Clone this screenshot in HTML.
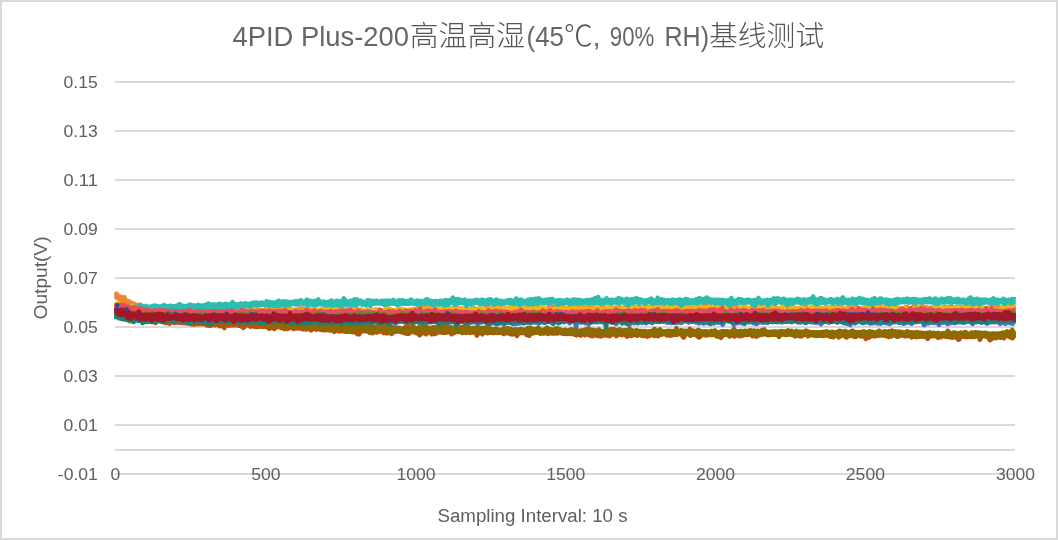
<!DOCTYPE html>
<html lang="zh">
<head>
<meta charset="utf-8">
<title>4PID Plus-200高温高湿(45℃, 90% RH)基线测试</title>
<style>
html,body{margin:0;padding:0;background:#fff;}
body{width:1058px;height:540px;overflow:hidden;}
svg{display:block;}
text{font-family:"Liberation Sans","Noto Sans CJK SC",sans-serif;fill:#5E5E5E;}
.t{font-size:27.5px;font-weight:300;fill:#666;}
.c{font-size:28.8px;font-weight:300;fill:#555;}
.a{font-size:16.5px;}
.b{font-size:18px;}
</style>
</head>
<body>
<svg width="1058" height="540" viewBox="0 0 1058 540">
<rect x="0" y="0" width="1058" height="540" fill="#fff"/>
<rect x="1" y="1" width="1056" height="538" fill="none" stroke="#D9D9D9" stroke-width="2"/>
<g fill="#D9D9D9">
<rect x="115" y="81" width="900" height="2"/>
<rect x="115" y="130" width="900" height="2"/>
<rect x="115" y="179" width="900" height="2"/>
<rect x="115" y="228" width="900" height="2"/>
<rect x="115" y="277" width="900" height="2"/>
<rect x="115" y="326" width="900" height="2"/>
<rect x="115" y="375" width="900" height="2"/>
<rect x="115" y="424" width="900" height="2"/>
<rect x="115" y="473" width="900" height="2"/>
<rect x="115" y="449" width="900" height="2"/>
</g>
<defs><clipPath id="cp"><rect x="114.2" y="60" width="901.6" height="420"/></clipPath></defs>
<g clip-path="url(#cp)">
<path fill="#4472C4" d="M114,310.6l1-0.4 1-1.3 1-1 1-0.3 1,0.1 1,0.7 1,3.1 1,0.1 1,0.1 1,0.1 1,0.1 1,0.4 1,0.3 1,0.1 1,0.1 1-0.2 1,0.3 1,0.5 1-0.1 1,0.1 1-0.2 1,0.1 1,0.6 1,0.5 1-0.6 1-0.3 1,0.2 1,0.7 1,0 1-0.1 1-0.5 1,0 1,0.5 1,1.2 1,0 1,0.4 1,0.1 1,0.3 1-0.3 1-0.4 1-0.2 1,0.1 1-0.4 1-0.6 1-1 1-0.4 1,0 1,0.4 1,2.9 1-0.4 1,0 1,0.5 1-1.9 1-0.5 1-0.1 1,0.4 1,1.4 1,0.3 1-0.4 1,0 1-0.4 1,0 1,0.5 1,0.6 1-0.5 1-0.2 1,0.2 1,0 1-0.1 1-1 1-0.5 1-0.1 1,0.3 1,1.2 1,0.5 1,0.3 1-0.4 1-0.5 1,0 1,0.4 1,0.4 1,0 1-0.8 1-0.2 1,0.2 1,0.8 1,0.3 1-0.2 1,0.2 1,0.1 1-0.5 1-0.1 1,0.3 1,0.4 1-0.6 1-0.1 1,0.4 1-0.3 1,0.2 1,0.3 1-0.1 1-0.5 1,0 1-0.3 1-0.3 1-0.2 1,0.3 1,0 1-0.3 1-0.4 1-0.4 1,0.1 1,0.6 1,1.9 1-0.3 1,0.1 1,0.1 1,0 1-0.1 1-0.9 1-0.9 1-0.2 1,0.1 1,0.7 1,1 1,0.3 1-0.6 1-0.1 1,0.1 1-0.1 1,0.3 1-0.2 1,0.2 1-0.3 1-0.1 1-0.1 1,0.1 1,0.6 1-0.6 1-0.8 1-0.2 1,0.2 1,0.8 1,1.1 1-0.3 1-0.1 1,0.2 1-0.2 1-0.1 1-0.3 1-0.1 1-0.5 1-0.4 1,0.1 1,0.6 1,0.4 1-0.1 1-0.3 1,0.2 1,0.3 1,0 1-0.1 1-0.2 1-0.4 1-0.2 1,0.2 1,0.7 1-0.8 1-0.5 1,0 1,0.5 1,0.1 1,0.1 1,0.4 1-0.1 1,0.1 1-0.1 1,0.3 1-0.1 1,0.3 1-0.3 1-0.2 1-0.3 1,0 1,0.6 1,0.8 1,0.4 1-0.5 1-0.7 1-0.2 1,0.3 1,0.1 1,0 1-0.8 1-0.2 1,0.2 1,0 1-0.2 1-0.6 1-0.4 1,0 1,0.5 1,1.5 1,0.2 1,0.3 1-0.3 1-0.2 1,0.2 1,0.6 1-0.8 1-0.3 1,0.1 1-0.1 1-0.4 1,0 1,0.4 1,0.7 1,0.1 1,0 1-0.1 1-0.8 1-0.2 1-0.7 1-0.2 1,0.2 1,0.7 1,0.3 1,0.3 1,0.3 1-1.4 1-0.5 1-0.6 1-0.8 1-0.2 1,0.2 1,0.1 1-0.4 1,0.1 1,0.6 1,2.3 1-0.2 1-0.2 1,0.1 1-0.3 1,0.1 1,0.3 1-0.5 1,0 1,0 1-0.5 1-0.6 1-0.1 1,0.4 1,1.1 1,0 1,0.2 1-0.4 1-0.5 1-0.1 1,0.4 1,0.5 1-0.4 1,0 1,0.1 1,0 1-0.2 1,0.1 1,0.3 1-0.4 1,0.1 1,0.4 1,0.4 1,0 1-0.5 1,0 1,0.5 1,0.6 1-0.1 1-0.6 1-0.4 1,0 1,0.4 1,0 1-1.7 1-0.5 1,0 1,0.4 1,0 1,0 1,0.4 1,0.3 1,0 1,0.6 1,0.9 1-0.4 1,0 1,0 1,0 1,0 1,0.4 1-0.4 1-0.2 1,0.2 1,0 1,0.2 1-0.1 1,0.1 1-0.3 1-0.3 1,0.1 1-0.2 1,0 1,0.5 1,0.3 1-0.6 1-0.3 1,0.1 1-0.6 1-0.3 1,0.1 1,0.6 1,0.6 1,0.3 1,0 1-1 1-0.6 1-0.1 1,0.4 1,1.1 1,0.2 1-0.3 1-0.4 1,0.1 1,0.5 1,0.4 1-0.3 1,0.1 1,0.3 1-0.1 1-0.2 1,0.3 1,0 1,0.2 1-0.8 1-0.7 1-0.2 1,0.3 1,0.4 1-1.4 1-0.6 1-0.1 1,0.4 1,1.1 1,1.2 1-0.2 1,0.2 1,0.3 1-0.6 1-0.1 1,0.3 1,0 1-0.1 1-0.1 1,0.4 1-0.2 1-0.2 1,0.2 1-0.3 1,0 1,0.4 1,0.1 1-0.5 1-0.4 1-0.3 1,0.2 1,0.5 1-0.6 1-0.1 1,0.4 1,1 1-0.6 1-0.3 1,0.1 1,0.6 1,0.3 1-0.4 1,0.1 1,0.5 1-0.7 1-0.2 1,0.2 1,0.5 1-0.1 1-0.1 1-0.4 1,0.1 1-0.1 1-0.2 1,0.2 1,0.7 1,0 1,0 1,0.5 1,0.2 1,0.1 1,0.1 1-0.6 1-0.1 1,0.3 1-1.2 1-0.8 1-0.3 1,0.1 1,0.7 1,0.3 1,0 1,0.3 1-1.1 1-0.4 1,0 1,0.5 1-0.1 1-0.1 1,0.3 1,0.8 1,0 1,0.5 1-0.4 1-0.1 1-0.3 1,0 1,0.3 1,0.5 1,0 1-1.5 1-0.4 1,0 1,0.4 1,0.8 1,0 1,0.1 1,0.5 1,0 1-0.1 1,0 1-0.3 1-0.4 1,0.1 1,0.6 1,0.3 1-0.9 1-0.2 1,0.2 1,0.4 1,0.2 1-0.5 1-0.3 1,0 1,0 1-0.3 1,0.2 1,0.6 1,0.2 1-0.6 1-2.1 1-0.7 1-0.1 1,0.3 1,1 1,1.7 1-0.7 1-0.2 1,0.2 1,0.6 1,0.7 1,0.4 1,0.1 1-0.1 1-0.7 1-0.2 1-0.3 1-0.4 1-0.2 1,0.2 1,0.2 1,0.6 1-0.4 1-0.1 1,0.3 1,0.1 1-0.1 1,0.1 1-0.2 1-0.4 1-0.5 1,0 1,0.4 1-0.4 1-0.1 1,0.2 1,0 1,0.4 1-0.2 1,0.3 1,0.3 1,0.4 1,0.3 1,0.2 1-1.1 1-0.4 1,0.1 1,0.5 1,0.3 1,0.4 1,0.4 1-0.2 1-0.1 1,0.2 1,0.2 1-0.6 1-0.2 1,0.2 1-1 1-0.6 1,0 1,0.3 1,1.2 1,0.3 1-0.5 1,0 1,0.1 1,0 1,0.6 1-0.3 1-0.5 1-0.2 1,0.1 1,0.5 1,0 1-1 1-0.3 1,0.1 1,0.4 1,0.4 1,0.5 1-0.1 1-0.1 1-0.3 1-0.3 1-0.4 1-0.1 1,0.3 1-0.1 1,0.4 1,0.6 1-0.1 1,0 1-0.1 1-0.4 1-0.3 1,0.2 1,0.4 1-0.3 1-0.1 1,0.3 1,0.1 1,0.4 1-0.6 1-0.4 1,0.1 1,0.3 1,0.2 1-0.1 1,0 1,0.3 1-0.2 1,0.2 1,0 1-0.3 1-0.9 1-0.2 1,0.1 1,0.7 1,0.3 1-0.4 1,0.1 1,0.6 1-0.2 1,0.2 1,0.5 1-2.2 1-0.4 1,0 1,0.4 1,1.1 1-0.1 1,0.3 1,0.5 1,0 1-0.5 1,0 1-0.3 1-0.3 1-0.1 1-0.4 1-0.1 1-0.4 1,0 1,0.4 1,1.7 1-0.1 1,0 1,0 1-0.6 1-0.1 1-0.3 1-0.3 1,0.2 1,0.7 1,0.2 1,0.4 1-0.5 1-0.2 1,0 1,0.5 1-0.2 1,0 1-0.2 1-0.2 1,0.1 1,0.8 1-0.1 1-0.9 1-0.7 1-0.1 1,0.3 1,0 1-0.2 1,0.1 1,0.8 1-0.1 1,0.1 1,0.5 1-0.4 1-0.1 1,0.3 1,1.2 1,0.1 1-0.3 1-0.2 1,0 1-1.2 1-0.4 1,0 1,0.5 1,0.6 1,0.1 1,0.1 1,0.1 1,0.2 1-0.2 1-0.2 1,0.1 1,0.4 1-0.4 1,0 1-0.2 1,0 1-0.7 1-0.1 1,0.2 1-0.4 1-0.3 1,0.2 1,0.6 1,0.3 1-0.7 1-0.5 1,0 1,0.4 1-0.1 1,0.2 1,0.4 1,0.4 1-0.3 1-0.2 1,0 1-0.2 1-1.9 1-0.5 1-0.1 1,0.4 1,1.4 1,0.8 1-0.1 1-0.5 1-0.5 1,0 1,0.5 1,1.3 1-0.4 1,0.1 1,0.2 1-1.6 1-0.7 1-0.1 1,0.2 1,0.9 1,1.7 1-0.4 1-0.1 1-0.3 1-0.1 1,0.2 1,0.3 1,0.3 1-0.5 1,0 1,0.3 1-0.1 1-0.8 1-0.6 1-0.1 1,0.1 1,0.6 1,0.7 1,0.2 1,0.1 1,0.2 1-1.4 1-0.6 1-0.1 1,0.4 1-0.3 1-0.2 1,0.2 1,0.8 1,0.6 1-0.7 1-0.6 1-0.1 1,0.4 1,0.7 1-1 1-0.3 1,0.1 1,0.7 1-0.4 1-0.4 1-0.1 1,0.1 1,0.6 1,1.2 1-0.3 1-0.2 1,0.3 1,0.3 1-0.3 1-0.2 1,0.2 1,0.8 1,0.2 1-0.8 1-0.7 1-0.2 1-0.4 1-0.2 1,0.3 1,1 1,0.1 1,0.1 1-0.2 1,0 1,0.4 1-1.3 1-0.6 1-0.1 1,0.1 1-0.6 1-0.1 1,0.4 1,1 1-0.5 1-0.1 1,0.4 1,1.4 1,0.3 1,0.2 1-1.1 1-0.5 1,0 1,0.4 1,0.5 1,1 1-1.1 1-1.4 1-0.4 1,0.1 1,0.5 1,1.8 1-0.4 1,0.1 1,0.5 1-0.3 1-0.2 1-0.2 1,0.1 1,0.1 1,0.3 1-0.3 1,0 1-0.1 1,0.1 1,0 1-0.1 1,0.1 1,0.1 1,0 1-0.5 1-0.2 1-0.1 1,0.1 1-0.5 1-0.4 1,0.1 1,0.1 1-0.1 1,0.3 1,0.3 1-0.2 1,0.3 1,0.6 1-0.8 1-0.4 1,0.1 1,0.1 1,0.2 1-0.2 1-0.1 1,0.1 1,0.8 1-0.4 1-0.5 1-0.2 1,0.3 1,0.2 1,0.4 1-0.6 1-0.1 1,0.4 1,1 1-0.2 1-0.1 1-0.4 1-0.6 1,0 1,0.4 1-0.9 1-0.3 1,0.1 1,0.6 1,0.8 1,0 1-0.1 1-0.2 1,0.2 1,0.1 1-0.4 1,0 1,0.4 1-0.1 1-0.2 1,0.1 1,0.2 1,0 1,0.3 1,0 1-0.6 1-0.4 1,0.1 1,0.5 1-1.3 1-1.4 1-0.4 1,0.1 1,0.5 1,2.7 1-0.4 1-0.8 1-0.3 1,0.2 1,0.7 1-0.5 1-0.5 1,0 1,0.4 1,1 1,0 1-0.1 1-0.1 1,0.1 1,0.4 1,1 0,4.7 -1,0.7 -1,0.2 -1,1.7 -1,0.4 -1,0 -1-0.4 -1-0.3 -1,0 -1-0.5 -1,0.8 -1,0.6 -1,0 -1-0.3 -1-1.2 -1,0.8 -1,0.6 -1,0.1 -1-0.2 -1-1.1 -1-0.2 -1-0.4 -1,0.3 -1,0 -1-0.3 -1,0.3 -1-0.1 -1,0.4 -1,0.1 -1,0.8 -1,0.2 -1-0.2 -1-0.8 -1-0.7 -1,0.6 -1,0.2 -1-0.1 -1-0.7 -1-0.5 -1,0.3 -1,0.3 -1,0.4 -1-0.1 -1,1.2 -1,0.4 -1,0 -1-0.5 -1-1.5 -1-0.7 -1,0.3 -1,0.2 -1,0.6 -1,0.2 -1-0.1 -1-0.6 -1-0.1 -1,0.4 -1,0.2 -1-0.2 -1-0.5 -1,0.5 -1,0.2 -1-0.3 -1-0.8 -1,0.3 -1,1.2 -1,0.4 -1-0.1 -1,0.8 -1,0.3 -1-0.1 -1-0.5 -1-1.2 -1,0.3 -1,0 -1-0.3 -1,1.5 -1,0.8 -1,0.2 -1-0.2 -1-0.8 -1-1 -1,0.1 -1-0.2 -1-0.1 -1,0.2 -1-0.2 -1,0.2 -1,0.6 -1,0.1 -1-0.3 -1,1 -1,0.8 -1,0.2 -1-0.2 -1-0.8 -1-2.9 -1,0.2 -1,0.2 -1,0.1 -1,0 -1,0.4 -1,0 -1,0.1 -1,1.2 -1,0.3 -1-0.1 -1-0.5 -1-1.1 -1,0.5 -1,0 -1,0.1 -1,0.8 -1,0.3 -1-0.2 -1-0.5 -1-0.5 -1,0.2 -1-0.1 -1-0.3 -1-0.3 -1-0.1 -1,0.1 -1-0.2 -1,0.4 -1,0.4 -1,1 -1,0.3 -1-0.1 -1-0.5 -1-0.1 -1-0.4 -1,0.1 -1-0.4 -1-1 -1,1.5 -1,0.5 -1,0 -1-0.5 -1,0.3 -1,0 -1-0.4 -1-0.3 -1,0.3 -1,0.3 -1,0 -1-0.6 -1-0.7 -1,0.1 -1-0.4 -1,0.3 -1,0.4 -1,0.1 -1-0.2 -1-0.2 -1-0.4 -1,0.2 -1-0.2 -1-0.3 -1,0.4 -1,0.7 -1,0.6 -1,0.1 -1-0.3 -1-0.9 -1,2.3 -1,0.6 -1,0.2 -1-0.3 -1-1 -1,0.2 -1-0.2 -1-0.7 -1-0.1 -1-0.1 -1-0.5 -1-0.7 -1-0.2 -1,0.4 -1,0.4 -1,0 -1-0.5 -1-0.6 -1,0.1 -1,0 -1,0.2 -1,0.4 -1,0.6 -1,0.2 -1-0.3 -1-0.6 -1-0.1 -1,0 -1,0.1 -1,1.5 -1,0.7 -1,0.2 -1-0.3 -1-0.9 -1-0.4 -1-0.1 -1,0.2 -1-0.2 -1,0 -1,0 -1-0.5 -1,0.1 -1,0 -1-0.5 -1,0.2 -1,0.8 -1,0.3 -1-0.1 -1-0.6 -1-0.2 -1,0 -1,0.5 -1,0 -1-0.2 -1,0.2 -1-0.2 -1-0.8 -1-0.6 -1,0.3 -1,0.4 -1,0.6 -1,0 -1-0.4 -1-0.3 -1-0.1 -1,0.2 -1,0.2 -1-0.1 -1,0 -1,0.4 -1,0.3 -1-0.1 -1-0.7 -1,0.3 -1,0.1 -1,0.3 -1-0.3 -1-0.3 -1,0.1 -1,0.2 -1-0.3 -1-0.1 -1-0.1 -1,0.6 -1,0.3 -1-0.1 -1,0 -1-0.4 -1,0.7 -1,0.1 -1-0.3 -1-0.3 -1,0.2 -1,0.2 -1,1.1 -1,0.4 -1,0 -1-0.6 -1-0.2 -1,0 -1-0.5 -1-0.9 -1,0.5 -1,0.1 -1-0.2 -1-0.4 -1-0.2 -1-0.1 -1,0.8 -1,0.8 -1,0.3 -1-0.2 -1-0.7 -1,0.2 -1,0.4 -1-0.1 -1,0.5 -1,1 -1,0.3 -1-0.1 -1-0.6 -1-1.9 -1-0.4 -1-0.9 -1-0.2 -1,0.1 -1-0.2 -1,2.5 -1,1.2 -1,0.3 -1,0 -1-0.6 -1-1.7 -1,0.5 -1,0 -1-0.5 -1,0.1 -1,0.8 -1,0.2 -1-0.2 -1-0.3 -1,0.5 -1,0.1 -1-0.4 -1-0.2 -1-0.1 -1,0.2 -1,0 -1,0.5 -1,0 -1-0.5 -1-0.5 -1,0.8 -1,0.2 -1-0.2 -1-0.8 -1,0.1 -1-0.3 -1-0.8 -1-0.1 -1,0.3 -1-0.1 -1,0.4 -1,0.5 -1,0 -1-0.5 -1-0.8 -1,0 -1-0.1 -1,1.4 -1,0.4 -1-0.1 -1-0.2 -1-0.2 -1,0 -1,0.1 -1,0.3 -1,0.1 -1-0.3 -1,0 -1,0.4 -1,0 -1-0.3 -1-0.6 -1,0.6 -1,0.1 -1-0.3 -1-1 -1,0.2 -1-0.1 -1-0.1 -1,0.3 -1,0.1 -1-0.2 -1-0.2 -1-0.2 -1-0.3 -1,0.6 -1,0.6 -1,0.7 -1,0.1 -1-0.3 -1-0.7 -1-0.4 -1,0.8 -1,0.6 -1,0.2 -1-0.3 -1-0.6 -1,0.5 -1,0.1 -1-0.3 -1-0.6 -1,0.5 -1,0.1 -1-0.1 -1,0.3 -1,0.4 -1,0 -1-0.4 -1,0.5 -1,0.6 -1,0.7 -1,0.2 -1-0.3 -1-0.9 -1-1 -1-0.1 -1,0 -1,0.3 -1-0.1 -1-0.7 -1-0.4 -1,0.2 -1,1.3 -1,0.6 -1,0.2 -1-0.1 -1-0.5 -1-1.4 -1,0.4 -1-0.1 -1-0.5 -1-0.4 -1,0.2 -1,0.6 -1,0.1 -1-0.4 -1-0.8 -1,0.6 -1,0.4 -1,0 -1,0 -1-0.2 -1,0.3 -1,0.1 -1-0.3 -1,0 -1,0.3 -1,0 -1-0.2 -1,1 -1,0.9 -1,0.2 -1-0.2 -1-0.7 -1,0 -1,0.1 -1-0.4 -1-1 -1,0.6 -1,0.1 -1-0.2 -1-0.9 -1,5.8 -1,0.6 -1,0.1 -1-0.4 -1-1.1 -1-5.6 -1,0.9 -1,1.2 -1,0.3 -1-0.1 -1-0.5 -1-1.5 -1,0.3 -1,0.5 -1,0.2 -1-0.2 -1-0.8 -1,0.5 -1,1 -1,0.6 -1,0.1 -1-0.4 -1-1.1 -1,0.1 -1,0.2 -1-0.3 -1-0.4 -1,0.7 -1,0.1 -1-0.3 -1-0.5 -1,0.5 -1,0.4 -1-0.1 -1,0.1 -1-0.2 -1-0.4 -1,0.8 -1,0.2 -1,0.4 -1,0 -1-0.5 -1-0.6 -1,0.3 -1-0.2 -1,0 -1,0.4 -1,0 -1-0.4 -1-0.5 -1,0.7 -1,0.2 -1-0.1 -1,0.1 -1-0.2 -1-0.1 -1,0.1 -1,0.7 -1,0.1 -1-0.1 -1,0.4 -1,0 -1,0.2 -1-0.1 -1,0.3 -1,0.2 -1-0.2 -1-0.8 -1-1.2 -1-0.2 -1-0.2 -1,1.1 -1,0.6 -1,0.7 -1,0.5 -1,0 -1-0.4 -1-1.4 -1-1.2 -1,1.7 -1,0.7 -1,0.1 -1-0.2 -1-0.9 -1,0.4 -1,0 -1-0.4 -1,0.4 -1,0.8 -1,0.7 -1,0.3 -1-0.1 -1-0.6 -1-2.5 -1-0.1 -1,0.3 -1,0.2 -1,0.2 -1,0.2 -1,1.4 -1,0.4 -1-0.1 -1-0.5 -1-1.7 -1,0.1 -1-0.4 -1-0.7 -1,1 -1,0.4 -1,0 -1,0.5 -1,0.4 -1,0 -1-0.4 -1-1 -1-0.4 -1,0.1 -1-0.4 -1,0.1 -1,0.4 -1,0.2 -1,0.6 -1,0.1 -1-0.4 -1-0.7 -1,0.1 -1,0.1 -1-0.2 -1-0.7 -1,2.7 -1,0.8 -1,0.2 -1-0.2 -1-0.8 -1-2.3 -1,0.2 -1,0.1 -1,0.1 -1-0.3 -1,0.2 -1,0.3 -1,0.3 -1-0.1 -1-0.7 -1,0.2 -1-0.3 -1-0.3 -1,0.2 -1,0.4 -1-0.1 -1,1.5 -1,0.8 -1,0.2 -1-0.2 -1-0.8 -1-1 -1-0.1 -1,0.3 -1,0.4 -1-0.1 -1-0.6 -1-0.4 -1,0.3 -1-0.1 -1-0.2 -1,0.3 -1,0.2 -1,0.2 -1,0 -1,0.2 -1-0.2 -1-0.7 -1,0.2 -1,0.2 -1-0.1 -1-0.2 -1-0.3 -1-0.3 -1,0.1 -1,0.8 -1,0.1 -1,0.7 -1,0.4 -1-0.1 -1-0.3 -1-0.7 -1,0.3 -1,0 -1-0.5 -1-0.1 -1,0.1 -1-0.2 -1,0.9 -1,0.3 -1-0.2 -1-0.7 -1-1 -1,0.9 -1,0.7 -1,0.1 -1-0.3 -1,0.1 -1-0.2 -1-0.5 -1,0.9 -1,1.7 -1,0.6 -1,0 -1-0.4 -1-0.5 -1,0.3 -1-0.1 -1-0.6 -1-0.8 -1,0.8 -1,0.2 -1-0.2 -1-0.8 -1-1.7 -1,0.4 -1,0.2 -1-0.1 -1-0.4 -1,0.1 -1,0.4 -1,0.4 -1,0.2 -1-0.3 -1-0.7 -1-0.1 -1,0.1 -1,0 -1,0.1 -1,0.4 -1,0.2 -1,0.3 -1,0.2 -1-0.2 -1-0.3 -1-0.3 -1-0.1 -1,0.8 -1,0.3 -1-0.1 -1,0.1 -1-0.3 -1,0.1 -1,0 -1-0.4 -1-0.8 -1-0.1 -1,1.7 -1,0.4 -1,0 -1-0.3 -1,0.3 -1-0.1 -1-0.6 -1-0.5 -1-0.1 -1,0 -1,0.5 -1,0.6 -1,0.1 -1-0.4 -1-1.1 -1,0.2 -1,1.3 -1,0.6 -1,0.1 -1-0.4 -1-1.1 -1-0.2 -1,0 -1,0.6 -1,0.1 -1-0.4 -1-0.8 -1,0.1 -1-0.3 -1,0.4 -1-0.1 -1,0.5 -1,0 -1-0.5 -1-0.4 -1-0.2 -1,0.7 -1,0.2 -1-0.3 -1-0.3 -1-0.2 -1-0.3 -1,0.2 -1-0.1 -1-0.5 -1,1.4 -1,0.4 -1,0 -1-0.4 -1-1 -1-0.2 -1,0.2 -1-0.2 -1-0.1 -1,0.5 -1,0.3 -1-0.2 -1,0.1 -1,0 -1,0.2 -1,0 -1,0 -1,0 -1-0.1 -1,0.3 -1,0.8 -1,0.2 -1-0.2 -1,0 -1-0.5 -1,0.3 -1,0 -1,1.5 -1,0.5 -1,0 -1-0.5 -1-1.7 -1,0.8 -1,0.2 -1-0.2 -1-0.8 -1-0.8 -1-0.1 -1,0.6 -1,0 -1-0.3 -1,0.9 -1,0.7 -1,0.2 -1-0.3 -1-0.3 -1,0 -1-0.4 -1-0.3 -1,0.5 -1,0 -1-0.5 -1,0.6 -1,0.6 -1,0 -1-0.3 -1-1.2 -1-0.9 -1,0 -1,0.8 -1,0.5 -1,0 -1,0 -1,0.1 -1-0.3 -1,0 -1-0.4 -1-0.4 -1-0.2 -1,0.1 -1,0.2 -1-0.2 -1-0.5 -1,0.3 -1,0.4 -1,0.2 -1-0.2 -1,0.1 -1,0.2 -1,0 -1,0.4 -1,0.2 -1-0.2 -1-0.8 -1-0.2 -1-0.4 -1,0.2 -1,0.1 -1,0.2 -1-0.2 -1,0.4 -1,0.5 -1,0 -1-0.5 -1,0 -1,0.2 -1-0.3 -1,0 -1,0 -1-0.5 -1,1.3 -1,0.4 -1,0 -1-0.5 -1-0.1 -1,0 -1-0.5 -1,0 -1,0.1 -1-0.3 -1-0.3 -1,0.7 -1,0.2 -1-0.2 -1-0.2 -1-0.1 -1,0 -1-0.3 -1,0.5 -1,0.2 -1-0.1 -1-0.5 -1,0.2 -1-0.2 -1-0.7 -1,0.3 -1,0 -1-0.3 -1,0.1 -1,0.2 -1,0.1 -1,0.3 -1,0.4 -1-0.1 -1-0.6 -1,0.1 -1,0.3 -1-0.2 -1-0.6 -1-0.8 -1,0 -1-0.1 -1-0.5 -1-0.1 -1,0.3 -1-0.1 -1-0.3 -1-0.2 -1,0 -1-0.3 -1-0.1 -1-0.1 -1-0.4 -1,0.1 -1,0.7 -1,0.2 -1-0.1 -1-0.7 -1-1.5 -1,0.2 -1,0.1 -1-0.4 -1-0.1 -1-0.1 -1-0.5 -1-0.6 -1-0.1 -1-0.5 -1-0.7z"/>
<path fill="#EF8432" d="M114,293.2l1-1.4 1-0.4 1,0.1 1,0.5 1,1.6 1,0.5 1,0.6 1,0.4 1,0.4 1-0.5 1,0 1,0.5 1,2.8 1,0.4 1,0.4 1,0.3 1,0.7 1,0.7 1,0.2 1,0.6 1,0.1 1,0.8 1,0.5 1-0.3 1,0 1-0.3 1,0.2 1,0.7 1,2 1,0.3 1,1 1,0.1 1-0.2 1,0.2 1,0.8 1-0.4 1-0.1 1,0 1,0.5 1,0.4 1,0 1-0.5 1-0.3 1-0.2 1,0.2 1,0 1,0.2 1,0.3 1,0.4 1-0.8 1-1 1-0.3 1,0.2 1,0.6 1,0.6 1-0.4 1,0 1,0.5 1,0.2 1-0.9 1-0.9 1-0.3 1,0.2 1,0 1,0 1,0.5 1,0.6 1-0.2 1,0.2 1,0.3 1,0.3 1,0.3 1-0.2 1-0.1 1,0.1 1-0.5 1-0.1 1,0.3 1-0.7 1-0.3 1,0.2 1,0.7 1,0.1 1,0 1,0.2 1-0.4 1,0.1 1,0.5 1,0.9 1-0.4 1-0.7 1-0.3 1,0.2 1,0.7 1,0 1,0.1 1-0.7 1-0.4 1,0.1 1,0.5 1-0.9 1-0.5 1,0 1-0.1 1,0 1,0.6 1,0.6 1-0.2 1,0.2 1,0.8 1,0.4 1-0.5 1-1.1 1-0.5 1-0.1 1,0 1-0.5 1,0 1,0.4 1,1.2 1,0.2 1,0.2 1,0 1,0.2 1-0.4 1,0 1,0.5 1,0.3 1,0.2 1,0.4 1-0.4 1-0.1 1,0.3 1,0.3 1-0.5 1-0.7 1-0.1 1,0.3 1,0.4 1-0.1 1-0.4 1-0.7 1-0.1 1,0.3 1,0 1,0 1,0.4 1,0.3 1-0.1 1-0.5 1,0 1,0.4 1,0.5 1,0 1-0.6 1-0.1 1,0.4 1-0.9 1-0.7 1-0.2 1,0.3 1,0.8 1,0.2 1-0.8 1-0.2 1,0.2 1,0.1 1,0.3 1-0.7 1-0.3 1-1 1-0.4 1,0 1,0.4 1,1.4 1-0.5 1,0 1,0.3 1,1.2 1,0 1-0.1 1,0.1 1-0.4 1,0.1 1-1.2 1-0.3 1,0 1,0.6 1-0.1 1,0.1 1,0.6 1-1.2 1-0.4 1,0 1,0.4 1,0.7 1,1.1 1-0.5 1,0 1,0.1 1,0.3 1,0.4 1,0.2 1,0 1-0.2 1-0.3 1-0.3 1-0.6 1-0.1 1,0.3 1,0.1 1,0.3 1-0.5 1-0.1 1,0.2 1-0.7 1-0.2 1,0.3 1,0.7 1-0.6 1-0.1 1,0.3 1,0.5 1-0.8 1-0.2 1,0.2 1,0.5 1,0 1,0.2 1,0.2 1,0.2 1,0.2 1,0.8 1,0 1-0.4 1-0.4 1,0 1,0.3 1-0.1 1,0.2 1-0.5 1-0.5 1-0.1 1,0.1 1,0 1,0.4 1-0.2 1,0.1 1,0.7 1,0.3 1,0.3 1,0.3 1,0 1-0.1 1-0.5 1-0.1 1,0.2 1-0.3 1-0.2 1-0.1 1-0.1 1,0 1,0.4 1-0.5 1-0.1 1,0 1,0.5 1,0.6 1-0.3 1-0.4 1-0.6 1-0.1 1,0.3 1,0.5 1,0 1-0.4 1,0.1 1,0.6 1-0.4 1-0.2 1,0.3 1,0 1-0.7 1-0.1 1,0.3 1,0.3 1-0.1 1,0.2 1-0.2 1,0 1-0.1 1,0.4 1,0.9 1-0.2 1,0.2 1-1 1-0.5 1-0.1 1-0.5 1-0.1 1-0.1 1,0.1 1,0.6 1-1.2 1-0.8 1-0.2 1-0.1 1-0.6 1-0.1 1,0.4 1,1.1 1,0.5 1,0.2 1-0.6 1-0.4 1,0.1 1-0.3 1-0.3 1,0.1 1,0.5 1,0.6 1,0.7 1-0.1 1-0.5 1-0.1 1,0.4 1,0.1 1-0.2 1-0.6 1-0.1 1,0.4 1,0.2 1,0.2 1-0.3 1,0 1,0.1 1-0.1 1,0.1 1-0.9 1-0.7 1-0.1 1,0.3 1,0.5 1,0.1 1,0.6 1,0.3 1-0.4 1,0.1 1,0.5 1,0.1 1-0.3 1-0.6 1-0.1 1,0.3 1,1 1-0.4 1,0.1 1,0.1 1-0.8 1-0.2 1,0.2 1,0.5 1,0 1,0.1 1,0.1 1-0.1 1-0.1 1-0.2 1,0.1 1-0.5 1-0.2 1,0.1 1-1 1-0.4 1,0.1 1,0.5 1,0.7 1,0.5 1-1.8 1-0.8 1-0.2 1,0.2 1,0.8 1,1.6 1-0.5 1,0 1,0.3 1,0.5 1,0.4 1-0.4 1,0.1 1,0.3 1,0 1-0.5 1-0.2 1,0.1 1-0.6 1-0.3 1,0.2 1,0 1-0.8 1-0.2 1,0.2 1,0.8 1,1.3 1-1 1-0.5 1-0.1 1,0.3 1,0.3 1,0.2 1,0.3 1-0.4 1,0 1,0.6 1,0.1 1-1.2 1-0.5 1,0 1,0.5 1-0.2 1,0 1,0.5 1,0.1 1-0.2 1,0.2 1,0.5 1-0.3 1-0.1 1,0.4 1,0.7 1-0.1 1-1.5 1-1.8 1-0.7 1-0.1 1,0.2 1,0.9 1,0.3 1-0.1 1,0.3 1,0 1,0.4 1,0 1,0.3 1-1.1 1-0.4 1,0.1 1,0.6 1,0.8 1,1 1,0.2 1-0.7 1-0.1 1,0.2 1,0.9 1-0.4 1-2.4 1-0.5 1-0.1 1,0.4 1,0.8 1-0.6 1-0.1 1-0.1 1,0.1 1,0.6 1,0.7 1,0.5 1,0 1,0 1-0.2 1,0 1,0.4 1-0.6 1-0.1 1,0.2 1,0.1 1-0.4 1,0.1 1,0.5 1,0.5 1-0.1 1-0.1 1-0.4 1-1.6 1-0.6 1-0.1 1,0.3 1,1 1,1.4 1,0.3 1,0.6 1-0.3 1,0.2 1-1.4 1-0.4 1,0.1 1,0.5 1,0.9 1-1 1-0.3 1,0.2 1,0.4 1-0.5 1-0.4 1,0.1 1,0.5 1,0.3 1-0.6 1-0.2 1,0.2 1,0.7 1-0.2 1-0.3 1,0 1-0.9 1-1.2 1-0.3 1,0.1 1,0.5 1,2.4 1-1.7 1-0.6 1-0.1 1,0.3 1,1.2 1,0.4 1,0.2 1-0.6 1-0.7 1-0.2 1,0.3 1,0.9 1,1.2 1,0.1 1-0.1 1-0.7 1-0.1 1,0.1 1-0.2 1-0.5 1-0.1 1-0.1 1,0 1,0.4 1,0.2 1,0.1 1-0.3 1-0.1 1,0.1 1-0.1 1,0.4 1-0.1 1-0.3 1-0.3 1,0.1 1,0.6 1,0.9 1-0.1 1-0.5 1-0.1 1-1.4 1-0.5 1,0 1,0.2 1,0 1,0.3 1,0.7 1-0.2 1-1.2 1-0.4 1,0 1,0.5 1,1.3 1,0.7 1-0.4 1-0.8 1-0.5 1,0 1,0.4 1,1.3 1,0.1 1-0.8 1-0.2 1,0.2 1,0.7 1-2.5 1-0.6 1-0.1 1,0.3 1,0.5 1,0 1,0.5 1,0.4 1,0 1,0.5 1,1 1-0.2 1-1.3 1-1.4 1-0.4 1,0.1 1,0.5 1,1.1 1-1 1-0.3 1,0.1 1,0.7 1,1.9 1,0.3 1-0.3 1,0.1 1,0.5 1,0.2 1-1 1-0.8 1-0.2 1,0.2 1-0.6 1-0.5 1-0.1 1,0.4 1,1.4 1,0.6 1,0.3 1-0.2 1,0.1 1,0.1 1-0.5 1,0 1,0.4 1,0.1 1-0.1 1,0.1 1-0.3 1,0 1-0.4 1-0.4 1-0.4 1,0 1,0.4 1,1 1-1.4 1-0.8 1-0.1 1,0.2 1,0.9 1,0.6 1-0.1 1,0.3 1,0.2 1-1.5 1-0.7 1-0.2 1,0.3 1,0.9 1-0.5 1,0 1,0.3 1,0.5 1,0.4 1,0.6 1,0.5 1-0.3 1-0.2 1-1.8 1-1.1 1-0.4 1,0.1 1,0.6 1,1.8 1-0.3 1,0.2 1,0.6 1-0.7 1-0.8 1-0.2 1,0.2 1,0.8 1,1.2 1,0 1,0.1 1-0.1 1-0.1 1-0.5 1-0.7 1-1.4 1-0.4 1,0 1,0.5 1,0.9 1,0.3 1,1 1,0 1-0.3 1-0.3 1,0.1 1-0.7 1-0.2 1,0.2 1-0.3 1,0.1 1-0.3 1-0.1 1,0.3 1,1.2 1,0.8 1,0 1-0.5 1-0.7 1-0.1 1,0.2 1,0.9 1-0.4 1-0.3 1-0.3 1,0.3 1-0.6 1-0.1 1,0.4 1,0.4 1-0.4 1,0.1 1-0.1 1-0.6 1,0 1,0.4 1,1.3 1,0.5 1-0.3 1-0.3 1-0.1 1-0.1 1-0.3 1-0.1 1,0.2 1,0.9 1-1.1 1-1.2 1-0.3 1,0 1,0.6 1,1.5 1-0.2 1,0.3 1,0.6 1-0.6 1-0.4 1,0 1-0.7 1-0.4 1,0 1,0.5 1,0 1,0.2 1,0.6 1-0.5 1-0.3 1,0.1 1-0.3 1,0.2 1,0.6 1-1.4 1-0.7 1-0.2 1,0.2 1,0.9 1,1.2 1-0.8 1-0.4 1-0.3 1,0.1 1,0.7 1-0.7 1-0.3 1-0.2 1-0.1 1,0.2 1,0.4 1,0.3 1,1 1,0.3 1-0.5 1,0 1,0.5 1,0 1,0.1 1-0.3 1,0.1 1-1.1 1-0.4 1,0.1 1,0.4 1,0.9 1,0.6 1-0.3 1-2.5 1-0.9 1-0.2 1,0.2 1,0.7 1,1.5 1,1 1-0.5 1,0 1-1.4 1-0.4 1,0 1,0.4 1,1.6 1-0.3 1-0.1 1,0.4 1,0.5 1-0.4 1-0.2 1-0.1 1,0.1 1,0 1-0.5 1-0.3 1,0.3 1,0.7 1,0.4 1,0.1 1-0.5 1-0.1 1-0.3 1-0.5 1-0.1 1,0.3 1,0.7 1-0.5 1-0.7 1-0.5 1-0.1 1,0.3 1,0.8 1,0 1,0.5 1-0.3 1-0.1 1,0.2 1-0.4 1-0.3 1,0.1 1,0.2 1-0.2 1,0.2 1-0.2 1-0.2 1-0.3 1,0.1 1,0.6 1-0.3 1,0.1 1,0.5 1,0.1 1,0.4 1-0.1 1-0.4 1-2.3 1-0.5 1-0.1 1,0.2 1,0.6 1,2.4 1,0.2 1-0.1 1,0.4 1,0.6 1-0.3 1-2.1 1-1.2 1-0.3 1,0.1 1,0.5 1,0.9 1-0.1 1,0.2 1-1.1 1-0.4 1,0 1,0.4 1,2.4 1-0.2 1,0.1 1,0.5 1-0.3 1,0 1-1.9 1-0.5 1-0.1 1,0.3 1,0.3 1,0.7 1-0.5 1-0.1 1,0.3 1,0.4 1,0.1 1,0.7 0,6.7 -1,0.4 -1,0 -1-0.1 -1,0.1 -1,0.6 -1,0.2 -1,0.1 -1,0.4 -1,0.1 -1-0.3 -1-0.6 -1,1.2 -1,0.9 -1,0.3 -1-0.2 -1-0.7 -1-0.4 -1,0.1 -1-0.4 -1-1.1 -1,0.2 -1-0.2 -1,0.9 -1,0.4 -1-0.1 -1-0.6 -1-0.1 -1,0.9 -1,0.2 -1-0.1 -1-0.7 -1-0.4 -1,1 -1,0.3 -1-0.1 -1-0.6 -1-0.8 -1,0.3 -1,0.2 -1-0.2 -1-0.4 -1,0.2 -1,0 -1,0.1 -1,0.5 -1,0.1 -1-0.3 -1,0 -1,0.4 -1,0.4 -1-0.1 -1-0.5 -1,0.2 -1,0 -1-0.5 -1-0.4 -1,0.8 -1,0.1 -1-0.2 -1-0.1 -1,0.3 -1,0.1 -1,0.2 -1-0.2 -1-0.4 -1,0.7 -1,0.2 -1-0.3 -1-0.8 -1,0.8 -1,0.2 -1-0.1 -1-0.7 -1,0 -1-0.1 -1,0.3 -1-0.1 -1-0.2 -1-0.7 -1-0.5 -1,0.1 -1,1 -1,0.4 -1-0.1 -1-0.5 -1,0.4 -1-0.1 -1-0.4 -1-0.3 -1,1.1 -1,0.5 -1,0 -1-0.5 -1,0.1 -1-0.2 -1-0.7 -1-0.3 -1,0 -1,0.1 -1,0.1 -1,2.4 -1,0.5 -1,0 -1-0.4 -1-1.4 -1-1 -1,0.1 -1-0.3 -1-0.2 -1,0.4 -1,0.2 -1,0.1 -1,0.1 -1,0 -1-0.2 -1,0.6 -1,0.1 -1,0.1 -1,0.8 -1,0.2 -1-0.2 -1-0.8 -1-0.1 -1,0.6 -1,0.2 -1-0.3 -1,0.3 -1,1.2 -1,0.3 -1-0.1 -1-0.5 -1-2.7 -1,0.2 -1-0.3 -1-0.5 -1,0.4 -1,0.8 -1,0.5 -1,0.1 -1-0.4 -1,0.7 -1,0.5 -1,0 -1-0.5 -1-1.1 -1,0.8 -1,0.4 -1-0.1 -1-0.6 -1,0.3 -1,0.5 -1,0 -1-0.3 -1-0.3 -1,0 -1,0.5 -1,0 -1-0.2 -1-0.5 -1-0.2 -1,0.5 -1,0.7 -1,0.1 -1-0.2 -1-0.7 -1,1 -1,0.6 -1,0.1 -1-0.4 -1-1.1 -1-0.5 -1,0 -1,0.3 -1-0.2 -1-0.3 -1-0.2 -1,0.2 -1,0 -1-0.4 -1-0.2 -1-0.1 -1-0.5 -1,0.7 -1,0.6 -1,0.1 -1,0 -1-0.4 -1,0.1 -1-0.3 -1,0.1 -1,0.4 -1,0.2 -1-0.1 -1,0.3 -1-0.2 -1-0.5 -1-0.2 -1,0 -1-0.4 -1,0.3 -1-0.2 -1,0.4 -1,0.1 -1,0.9 -1,0.5 -1,0 -1,0 -1-0.3 -1-1.2 -1-0.1 -1,0.4 -1,0.6 -1,0.1 -1-0.2 -1,0.3 -1,0.5 -1,0 -1-0.3 -1-0.3 -1-1 -1,0.3 -1,0.3 -1,0.1 -1-0.2 -1-0.6 -1,0.8 -1,0.3 -1,0 -1-0.5 -1-0.3 -1,0.5 -1,0.1 -1-0.4 -1-0.5 -1,0.2 -1-0.2 -1,0.2 -1-0.2 -1-0.1 -1-0.1 -1,1.9 -1,0.8 -1,0.2 -1-0.2 -1-0.8 -1-1.1 -1,0.7 -1,0.1 -1-0.3 -1-1 -1-0.5 -1,1.6 -1,0.5 -1,0 -1-0.5 -1-0.5 -1-0.3 -1,0.2 -1-0.2 -1,0 -1-0.4 -1,0.2 -1-0.1 -1-0.7 -1,0.1 -1,0.4 -1-0.1 -1,0.3 -1,0.9 -1,0.5 -1,0.2 -1,0 -1-0.5 -1-0.3 -1,0.2 -1,0.7 -1,0.1 -1-0.2 -1-0.9 -1-0.3 -1-0.5 -1-0.2 -1,0.9 -1,0.6 -1,0.7 -1,0.2 -1-0.3 -1-0.7 -1,0.1 -1,0.3 -1-0.2 -1-0.5 -1-0.2 -1-0.3 -1-0.1 -1,1.6 -1,0.7 -1,0.2 -1-0.2 -1-0.9 -1-1.7 -1-0.2 -1,0.1 -1-0.3 -1,0.4 -1-0.1 -1-0.3 -1,0.4 -1,0 -1-0.5 -1-0.4 -1,0.1 -1,0.1 -1,0.9 -1,2 -1,0.6 -1,0.1 -1-0.3 -1-1 -1-0.7 -1-0.6 -1-1.2 -1-0.1 -1,0 -1-0.1 -1,0.6 -1,0.5 -1,0 -1-0.1 -1,0.1 -1-0.2 -1,0.7 -1,0.4 -1-0.1 -1-0.6 -1-0.4 -1-0.5 -1,1.9 -1,0.7 -1,0.2 -1-0.3 -1-0.3 -1,0.5 -1,0 -1-0.5 -1-1.2 -1-0.2 -1-0.4 -1,0 -1-0.1 -1,0.6 -1,0.3 -1,0.7 -1,1 -1,0.3 -1-0.2 -1-0.6 -1-1.2 -1-0.2 -1,0.6 -1,1.7 -1,0.6 -1,0.1 -1-0.4 -1-1.1 -1-0.1 -1,0.3 -1-0.2 -1-0.6 -1-0.5 -1,0.2 -1,0 -1-0.5 -1,2.3 -1,0.5 -1,0 -1-0.4 -1-1.3 -1-1 -1,0 -1,0.4 -1,0.1 -1-0.4 -1-0.6 -1-0.3 -1-0.1 -1,0 -1,2.7 -1,0.6 -1,0.1 -1-0.4 -1-1.1 -1-1.3 -1,0.2 -1-0.3 -1,0 -1-0.3 -1,0.6 -1,0.7 -1,1 -1,0.4 -1,0.2 -1-0.2 -1-0.8 -1-0.9 -1-0.1 -1,0.6 -1,0.3 -1,0.3 -1-0.2 -1,0.1 -1,0.2 -1,0.2 -1-0.1 -1-0.5 -1,0.3 -1-0.2 -1-0.7 -1-0.2 -1-0.7 -1-0.2 -1,0.4 -1,0.1 -1,0.1 -1,0.4 -1-0.1 -1,0 -1,0.6 -1,0 -1-0.3 -1-0.2 -1,0.1 -1,1.2 -1,0.8 -1,0.2 -1-0.2 -1-0.8 -1-1.7 -1,0.2 -1-0.3 -1,0.3 -1-0.1 -1,0.6 -1,0.3 -1-0.1 -1-0.3 -1,0 -1-0.3 -1-0.4 -1,0.3 -1,0 -1-0.4 -1-0.4 -1,0 -1,0.3 -1-0.2 -1-0.1 -1,0 -1,0.7 -1,0.2 -1,0.2 -1-0.2 -1,0.1 -1-0.4 -1-0.4 -1-0.5 -1,0.8 -1,0.5 -1,0 -1-0.4 -1,0.3 -1,0.7 -1,0.4 -1,0.7 -1,0.1 -1-0.2 -1-0.9 -1-1.2 -1,1.8 -1,1 -1,0.3 -1-0.1 -1-0.7 -1-2 -1-0.3 -1-0.7 -1,0.5 -1,0.4 -1,0 -1,0.3 -1,0.2 -1-0.3 -1-0.1 -1-0.5 -1-0.2 -1-0.2 -1,1.1 -1,0.5 -1,0 -1-0.4 -1-0.7 -1,0.2 -1,0.2 -1-0.1 -1-0.3 -1-0.6 -1,0.2 -1,0.3 -1,0.5 -1,1 -1,0.3 -1-0.1 -1-0.1 -1-0.2 -1-0.2 -1,1 -1,0.3 -1-0.1 -1,0 -1,0 -1-0.4 -1-1.3 -1-0.4 -1,0.2 -1,0.7 -1,0.2 -1-0.3 -1-0.4 -1,0.1 -1-0.1 -1,0.1 -1,0.3 -1-0.2 -1-0.6 -1,0.1 -1,0.2 -1,0.1 -1-0.3 -1-0.4 -1,0.7 -1,0.7 -1,0.1 -1-0.3 -1-0.7 -1,0.4 -1,0 -1-0.5 -1-0.2 -1,0 -1,0.4 -1,0.3 -1-0.2 -1-0.6 -1,0.3 -1,0 -1,0.2 -1-0.1 -1,0.3 -1,0.2 -1,0.2 -1,0.3 -1-0.1 -1-0.5 -1-0.3 -1,0.5 -1,0.1 -1,0.6 -1,0.9 -1,0.2 -1-0.1 -1-0.7 -1-1.9 -1,0.5 -1,0.2 -1,0.5 -1,0.1 -1-0.3 -1,1.1 -1,0.4 -1-0.1 -1-0.6 -1-0.5 -1-0.5 -1,0.6 -1,0.5 -1,0 -1,0.4 -1,0.2 -1,1.1 -1,0.6 -1,0.1 -1-0.4 -1-1.1 -1-1.4 -1,0 -1,0.4 -1,0.3 -1,0.6 -1,0.1 -1-0.3 -1-1 -1-0.1 -1,0.5 -1,0.9 -1,0.2 -1,0.1 -1-0.1 -1,0.2 -1-0.2 -1,0.4 -1,0 -1-0.5 -1-0.6 -1,0 -1-0.3 -1,0.1 -1-0.2 -1-0.1 -1,0.5 -1,0.2 -1-0.3 -1-0.8 -1,0.4 -1,0.2 -1,1.1 -1,1.1 -1,0.4 -1-0.1 -1-0.6 -1-0.7 -1-0.1 -1-0.6 -1,0 -1-0.1 -1-0.3 -1,1.3 -1,0.6 -1,0.1 -1-0.3 -1-1 -1-1 -1,0.3 -1-0.3 -1,1 -1,0.7 -1,0.1 -1-0.2 -1-0.9 -1-0.2 -1,0.4 -1,0.7 -1,0.1 -1-0.2 -1-0.8 -1-0.1 -1,0 -1-0.4 -1,0.3 -1,0.2 -1,0.2 -1-0.2 -1-0.3 -1,0.3 -1,0.3 -1-0.1 -1-0.7 -1,0.4 -1,0.2 -1-0.3 -1-0.8 -1,0.4 -1,0.4 -1,0.2 -1-0.2 -1,1 -1,0.5 -1,0 -1-0.5 -1-1 -1-0.1 -1-0.3 -1-0.7 -1,0.2 -1,0.2 -1,0 -1,0.6 -1,0.2 -1-0.2 -1-0.4 -1,0.8 -1,1.4 -1,0.4 -1-0.1 -1-0.5 -1-2.1 -1,1.7 -1,0.5 -1,0 -1-0.5 -1-0.6 -1-0.4 -1-0.1 -1,0.6 -1,0.3 -1-0.2 -1-0.7 -1-0.2 -1-0.1 -1,0.2 -1-0.1 -1-0.1 -1-0.2 -1-0.4 -1-0.4 -1-0.2 -1,0 -1,0.7 -1,0.3 -1,0.1 -1,0.2 -1,0.1 -1-0.1 -1,0.7 -1,0.3 -1-0.1 -1-0.2 -1-0.2 -1,0.2 -1-0.2 -1,0.6 -1,0.1 -1-0.2 -1-1.1 -1-0.1 -1,0 -1,1.7 -1,0.6 -1,0.1 -1-0.3 -1-0.2 -1,0 -1-0.5 -1,0 -1-0.4 -1-0.3 -1,0 -1-0.4 -1,1.3 -1,1.2 -1,0.3 -1-0.1 -1-0.5 -1-1.9 -1-0.1 -1,0.2 -1-0.3 -1,0.7 -1,0.2 -1-0.1 -1-0.5 -1-0.3 -1-0.2 -1,0.2 -1-0.3 -1,0.2 -1,0 -1-0.3 -1-0.2 -1-0.2 -1-0.1 -1,0.4 -1,0.1 -1,0.1 -1,0.5 -1,0.9 -1,0.3 -1-0.2 -1-0.6 -1,0 -1,0.2 -1,0 -1-0.4 -1-1.4 -1,0.1 -1,0.2 -1,0 -1,0.2 -1,0 -1,0.4 -1,0.5 -1,0 -1-0.4 -1-0.5 -1-0.1 -1,0.5 -1,0 -1-0.2 -1,0.1 -1-0.1 -1,0.5 -1,0.7 -1,0.2 -1-0.3 -1-0.9 -1-0.9 -1,1.6 -1,1 -1,0.3 -1-0.2 -1-0.1 -1,0.1 -1,0 -1,0.8 -1,0.1 -1-0.2 -1-0.9 -1-2.2 -1,0.8 -1,0.2 -1-0.2 -1-0.4 -1,0 -1,0.1 -1,0.2 -1-0.3 -1-0.2 -1,0 -1,0.4 -1-0.1 -1-0.6 -1-0.4 -1,0.9 -1,0.2 -1-0.1 -1,0.8 -1,0.8 -1,0.2 -1-0.2 -1-0.8 -1-0.3 -1,1.3 -1,0.4 -1,0.1 -1-0.4 -1,0.4 -1-0.1 -1-0.5 -1-1.1 -1-0.3 -1-0.7 -1,0.1 -1,0.7 -1,0.3 -1-0.1 -1-0.2 -1,0.3 -1-0.2 -1-0.6 -1-0.6 -1,0.1 -1,0.7 -1,0.2 -1-0.2 -1-0.4 -1,1.3 -1,0.5 -1,0.1 -1-0.3 -1-1.2 -1-0.4 -1,0 -1-0.4 -1-1.2 -1-0.2 -1-0.6 -1-0.2 -1,0.4 -1,0.2 -1-0.1 -1-0.7 -1-0.2 -1,0.1 -1-0.4 -1-1.1 -1-1.5 -1-0.3 -1-0.3 -1-0.8 -1-1.1 -1-0.6 -1-0.8 -1,0.1 -1,0.2 -1-0.1 -1-0.7 -1-1.3 -1-0.5 -1-0.5 -1-1.3 -1-1.3 -1-0.1 -1-0.5 -1-1.1z"/>
<path fill="#F5B50F" d="M114,303.4l1-1.4 1-0.6 1-0.1 1,0.3 1,0.3 1-0.4 1-0.1 1,0.4 1,1.1 1,0.1 1-0.1 1,0.3 1,1 1-0.3 1,0 1,0.5 1-0.5 1-0.5 1,0 1,0.4 1,1.3 1,2.4 1,0.4 1-0.3 1-0.1 1-0.2 1,0.3 1,0.3 1-0.4 1,0 1,0.3 1-0.3 1,0.2 1,0.7 1-0.1 1-0.2 1,0.2 1,0.7 1-0.3 1-0.2 1,0 1-0.1 1-0.2 1,0.2 1,0 1,0.3 1-0.1 1,0.3 1,0.9 1-0.8 1-1.9 1-0.7 1-0.1 1,0.3 1,1 1,1.2 1-0.2 1,0.2 1-1.2 1-0.3 1,0 1,0.6 1,1.1 1-0.5 1-0.3 1,0 1,0.1 1-1.2 1-0.3 1,0 1,0.6 1,1.9 1-0.3 1-0.3 1-0.5 1,0 1,0.4 1,0.6 1,0 1-0.1 1,0.1 1-0.2 1-0.5 1-0.1 1-1.4 1-0.8 1-0.2 1,0.2 1,0.8 1,2.2 1-0.2 1,0.2 1,0.1 1-0.2 1,0.3 1-0.1 1-1 1-0.4 1,0 1,0.5 1,0.7 1,0.3 1-1.1 1-0.4 1-0.2 1,0 1,0.4 1,0.4 1-0.9 1-0.3 1,0.2 1-0.4 1-0.1 1,0.3 1,0.7 1,0.2 1-0.9 1-0.3 1,0.1 1,0.6 1,1 1,0.2 1,0.3 1-0.1 1-0.6 1-0.6 1-0.3 1,0.1 1,0.6 1,0.3 1,0.4 1-0.4 1-0.5 1,0 1,0.4 1-0.3 1,0.2 1,0 1-0.3 1-0.1 1-0.1 1,0.3 1,1.2 1,0.2 1-0.8 1-0.4 1-0.3 1,0 1,0.6 1,0.5 1,0.1 1-0.6 1-0.1 1,0 1-1.1 1-0.4 1,0.1 1,0.2 1-0.3 1,0.3 1,0.7 1-0.2 1,0.1 1-0.7 1-0.2 1,0.2 1-0.2 1-0.5 1,0 1,0.4 1,1.3 1,0.1 1,0.2 1-0.5 1-0.5 1-0.6 1,0 1,0.3 1,1.2 1,0.5 1,0 1-0.2 1,0.3 1-0.4 1-0.1 1,0 1,0.1 1,0.1 1-0.1 1-0.2 1-0.1 1,0.2 1-0.1 1-0.6 1-0.1 1,0.4 1,0.8 1,0 1-0.5 1-0.1 1,0.3 1-0.2 1-0.8 1-0.2 1,0.2 1,0.6 1,0.1 1-0.9 1-0.6 1-0.1 1,0.4 1-0.2 1-0.7 1-0.1 1,0.2 1,0.9 1,0.3 1-0.4 1,0 1,0.2 1,0.4 1-1 1-0.5 1,0 1,0.5 1,0.8 1-1.4 1-0.7 1-0.2 1,0.3 1,0.9 1-0.5 1-0.1 1,0.3 1,1 1-0.3 1-0.1 1,0.3 1-1.7 1-0.5 1,0 1,0.4 1,1.4 1,0.8 1,0.1 1,0.6 1,0.1 1-0.1 1,0 1,0 1,0.3 1-0.3 1-0.2 1,0.3 1,0.1 1,0 1,0.4 1,0.3 1-1 1-0.8 1-0.2 1-0.1 1,0.2 1,0.9 1,0.1 1,0.1 1-0.1 1-0.2 1,0 1-1 1-1.7 1-0.5 1-0.1 1,0.3 1,1.2 1,0.6 1,0.5 1,0.3 1,0.7 1,0.2 1-0.1 1,0.3 1-1.5 1-0.8 1-0.2 1,0.2 1,0.4 1,0.2 1-0.2 1,0.3 1,0.9 1,0 1-0.2 1,0.2 1-0.7 1-0.2 1,0.2 1,0.7 1,0.3 1-0.1 1-0.7 1-2.6 1-0.5 1-0.1 1,0.4 1,1.4 1,0.3 1-0.1 1,0.3 1,1 1,0.1 1-1 1-0.3 1,0.1 1,0.7 1,0 1,0 1,0.2 1-0.6 1-0.1 1,0.3 1,0.9 1-1.6 1-0.5 1,0 1,0.4 1,1.1 1-0.2 1-0.4 1,0 1,0.1 1-0.1 1,0.1 1-0.4 1,0 1,0.4 1,0.6 1,0.2 1,0 1-1 1-0.4 1,0 1,0.5 1,0.1 1,0 1,0.5 1-0.5 1-0.5 1,0 1,0.4 1,0.2 1,0.2 1,0.2 1-0.2 1-0.1 1,0.4 1-0.4 1,0 1,0.3 1,0.4 1-0.1 1-0.2 1-0.5 1-0.6 1-0.2 1,0.3 1,0 1,0.4 1-0.1 1-0.1 1,0.4 1,0.6 1-0.2 1-0.9 1-0.4 1,0.1 1,0.6 1,0.5 1-0.1 1,0.2 1-1.5 1-1.4 1-0.4 1,0.1 1,0.5 1,2.9 1-0.4 1,0 1-0.8 1-0.2 1-0.1 1,0 1,0 1,0.5 1-0.3 1-0.2 1-0.5 1-0.4 1,0.1 1,0.1 1-0.7 1-0.2 1,0.2 1,0.6 1-0.2 1,0.2 1,0.6 1-0.2 1,0.2 1,0.5 1,0 1-0.2 1,0 1-0.3 1,0 1,0.2 1,0.1 1,0.2 1-0.5 1-0.2 1-0.1 1,0.2 1,0.2 1-0.5 1-0.2 1,0.3 1-0.2 1-1.2 1-0.3 1,0.1 1,0.5 1,2.5 1,0.6 1-0.1 1-0.1 1-0.5 1,0 1,0.4 1,0 1-0.4 1-0.1 1-0.5 1-0.3 1,0.2 1,0.7 1-0.8 1-0.2 1,0.1 1-0.3 1,0 1,0.5 1,0 1,0 1,0.2 1-0.1 1-0.1 1,0.3 1-0.2 1,0 1,0 1-0.6 1,0 1,0.3 1,1.2 1,0 1-0.9 1-0.2 1,0.1 1,0.6 1,0 1,0.1 1-0.5 1-0.1 1,0.3 1-0.1 1,0.1 1,0.6 1-0.3 1-1.2 1-0.7 1-0.2 1,0.3 1,0.8 1-0.2 1,0 1,0.5 1,0.6 1-0.3 1,0.1 1,0 1,0.2 1,0.1 1-1.9 1-0.8 1-0.2 1,0.2 1,0.8 1,0.6 1,1.5 1,0.2 1-0.9 1-0.3 1,0.1 1,0.4 1,0.1 1,0.1 1-0.7 1-0.2 1,0.3 1,0.7 1,0 1-0.7 1-0.5 1-0.1 1,0.1 1-0.8 1-0.1 1-0.5 1-0.2 1,0.2 1,0.8 1,0.6 1-0.2 1,0.3 1,0.9 1,0 1,0 1-0.7 1-0.2 1-0.6 1-0.3 1-0.1 1-0.4 1,0 1,0.3 1,0.2 1,0 1,0.5 1,0.3 1-1 1-0.3 1-0.4 1-0.2 1,0.2 1,0.8 1,1.8 1-0.2 1,0 1-0.2 1,0 1,0.4 1-0.3 1-0.6 1-0.1 1-1.2 1-0.9 1-0.3 1,0.2 1,0.7 1,1.1 1-0.6 1,0 1,0.4 1,1.4 1,0.8 1-0.6 1-0.3 1,0.1 1,0.5 1-0.7 1-0.6 1-0.1 1-0.1 1-0.3 1,0.2 1,0.6 1,0.3 1-0.8 1-0.2 1,0.2 1-1.8 1-0.5 1,0 1,0.4 1,1.3 1,1.5 1-0.1 1-0.4 1-0.5 1,0 1,0.5 1,0 1,0.3 1-1.2 1-0.7 1-0.1 1,0.3 1,1 1,0.8 1-0.4 1-0.9 1-0.3 1,0.2 1,0.7 1,0.2 1-0.4 1,0.1 1-0.2 1-0.1 1,0.4 1,0.5 1-0.6 1,0 1-0.3 1-0.1 1-0.2 1,0.3 1,0.9 1,0.9 1,0 1-0.1 1,0.1 1-0.2 1,0 1-0.1 1-1.1 1-0.4 1,0.1 1,0.3 1-1.7 1-0.5 1,0 1,0.5 1,2.6 1-0.1 1,0.1 1,0.4 1-0.1 1,0.1 1-0.9 1-0.3 1,0.1 1,0.4 1,0.2 1-2.3 1-0.5 1,0 1,0.3 1-0.3 1,0.1 1,0.6 1,1.4 1,0 1,0 1-0.1 1-0.7 1-0.2 1,0.2 1,0.8 1,0.1 1,0.5 1,0.5 1,0.2 1-0.3 1-0.3 1-0.5 1-0.7 1-0.1 1,0.2 1-0.3 1,0.1 1,0.7 1,0.8 1-0.4 1,0 1,0.5 1,0.2 1-0.7 1-0.1 1,0.2 1,0.3 1-0.1 1-0.4 1,0 1,0.6 1-1.1 1-0.4 1,0.1 1,0.6 1,0.5 1,0.6 1,0.2 1,0.1 1-0.7 1-0.6 1-0.5 1,0 1-0.6 1-1 1-0.3 1,0.1 1,0.6 1,1.6 1-0.6 1,0 1,0.3 1,0.9 1,0.1 1-0.2 1,0.1 1-0.3 1-0.3 1,0.1 1,0.6 1-0.1 1-0.4 1,0.1 1-0.1 1-0.5 1-0.1 1,0.3 1,0.8 1-0.3 1,0.1 1-0.1 1-0.1 1,0.3 1,0.3 1,0.3 1-0.1 1-0.3 1-0.3 1,0.1 1,0.5 1-0.1 1-0.2 1-0.1 1,0.1 1-0.3 1,0.1 1,0.5 1-0.4 1-0.1 1,0 1-0.2 1,0.3 1,0 1,0.2 1,0.2 1-2.6 1-0.9 1-0.2 1,0.1 1,0.7 1,1.1 1-0.3 1,0 1-0.2 1-0.2 1,0 1,0.2 1,0.2 1-0.4 1,0 1,0.4 1,1.1 1,0.1 1,0 1-0.5 1,0 1,0.5 1,0.1 1-0.1 1,0.3 1,0.2 1-1.7 1-0.5 1,0 1,0.4 1,0.3 1,0.4 1,1.2 1-0.3 1,0.1 1,0.2 1,0.3 1-0.5 1,0 1-0.4 1-0.5 1,0 1,0.5 1,0.6 1,0.5 1-0.4 1-0.5 1,0 1,0.1 1-0.1 1,0.2 1,0.1 1,0 1-0.6 1-0.1 1,0.4 1,0.5 1-0.5 1,0 1,0.4 1,0.7 1,0.4 1-0.3 1-0.5 1,0 1,0.1 1-0.1 1,0.4 1-0.2 1-0.8 1-0.6 1-0.2 1,0.3 1,0.4 1-0.1 1,0.1 1-0.6 1-0.3 1,0.2 1,0.6 1,0.2 1-0.2 1,0.1 1,0.4 1-0.4 1,0.1 1-0.3 1-0.2 1,0.2 1,0.1 1-0.2 1-0.3 1-0.1 1,0.3 1-0.3 1,0.1 1-0.3 1,0.1 1,0 1-0.2 1,0.2 1-0.1 1,0.2 1,0.7 1-0.1 1-0.4 1,0 1,0.4 1,0.2 1,0.2 1-0.3 1,0.1 1-0.6 1-0.2 1,0.3 1,0.4 1,0.2 1-0.4 1-0.3 1,0.1 1,0.7 1-0.3 1,0 1-0.1 1-1.3 1-1.2 1-0.3 1,0.1 1,0.5 1,2.1 1,0.1 1,0.6 1,0.6 1,0.1 1-0.1 1-0.2 1-0.7 1-0.6 1-0.6 1-0.1 1,0.2 1,0.9 1-0.5 1-0.8 1-0.2 1,0.2 1,0.8 1,0.5 1-0.3 1-0.5 1-0.1 1,0.3 1,1.2 1,0.7 0,4 -1,1 -1,0.5 -1,0.2 -1,0.4 -1,0 -1-0.2 -1,0.2 -1-0.1 -1-0.4 -1,0.4 -1,0.6 -1,0.1 -1-0.3 -1-0.3 -1-0.9 -1,0.3 -1,0.1 -1,0.3 -1,0 -1,0 -1,0.4 -1,0 -1-0.4 -1-0.3 -1,0.2 -1-0.1 -1-0.5 -1,0.4 -1,0.2 -1,0 -1,0.3 -1,0.4 -1-0.1 -1,0.1 -1,0.4 -1-0.1 -1-0.5 -1-0.3 -1-0.3 -1-0.8 -1,0.2 -1,0.8 -1,0.6 -1,0.1 -1-0.2 -1,0 -1-0.4 -1-1 -1,1.8 -1,0.6 -1,0.1 -1-0.4 -1-1.1 -1-1.1 -1,0.1 -1,0.5 -1,0.3 -1,0 -1-0.3 -1,0 -1-0.2 -1-0.2 -1,0.4 -1,0.3 -1-0.1 -1-0.5 -1,0.2 -1-0.1 -1-0.1 -1,0.3 -1,0 -1,0.6 -1,0.3 -1-0.1 -1-0.5 -1-0.2 -1,0.3 -1,0.4 -1-0.1 -1,0.2 -1-0.1 -1-0.2 -1,0.1 -1,0.1 -1,0.5 -1,0.5 -1,0 -1-0.3 -1,0.5 -1,0.5 -1,0.1 -1,0.5 -1,0.5 -1,0.1 -1-0.4 -1-1.4 -1-1.2 -1,0.3 -1-0.1 -1-0.1 -1,0 -1-0.3 -1-0.3 -1,1.8 -1,0.7 -1,0.1 -1,0 -1-0.2 -1-0.7 -1-1.8 -1,0.2 -1,0.4 -1,0.1 -1-0.3 -1-0.3 -1,0.3 -1-0.2 -1,0.5 -1,0.2 -1,0 -1,0.3 -1-0.1 -1,0.8 -1,0.7 -1,0.1 -1-0.3 -1-0.6 -1-0.3 -1-0.9 -1,0 -1,0.3 -1,0.3 -1-0.1 -1,0.1 -1,0.5 -1,0.2 -1-0.2 -1-0.9 -1-1 -1,0.4 -1-0.1 -1-0.2 -1,0.7 -1,0.3 -1-0.1 -1-0.5 -1-0.3 -1,0.5 -1,0 -1,0.1 -1,0.3 -1,0.4 -1,0 -1-0.1 -1,0.2 -1,0 -1-0.1 -1,0 -1-0.5 -1-0.5 -1-0.2 -1-0.1 -1,0.3 -1,0.6 -1,0.3 -1-0.1 -1-0.3 -1,0.3 -1-0.1 -1-0.3 -1-0.1 -1-0.6 -1,0.6 -1,0.1 -1,0.4 -1,0.1 -1,0.2 -1-0.2 -1-0.8 -1,0.5 -1,0.3 -1,0 -1-0.5 -1,0.2 -1-0.1 -1-0.2 -1-0.3 -1-0.1 -1,0.1 -1-0.1 -1,0.3 -1,0.9 -1,0.3 -1-0.1 -1-0.7 -1-0.2 -1,0 -1,1.7 -1,0.8 -1,0.3 -1-0.2 -1-0.7 -1-2.2 -1,0.2 -1,0.1 -1,0.1 -1-0.3 -1-0.3 -1,0.4 -1,1 -1,0.3 -1-0.2 -1-0.6 -1-0.5 -1,0.3 -1,0.2 -1,0.3 -1-0.1 -1-0.6 -1-0.3 -1,0 -1-0.4 -1,0.3 -1,0.1 -1,0.3 -1,0.4 -1,0 -1-0.4 -1,0.4 -1,1.5 -1,0.7 -1,0.1 -1-0.2 -1-0.9 -1-1.1 -1,0 -1-0.4 -1,0 -1,2 -1,0.5 -1,0.1 -1-0.4 -1-1.4 -1-1.1 -1-0.3 -1,1.1 -1,0.5 -1,0 -1-0.5 -1-0.8 -1,0.1 -1,0 -1,0.3 -1,0 -1-0.1 -1-0.4 -1,0.8 -1,0.2 -1-0.2 -1-0.8 -1-0.4 -1,0 -1,0.4 -1,0.5 -1,0.1 -1-0.2 -1-0.8 -1-0.2 -1,0.3 -1,0.2 -1,0.2 -1,0.4 -1,0.2 -1-0.2 -1-0.8 -1-0.1 -1,0.1 -1,0.3 -1,0.4 -1-0.1 -1-0.6 -1-0.5 -1,0.1 -1-0.1 -1,0.3 -1,0.5 -1,0.2 -1,0.2 -1-0.1 -1-0.6 -1,0.4 -1,0.3 -1-0.1 -1-0.7 -1,0.1 -1,0.2 -1,0.3 -1-0.1 -1,0.1 -1-0.1 -1-0.2 -1,0.1 -1,0.9 -1,0.5 -1,0 -1-0.5 -1,0 -1,0 -1-0.1 -1,0.6 -1,0.8 -1,0.2 -1-0.2 -1-0.8 -1-1.4 -1,0.1 -1-0.1 -1,0.3 -1,0.8 -1,1.1 -1,0.4 -1-0.1 -1-0.6 -1-1.2 -1,0.2 -1-0.3 -1-0.1 -1-0.7 -1-0.6 -1,0.3 -1-0.1 -1,0.3 -1,0.4 -1-0.1 -1-0.2 -1,0.2 -1,0.2 -1,0.2 -1-0.1 -1-0.1 -1,0.4 -1,0.4 -1-0.1 -1-0.5 -1,0.4 -1,0.3 -1-0.1 -1-0.6 -1-0.6 -1-0.4 -1-0.4 -1,0.4 -1,0.8 -1,0.2 -1-0.2 -1-0.5 -1,0.6 -1,0.1 -1-0.2 -1-0.2 -1,0.3 -1,0.2 -1-0.1 -1-0.3 -1-0.3 -1-0.3 -1-0.1 -1,0.2 -1-0.1 -1,0.5 -1,0.3 -1-0.2 -1-0.1 -1-0.2 -1,0.3 -1-0.1 -1,0.8 -1,1 -1,0.3 -1-0.1 -1-0.2 -1-0.4 -1-1.1 -1,0 -1-0.1 -1-0.6 -1,0.3 -1,0 -1,0 -1-0.2 -1,0.4 -1,0.2 -1,0.9 -1,0.3 -1-0.1 -1-0.3 -1-0.3 -1-0.1 -1,0.5 -1,0.1 -1-0.4 -1-0.5 -1,0.1 -1,0.1 -1-0.3 -1-0.4 -1-0.1 -1,0.1 -1-0.2 -1,0.1 -1-0.2 -1,0.3 -1,0 -1,0.1 -1,0.9 -1,0.2 -1-0.2 -1-0.2 -1-0.3 -1-0.1 -1,0.6 -1,0.1 -1-0.3 -1,0.8 -1,0.4 -1-0.1 -1-0.5 -1-0.4 -1,0.1 -1-0.3 -1-1 -1,0 -1,0.5 -1,0.2 -1-0.3 -1,0.2 -1,0.7 -1,0.3 -1-0.1 -1-0.5 -1-0.6 -1,0.1 -1,0.3 -1-0.2 -1-0.7 -1,0.2 -1,0.4 -1,0.3 -1-0.1 -1-0.1 -1,0.2 -1-0.2 -1,0.6 -1,0.7 -1,0.1 -1-0.3 -1-0.3 -1,0.8 -1,0.2 -1-0.2 -1-0.8 -1-1 -1,0.2 -1,0.6 -1,0.3 -1,0.1 -1-0.4 -1-0.3 -1,0.8 -1,0.2 -1-0.1 -1-0.6 -1,0.3 -1-0.2 -1-0.1 -1,0 -1,0.1 -1,0.2 -1-0.2 -1-0.4 -1,0.2 -1-0.1 -1-0.2 -1,0 -1,0 -1,0.3 -1,0.9 -1,0.3 -1-0.2 -1-0.7 -1,0.1 -1-0.1 -1-0.5 -1-1.6 -1,0.6 -1,0.6 -1,0.2 -1-0.3 -1-0.9 -1,0.1 -1,0.4 -1,0.7 -1,0.1 -1,0 -1-0.5 -1-0.2 -1-0.2 -1,0.2 -1,0.4 -1,0.2 -1,0.3 -1-0.1 -1-0.7 -1,0.5 -1,0.6 -1,0.7 -1,0.1 -1-0.2 -1-0.8 -1-0.2 -1-0.8 -1,1.1 -1,0.4 -1,0 -1,0 -1-0.3 -1,1.1 -1,0.5 -1,0 -1-0.4 -1-1.3 -1-0.1 -1,0.8 -1,0.3 -1-0.1 -1-0.5 -1-1 -1,0.2 -1,0.6 -1,0.5 -1,0 -1-0.4 -1,0.5 -1,0.5 -1,0 -1-0.5 -1-2 -1,0.4 -1,0.5 -1,0.4 -1,0 -1-0.3 -1-0.4 -1,1.6 -1,0.7 -1,0.2 -1-0.3 -1-0.9 -1-1 -1,0.2 -1,0.1 -1-0.3 -1-0.2 -1,1 -1,0.3 -1-0.1 -1-0.2 -1,0.6 -1,0.1 -1-0.3 -1-0.3 -1,0.2 -1-0.2 -1-0.7 -1-0.8 -1,0.4 -1,0.4 -1,0.2 -1,0.3 -1,0.6 -1,0.1 -1-0.3 -1-0.8 -1,0 -1,0.3 -1,0 -1-0.6 -1-0.1 -1,0.2 -1-0.3 -1,1.4 -1,0.4 -1,0 -1-0.4 -1-1 -1,0.2 -1,0.3 -1,0.1 -1,0.9 -1,0.5 -1,0.1 -1-0.4 -1-0.7 -1-0.2 -1,0.1 -1-0.3 -1-0.1 -1,0.9 -1,0.5 -1,0 -1-0.4 -1-1.2 -1,0.4 -1,1.2 -1,0.3 -1-0.1 -1-0.4 -1-0.1 -1-0.7 -1,0.9 -1,0.5 -1,0 -1-0.4 -1-0.4 -1-0.7 -1-0.2 -1-0.4 -1,0.4 -1,0.8 -1,0.2 -1-0.2 -1-0.5 -1-0.1 -1,0 -1,0.2 -1-0.2 -1-0.1 -1,0.8 -1,0.2 -1-0.2 -1,0.2 -1-0.1 -1-0.5 -1-0.4 -1,0.4 -1-0.1 -1,0.6 -1,0.2 -1-0.2 -1-0.8 -1,0.8 -1,0.3 -1-0.1 -1-0.7 -1-0.4 -1,0.1 -1,0.3 -1,0.5 -1,0 -1-0.1 -1-0.3 -1-0.3 -1,0 -1-0.2 -1,0.2 -1,0.7 -1,0.2 -1-0.3 -1-0.3 -1-0.2 -1-0.6 -1-0.6 -1,0 -1,1 -1,0.3 -1-0.1 -1-0.2 -1,0 -1,0.3 -1,0.2 -1-0.1 -1-0.8 -1-0.1 -1,0.7 -1,0.2 -1-0.3 -1,0.2 -1,0.1 -1,0.1 -1,0.1 -1-0.2 -1,0.2 -1,0 -1-0.2 -1,0.2 -1,0.2 -1,0 -1,0.4 -1,0 -1-0.1 -1,0 -1-0.3 -1-0.1 -1-0.2 -1,0.1 -1,0 -1,0.1 -1-0.3 -1-0.2 -1,0.3 -1,0.3 -1,0.6 -1,0.6 -1,0.1 -1-0.4 -1-0.9 -1,0.4 -1,0.2 -1,0.4 -1,0 -1-0.5 -1-0.2 -1,0.2 -1-0.2 -1-0.6 -1,1 -1,0.3 -1-0.1 -1-0.4 -1-0.3 -1,0.2 -1,0.2 -1-0.2 -1,0 -1,0 -1,0.3 -1-0.2 -1,0.3 -1,0.2 -1-0.2 -1-0.9 -1-0.1 -1,0.4 -1,0 -1,0 -1,0.2 -1,0.7 -1,0.2 -1-0.3 -1-0.3 -1,0 -1-0.4 -1,0.2 -1-0.1 -1-0.2 -1-0.2 -1,0.9 -1,0.4 -1,0 -1-0.6 -1-0.5 -1-0.4 -1-0.2 -1,0.3 -1,1.4 -1,0.5 -1,0.6 -1,0.7 -1,0.2 -1-0.2 -1-0.9 -1-2.2 -1,0.4 -1,0.2 -1-0.2 -1-0.6 -1-0.4 -1,0.7 -1,0.6 -1,0.1 -1-0.1 -1,0.1 -1-0.3 -1-0.9 -1,0 -1,0.4 -1,0.4 -1,0 -1,0.5 -1,0.4 -1,0 -1-0.4 -1-1.7 -1,0.5 -1,0.2 -1-0.2 -1-0.8 -1,0.4 -1,0.7 -1,1 -1,0.3 -1-0.1 -1-0.5 -1,0 -1,0.2 -1,0 -1-0.5 -1,0.5 -1,0.4 -1-0.1 -1-0.5 -1-0.6 -1,0.1 -1-0.1 -1-0.4 -1,0.5 -1,0.2 -1-0.2 -1,0.5 -1,0.1 -1,0 -1,0.2 -1,0.2 -1-0.3 -1-0.1 -1-0.5 -1,0 -1,0.4 -1-0.1 -1,0.2 -1-0.2 -1,0.7 -1,0.2 -1-0.1 -1-0.7 -1-0.7 -1,0.1 -1-0.2 -1,0.1 -1,0.5 -1,0 -1,1.3 -1,1 -1,0.3 -1-0.2 -1-0.6 -1-1.9 -1,0.2 -1-0.2 -1,0.3 -1,0 -1-0.2 -1,0.4 -1,0 -1-0.4 -1-0.1 -1,0 -1-0.3 -1,0.2 -1-0.1 -1-0.2 -1,0.8 -1,0.3 -1-0.2 -1-0.4 -1-0.2 -1-0.3 -1-0.4 -1-0.4 -1-0.3 -1-0.5 -1,0.1 -1,0.6 -1,0 -1-0.4 -1-0.3 -1,0.1 -1,0 -1-0.4 -1,0.4 -1,0.4 -1,0.1 -1-0.4 -1,0 -1,0.5 -1,0.3 -1-0.2 -1-0.6 -1-1.8 -1,0.5 -1,0.1 -1-0.3 -1-1.2 -1-1.2 -1-0.2 -1-0.4 -1,0.2 -1-0.1 -1-0.3 -1-1.3 -1,0.1 -1-0.1 -1-0.6z"/>
<path fill="#2DBDB0" d="M114,309.4l1-1.7 1-0.6 1-0.1 1,0.4 1,0.3 1,0 1,0.4 1-2.2 1-0.6 1,0 1,0.4 1,1.1 1,0 1-0.8 1-0.3 1,0.1 1,0.5 1-0.5 1-0.4 1-0.4 1-0.4 1-0.2 1-0.2 1-0.6 1-0.6 1-0.2 1,0.3 1,0.4 1,0.3 1,0.4 1-0.3 1-0.3 1,0.2 1,0.7 1,0 1,0.3 1-0.7 1-0.2 1-0.5 1,0 1-0.1 1,0.2 1,0.2 1,0.4 1,0.1 1,0 1-0.1 1-0.3 1-0.8 1-0.3 1,0.2 1,0.7 1,0.4 1-0.1 1-0.1 1-0.4 1,0 1,0.5 1,0 1,0.2 1-0.1 1-0.4 1-0.3 1-1 1-0.4 1,0.1 1,0.5 1,0.6 1,0.5 1,0.3 1,0.2 1-0.3 1-0.3 1-0.4 1-0.5 1-0.3 1,0.1 1,0.6 1,0.2 1-0.1 1,0.3 1,0.2 1-0.8 1-0.2 1,0.2 1,0.3 1,0.4 1-0.1 1-0.2 1-0.1 1-0.3 1-0.5 1-0.5 1-0.5 1,0 1,0.5 1,0.7 1,0 1-0.3 1-0.1 1,0.2 1,0.4 1-0.2 1-0.5 1-0.5 1-0.1 1,0.4 1,0.9 1-0.6 1-0.2 1-0.3 1,0 1,0.1 1,0.7 1-0.5 1-0.1 1-1.6 1-0.5 1,0 1,0.5 1,1.5 1,0.3 1,0.1 1,0.2 1-0.6 1-0.5 1-0.1 1,0.2 1,0.6 1-0.6 1-0.4 1,0.1 1,0.5 1,0.5 1-0.5 1-0.1 1-0.2 1-0.4 1-0.3 1-0.3 1,0.2 1-0.3 1,0.1 1,0.6 1,0.1 1-0.3 1-0.2 1-0.2 1,0.3 1,0.4 1-1.4 1-0.4 1,0 1,0.5 1,0.2 1,0 1,0.4 1-0.1 1,0.3 1-0.2 1,0 1-0.1 1-1.1 1-0.6 1,0 1,0.3 1,1.1 1-0.5 1-0.1 1-0.3 1,0.2 1,0.4 1-0.1 1,0.2 1,0.2 1,0.2 1-0.2 1,0.1 1-0.3 1-0.3 1-0.3 1,0.2 1-0.2 1-0.2 1-0.1 1-0.5 1-0.2 1,0.3 1,0.8 1,0.8 1-1.8 1-0.5 1-0.1 1,0.4 1,0.6 1,0.1 1,0.1 1,0.5 1-0.2 1-0.4 1,0.1 1-0.1 1-1.2 1-0.3 1,0.1 1,0.5 1,1.8 1,0.2 1-0.4 1,0 1,0.2 1,0.4 1,0 1-0.4 1,0 1-0.8 1-0.5 1,0 1,0.5 1,1.3 1-1.1 1-0.5 1,0 1,0.4 1,0.3 1-0.2 1,0 1-2.1 1-0.6 1-0.1 1,0.3 1,1 1,1.3 1,0.5 1,0.2 1-0.8 1-0.2 1,0.1 1-0.7 1-0.7 1-0.2 1,0.3 1-0.1 1,0.3 1,1.2 1-0.3 1,0.1 1,0.6 1,0.2 1,0.5 1,0.1 1-1.3 1-0.6 1-0.1 1,0.3 1,0.3 1,0.4 1-0.3 1,0.3 1,0.3 1-0.4 1-0.2 1-0.1 1,0.3 1,0.7 1-0.4 1-0.2 1-0.3 1,0.1 1,0.1 1-0.3 1,0.2 1-0.1 1,0.1 1-0.3 1,0.1 1,0.5 1-1 1-0.3 1,0.1 1,0.5 1,1.3 1-0.6 1-0.8 1-0.2 1,0.2 1,0.3 1-0.5 1,0 1,0.4 1,0.6 1-0.1 1,0.1 1-0.2 1-0.5 1-0.8 1-0.2 1,0.2 1,0.8 1,0.7 1,0.3 1-0.6 1-0.3 1,0.1 1,0.3 1,0.1 1,0.3 1-0.2 1,0.1 1-0.7 1-0.8 1-0.5 1,0 1,0.2 1,0.4 1,0.9 1,0.1 1,0.4 1,0 1,0.2 1-0.4 1,0 1,0.1 1,0.4 1-0.6 1-0.3 1,0.2 1,0.2 1,0 1-0.4 1-0.6 1-0.1 1,0.3 1,0.3 1-0.4 1,0.1 1-2 1-0.6 1-0.1 1,0.4 1,1.1 1,0.5 1-0.5 1,0 1,0.5 1,0.3 1,0.1 1,0.6 1-0.3 1-0.6 1-0.1 1,0.4 1,0.7 1,0 1,0.2 1-0.1 1-0.1 1,0.3 1,0 1-0.7 1-0.2 1,0 1-0.2 1,0.2 1,0.8 1-0.6 1-0.6 1-0.1 1,0.3 1,0.5 1,0.5 1-0.6 1-0.2 1-0.5 1-0.1 1,0 1-0.1 1,0.3 1,1 1,0.1 1-1 1-0.3 1,0.1 1,0.6 1,0.6 1,0.3 1-0.2 1,0.1 1,0.2 1,0.1 1,0.3 1-0.8 1-0.2 1-0.2 1-0.3 1,0 1-0.1 1,0.4 1,0.8 1-1.1 1-1.2 1-0.3 1,0 1,0.6 1,1.1 1-0.4 1-0.2 1,0.1 1,0.5 1,0.7 1,0 1-0.2 1-0.8 1-0.2 1,0.1 1-0.3 1-0.3 1,0.1 1,0.2 1-0.5 1-0.3 1,0.2 1-0.1 1-0.5 1,0 1,0.5 1,0.6 1,0.3 1,0.6 1,0.1 1-0.6 1-0.3 1,0.1 1,0.2 1-0.5 1-0.1 1-0.1 1-0.3 1,0.1 1,0.5 1,1.4 1-0.3 1-0.1 1,0.1 1-0.5 1-0.1 1,0.3 1,0.4 1-0.1 1,0.1 1,0 1-0.8 1-0.2 1,0.2 1,0.3 1,0.6 1-0.2 1-0.8 1-0.2 1,0 1,0 1,0.5 1,0 1-0.4 1,0 1,0.5 1,0 1,0.3 1,0.4 1,0.1 1-0.5 1-0.5 1,0 1,0.4 1-0.1 1-0.4 1-0.2 1-0.2 1-0.1 1-1 1-0.3 1,0.1 1-0.8 1-0.3 1,0.2 1,0.6 1,2.3 1,0 1-0.2 1,0.2 1-1.3 1-0.5 1-0.1 1,0.4 1,1.3 1,0 1,0 1-0.2 1,0.2 1,0.3 1-0.5 1,0 1-1.2 1-0.3 1,0 1,0.5 1,0 1,0.3 1,0.3 1,0.9 1-1 1-0.6 1,0 1,0.3 1,1 1-0.2 1-0.4 1-0.1 1-0.1 1-0.5 1,0 1-0.3 1,0 1,0.4 1,0.7 1-0.1 1,0.2 1,0.3 1,0.5 1,0.4 1-0.4 1,0 1,0.1 1-0.7 1-0.2 1-0.8 1-0.2 1,0.2 1,0.8 1,0.6 1,0.6 1-2.6 1-0.5 1,0 1,0.4 1,1.4 1-0.1 1,0 1,0.4 1,0.2 1,0.1 1,0.5 1-0.4 1-0.2 1,0.2 1,0.5 1-0.8 1-0.2 1,0.2 1,0.2 1-0.1 1,0.4 1,0.1 1-0.7 1-0.2 1,0 1,0.3 1,0.5 1-0.1 1-0.5 1-0.7 1-0.1 1,0.3 1,0.1 1,0.5 1,0.6 1,0.3 1-0.2 1-0.2 1-0.1 1-0.8 1-0.2 1-0.1 1-0.8 1-0.2 1,0.2 1,0.5 1-0.1 1,0.4 1,0.2 1-1.2 1-0.6 1-0.1 1,0.3 1,1 1,0.6 1,0.1 1,0.2 1,0.4 1-0.3 1,0 1,0.3 1-0.3 1-0.1 1,0.1 1,0.5 1-0.1 1-0.4 1,0.1 1,0.5 1,0.4 1-0.2 1-0.2 1,0.3 1-0.9 1-1.3 1-0.4 1,0 1,0.5 1,2.1 1,0 1-0.2 1-1 1-0.5 1,0 1,0.4 1,0 1,0.1 1,0.6 1,0.2 1,0 1,0.1 1-0.5 1-0.1 1,0 1,0.3 1,0.4 1,0.2 1-0.5 1-0.2 1,0.2 1-0.5 1-1.4 1-0.4 1,0.1 1,0.5 1,1.6 1,0.6 1,0 1-0.1 1-0.1 1-0.4 1-0.3 1,0.2 1,0.3 1,0 1-0.3 1-0.7 1-0.8 1-0.2 1,0.2 1,0.6 1-0.7 1-0.2 1,0.3 1,0.8 1,0.2 1-0.3 1-0.3 1-0.1 1,0.2 1,0.9 1,0.1 1,0 1,0.2 1-0.5 1,0 1,0.1 1,0.1 1,0.2 1-0.1 1-0.7 1-0.5 1-0.1 1,0.3 1,0.6 1,0.2 1,0.4 1-0.6 1-0.2 1,0.2 1,0.6 1-0.5 1-0.2 1-0.2 1-0.2 1-1 1-1.2 1-0.3 1,0 1,0.6 1,2.6 1-0.3 1,0 1-1 1-0.3 1-0.1 1,0.1 1,0.5 1,0.7 1,0.4 1,0.5 1,0.2 1-0.5 1-0.5 1-0.2 1-0.2 1,0.2 1,0.8 1,0.3 1-0.4 1-0.6 1-0.3 1,0 1,0.6 1,0.1 1-1.7 1-0.6 1-0.1 1,0.4 1,1.1 1,1.4 1-0.3 1,0 1-0.1 1,0.3 1-1.1 1-0.4 1,0.1 1,0.6 1,0.3 1-0.5 1,0 1-0.6 1-0.5 1,0 1,0.5 1,0.5 1-0.3 1,0.2 1,0.7 1,0.3 1-0.2 1,0.2 1,0.5 1-0.3 1-0.6 1-0.2 1-0.6 1-0.4 1,0 1,0.4 1,0.9 1,0.1 1-1 1-0.3 1,0.1 1,0.2 1,0.5 1,1 1-0.6 1-0.1 1,0.2 1,0.3 1,0.1 1,0 1,0.4 1,0.2 1-0.6 1-0.5 1-0.1 1,0 1-0.5 1-0.1 1,0.4 1,0.3 1,0.3 1-0.4 1-0.2 1,0.2 1-0.2 1-0.5 1-0.1 1,0.1 1,0.1 1,0.5 1-0.1 1,0 1-0.4 1-0.1 1,0.3 1,0.2 1,0.1 1,0 1,0.4 1,0.4 1-0.5 1,0 1-0.2 1-0.3 1-0.2 1,0.3 1-0.1 1-0.2 1-0.5 1,0 1,0.3 1,0.7 1,0.2 1-0.9 1-0.3 1,0.2 1,0.3 1,0.8 1,0.3 1-0.9 1-0.6 1-0.1 1,0.4 1,0.3 1,0 1-0.5 1-0.6 1-0.1 1,0.4 1-0.2 1,0.1 1,0.5 1,0.8 1,0 1-0.3 1,0.1 1-0.6 1-0.1 1,0.2 1,0.8 1,0.4 1-0.3 1,0 1-0.2 1,0.3 1,0.7 1-1.1 1-0.8 1-0.8 1-0.5 1,0 1,0.5 1,1.3 1-0.1 1,0.3 1-0.2 1-0.4 1,0 1,0.5 1,0.3 1-0.1 1,0.2 1,0 1,0.1 1-0.3 1,0 1,0.4 1,0.2 1-0.1 1,0.1 1-0.7 1-0.8 1-0.3 1,0.1 1,0.5 1,0.9 1,0 1-0.1 1,0.3 1,0.1 1-0.1 1-0.7 1-0.5 1,0 1,0.5 1,0.8 1,0 1-0.3 1-0.1 1,0.2 1-0.7 1-0.2 1,0.3 1-0.1 1-0.3 1,0.1 1,0.6 0,5.4 -1,0.8 -1,0.6 -1,0.2 -1-0.1 -1,0.6 -1,0.2 -1-0.2 -1-0.5 -1-0.3 -1,1 -1,0.8 -1,0.2 -1-0.1 -1-0.4 -1-0.8 -1-0.2 -1-0.1 -1,0.2 -1,0.5 -1,0.4 -1,0 -1-0.5 -1-0.4 -1-0.2 -1,0.5 -1,0.4 -1,0 -1-0.4 -1-0.5 -1,0.1 -1,0.1 -1,0.4 -1-0.1 -1-0.2 -1,1 -1,0.7 -1,0.1 -1-0.2 -1-0.9 -1-0.6 -1,0 -1,1.3 -1,0.4 -1,0 -1-0.4 -1-1.5 -1,0.4 -1-0.1 -1-0.5 -1,0.5 -1,0.1 -1-0.2 -1,0 -1-0.5 -1-0.2 -1,0.6 -1,0.1 -1-0.4 -1,0.3 -1,0.1 -1-0.3 -1-0.3 -1-0.4 -1,0.8 -1,0.4 -1,0 -1-0.5 -1-0.6 -1,0.3 -1,0.3 -1-0.2 -1,0.4 -1,0 -1,0 -1-0.3 -1,0.3 -1,0.5 -1,0.7 -1,0.2 -1-0.3 -1-0.9 -1,0.2 -1,0.1 -1-0.3 -1-0.3 -1-0.1 -1-0.3 -1,0.3 -1,0 -1-0.4 -1,0.2 -1,0 -1-0.4 -1,0 -1-0.1 -1,0.7 -1,0.2 -1-0.3 -1,0.2 -1,0.3 -1-0.1 -1-0.6 -1,0.1 -1,0.1 -1-0.1 -1-0.1 -1,0.4 -1,0.2 -1-0.2 -1-0.6 -1,0 -1,0.2 -1,0.2 -1-0.3 -1,0.1 -1,0.2 -1,0.3 -1,0.2 -1,0.1 -1,0.7 -1,0.5 -1,0.1 -1-0.3 -1-0.7 -1,0.1 -1,0.2 -1,0.9 -1,0.2 -1-0.1 -1-0.7 -1-1 -1,0 -1,0 -1-0.4 -1-0.2 -1,0 -1-0.3 -1,0.4 -1,0.4 -1,0.5 -1,0 -1-0.3 -1,1.5 -1,0.5 -1,0 -1-0.3 -1-0.9 -1,0.4 -1,0 -1-0.4 -1-0.7 -1-0.2 -1-0.1 -1,0.4 -1,0 -1-0.4 -1-0.5 -1,0.4 -1,0.8 -1,0.1 -1-0.2 -1-0.9 -1,0.3 -1,0.4 -1,0.3 -1,0.3 -1-0.1 -1-0.2 -1,0.3 -1-0.1 -1-0.7 -1-0.1 -1,0.5 -1,0 -1-0.3 -1-0.4 -1-0.2 -1,0.3 -1,0.3 -1-0.2 -1-0.3 -1-0.1 -1,0.9 -1,0.3 -1-0.1 -1-0.6 -1-0.8 -1,0.1 -1,0.3 -1,0.2 -1-0.1 -1,0.4 -1-0.1 -1-0.3 -1,0.3 -1,0 -1-0.6 -1,1.1 -1,0.9 -1,0.3 -1-0.2 -1-0.7 -1-1 -1-0.2 -1-0.4 -1,0.3 -1,0.2 -1,0 -1,0.3 -1,0 -1-0.5 -1,0.3 -1,0 -1-0.2 -1,0.2 -1,0.2 -1,0.1 -1-0.2 -1-0.6 -1,0.3 -1-0.2 -1,0.5 -1,0.5 -1,0 -1-0.5 -1-0.3 -1,0.5 -1,1.9 -1,0.6 -1,0.2 -1-0.3 -1-1 -1-2 -1-0.1 -1,0.1 -1,0.1 -1-0.2 -1,0.1 -1,0.1 -1,0.7 -1,0.6 -1,0.1 -1-0.3 -1-1 -1,0.1 -1-0.3 -1,1.9 -1,1.2 -1,0.3 -1-0.1 -1-0.5 -1-2.7 -1-0.1 -1,0.6 -1,0.5 -1,0.1 -1-0.4 -1-1 -1,0 -1,2.7 -1,1 -1,0.3 -1-0.2 -1-0.6 -1-0.9 -1-0.8 -1-1 -1-0.1 -1-0.2 -1-0.3 -1,0.4 -1,0.4 -1,0.3 -1,0.1 -1-0.4 -1-0.4 -1,0.5 -1,0 -1,0.2 -1,0.1 -1-0.2 -1-0.4 -1,0.5 -1,0.4 -1,0 -1,0.7 -1,1.1 -1,0.4 -1-0.1 -1-0.6 -1-2 -1,0.1 -1,0.4 -1,0 -1,0.5 -1,0 -1-0.5 -1-0.8 -1-0.2 -1,0.7 -1,0.2 -1-0.3 -1-0.1 -1-0.6 -1,0.2 -1,0 -1-0.5 -1-0.4 -1,0.2 -1-0.2 -1,0.2 -1,0.2 -1,0.1 -1-0.2 -1,0.3 -1,0.1 -1,0 -1,0.2 -1,0.4 -1,0.3 -1,0 -1-0.5 -1,0.1 -1-0.3 -1-0.1 -1,0.6 -1,0.1 -1,0 -1-0.1 -1,0 -1-0.5 -1,0.1 -1,1.3 -1,1.3 -1,0.4 -1,0 -1-0.5 -1-1.8 -1,0.1 -1-0.3 -1-0.8 -1,0.2 -1,0.6 -1,0.2 -1-0.3 -1,0.4 -1,0.3 -1-0.2 -1-0.6 -1-0.6 -1,0.7 -1,0.2 -1-0.3 -1,0 -1,0 -1-0.1 -1,0.2 -1-0.2 -1-0.7 -1,0.5 -1,0.1 -1-0.1 -1,0.5 -1,0.3 -1,0.1 -1-0.3 -1-0.9 -1-0.2 -1-0.2 -1,1.1 -1,0.5 -1,0.1 -1-0.3 -1-0.6 -1-0.5 -1,0.1 -1,0.3 -1,0.2 -1-0.2 -1-0.4 -1-0.3 -1,0.2 -1,0.4 -1,0.4 -1-0.1 -1,0.1 -1,1.6 -1,0.7 -1,0.1 -1-0.3 -1-1 -1-1.9 -1,0.5 -1,0 -1-0.4 -1-0.1 -1,0.8 -1,0.2 -1-0.1 -1-0.5 -1-0.2 -1,0 -1,0.3 -1,0.2 -1,0.6 -1,0 -1-0.4 -1-0.6 -1-0.1 -1,0 -1,0.5 -1,0.5 -1,0 -1-0.5 -1-0.5 -1,0.4 -1,0.1 -1,0.2 -1,0.2 -1-0.1 -1-0.5 -1-0.1 -1,0.3 -1,0.2 -1-0.3 -1,0.1 -1,0.4 -1,0.4 -1,0 -1-0.5 -1-0.4 -1,0.2 -1,0.1 -1,0.2 -1-0.1 -1-0.5 -1-0.3 -1,0.1 -1,0.5 -1,0 -1-0.2 -1-0.2 -1,0 -1,0.1 -1,0.8 -1,0.3 -1,0.4 -1-0.1 -1-0.6 -1-0.9 -1,0.3 -1,0.5 -1,0.4 -1-0.1 -1-0.6 -1,0.4 -1,0.2 -1,0.8 -1,0.2 -1-0.2 -1-0.8 -1-1.2 -1-0.2 -1-0.5 -1,0.8 -1,0.3 -1,0.5 -1,0.2 -1-0.2 -1-0.8 -1,0.3 -1,0.1 -1-0.2 -1-0.1 -1,0.3 -1-0.2 -1,0.2 -1,0.7 -1,0.3 -1-0.2 -1-0.5 -1-0.1 -1,0.8 -1,0.4 -1,0 -1-0.4 -1-0.1 -1,0 -1,0.1 -1,0.1 -1-0.4 -1-0.5 -1,0.2 -1-0.3 -1,0.1 -1,1.4 -1,0.4 -1-0.1 -1-0.5 -1-0.8 -1-0.5 -1,0.1 -1,0.5 -1,0.1 -1-0.3 -1-0.3 -1,0.4 -1-0.1 -1-0.5 -1,0 -1,0.3 -1,0.2 -1,0.2 -1,0.1 -1,0.3 -1-0.2 -1-0.5 -1,0 -1,0 -1-0.4 -1,0.9 -1,0.5 -1,0.1 -1-0.4 -1-0.8 -1-0.2 -1,0.6 -1,0.2 -1-0.2 -1,0.3 -1,0.3 -1-0.1 -1-0.2 -1-0.5 -1,0.1 -1,0.6 -1,0.1 -1-0.4 -1-0.6 -1-0.6 -1,0.3 -1,0 -1,0.1 -1,0.6 -1,0.8 -1,0.2 -1-0.2 -1-0.8 -1,2 -1,0.4 -1,0 -1-0.4 -1-2.1 -1-0.4 -1-0.4 -1,0 -1,0.2 -1,0.3 -1-0.1 -1,1.2 -1,0.3 -1-0.1 -1-0.5 -1-0.6 -1-0.6 -1-0.4 -1,1.7 -1,0.6 -1,0.2 -1-0.3 -1,0.7 -1,0.3 -1-0.2 -1-0.5 -1-0.6 -1-0.3 -1-0.4 -1,0.5 -1,0.2 -1-0.2 -1,0.1 -1,0.7 -1,0.2 -1-0.3 -1-0.9 -1,0 -1-0.2 -1-0.3 -1-0.2 -1,0.5 -1,0.1 -1-0.3 -1-0.3 -1,0.2 -1,0 -1,0.5 -1,1 -1,0.3 -1-0.1 -1-0.6 -1-0.7 -1-0.4 -1,0.3 -1,0 -1-0.4 -1-0.2 -1,0.5 -1,0.2 -1-0.3 -1,0.1 -1,0.3 -1-0.2 -1-0.4 -1,0.3 -1,0.1 -1,0.2 -1,0 -1,0.4 -1,0.6 -1,0.1 -1-0.3 -1-1 -1-0.1 -1-0.2 -1-0.1 -1,0.4 -1,0 -1,0.5 -1,0 -1,0 -1,0.1 -1,0.3 -1,0.1 -1-0.3 -1-0.8 -1,0.1 -1-0.3 -1-0.2 -1,0.2 -1,0.1 -1-0.3 -1,0.3 -1,0.1 -1-0.2 -1,2 -1,0.4 -1,0 -1-0.4 -1-0.6 -1,0.6 -1,0 -1-0.3 -1-0.8 -1,0.3 -1,0 -1-0.6 -1-0.4 -1,0 -1,0.7 -1,0.5 -1,0.6 -1,0.1 -1-0.3 -1-0.6 -1,0.2 -1,0.3 -1-0.1 -1-0.5 -1-0.3 -1,0.3 -1,0.2 -1-0.3 -1-0.1 -1,1.7 -1,0.5 -1,0 -1-0.4 -1-0.6 -1-0.4 -1-0.2 -1-0.6 -1,0.4 -1,0.4 -1-0.1 -1,0.3 -1-0.1 -1-0.7 -1,0.4 -1,0.1 -1,0.3 -1,0.2 -1-0.3 -1-0.8 -1-0.3 -1,0.2 -1-0.1 -1-0.1 -1,0 -1,0.2 -1,0.8 -1,0.2 -1-0.1 -1-0.5 -1,0.1 -1-0.3 -1-0.5 -1,0.3 -1,0.7 -1,0.2 -1-0.3 -1-0.9 -1-0.1 -1,0.3 -1-0.2 -1-0.7 -1-0.3 -1,0.6 -1,0.5 -1,0.2 -1,0.1 -1-0.1 -1-0.2 -1-0.1 -1-0.4 -1,0.2 -1,0.4 -1,0.5 -1,0 -1-0.1 -1,0.5 -1,0.3 -1-0.2 -1-0.7 -1,0.3 -1,0 -1,0.6 -1,0.4 -1,0 -1,0 -1,0 -1-0.2 -1,0.1 -1,0.4 -1,0.1 -1-0.4 -1-1 -1,0.6 -1,0.4 -1,0 -1-0.1 -1-0.5 -1,0 -1-0.3 -1-0.3 -1-0.1 -1,0.4 -1,0.3 -1-0.1 -1-0.1 -1-0.2 -1,0.4 -1,0.2 -1-0.2 -1,0.4 -1,0.2 -1-0.2 -1,0.6 -1,0 -1-0.2 -1-0.2 -1-0.5 -1,0.8 -1,1.5 -1,0.7 -1,0.2 -1-0.2 -1-0.9 -1-1 -1,0.3 -1,0.7 -1,0.6 -1,0.1 -1,0 -1-0.1 -1-0.5 -1-0.6 -1,0.5 -1,0 -1-0.5 -1-0.2 -1-0.1 -1,0 -1,0.7 -1,0.4 -1-0.1 -1-0.5 -1-0.2 -1,0.4 -1,0 -1,0 -1-0.4 -1,0 -1,0.2 -1,0.1 -1-0.3 -1,0.1 -1,1 -1,0.3 -1-0.1 -1-0.7 -1-0.4 -1,0.1 -1,0.2 -1,0.2 -1,0 -1,0 -1,0.1 -1,0.3 -1,0.1 -1,0.5 -1,1.4 -1,0.5 -1,0.1 -1-0.4 -1-0.7 -1-1.1 -1,0.3 -1-0.1 -1,0.2 -1,0.1 -1-0.3 -1-0.4 -1,0.3 -1,0.1 -1,0.7 -1,0.6 -1,0.1 -1-0.4 -1-1.1 -1,1 -1,0.4 -1,0 -1-0.4 -1-1.1 -1,0.8 -1,0.2 -1-0.2 -1-0.6 -1-0.3 -1,2.4 -1,0.5 -1,0.1 -1-0.3 -1-1.2 -1-1.2 -1,0.1 -1,1.4 -1,0.5 -1,0.1 -1-0.4 -1-1.4 -1-1.3 -1,0.2 -1,0.2 -1,0.8 -1,0.4 -1-0.1 -1-0.5 -1,0.3 -1,0.2 -1-0.2 -1,0 -1,0.1 -1-0.1 -1,0.4 -1,0 -1-0.5 -1-0.6 -1,0.6 -1,0.4 -1,0.5 -1,0.1 -1,0.3 -1,0.4 -1,0 -1-0.1 -1,0.3 -1,0.5 -1,0 -1,0.2 -1-0.1 -1-0.2 -1,1.7 -1,0.5 -1,0 -1-0.4 -1-0.9 -1,0.7 -1,0.1 -1-0.3 -1-0.6 -1-0.2 -1-0.6z"/>
<path fill="#E84C5F" d="M114,303.8l1-0.6 1-0.2 1-0.2 1,0.1 1,0 1-0.3 1-0.2 1,0 1,0.3 1-0.1 1,0.4 1,1.1 1,0.4 1-0.3 1,0 1,0.5 1,0.7 1-0.2 1,0.1 1,0.3 1,0 1,0.5 1,0 1,0.2 1,0.5 1-0.6 1-0.1 1,0.4 1,0.6 1,0.1 1,0.3 1-0.1 1,0 1,0 1,0.4 1,0.5 1,0.3 1,0.1 1,0.1 1-0.2 1-0.4 1,0 1,0.5 1-0.6 1-0.4 1,0.1 1,0.3 1,0.3 1,0.3 1-0.6 1,0 1,0.3 1,0.4 1,0.1 1-0.3 1,0.1 1,0.2 1,0.6 1-0.4 1-0.2 1,0.2 1,0.4 1-0.5 1,0 1,0.4 1,0.3 1-0.1 1-0.4 1-0.2 1-0.1 1,0.4 1,0.3 1-1.1 1-0.4 1-0.2 1,0 1,0.4 1,1.1 1,0.3 1,0.3 1,0 1-0.1 1-0.4 1-0.5 1-0.3 1,0.1 1,0.4 1,0.4 1-0.2 1-0.5 1-0.1 1,0.4 1,1 1-0.1 1-0.3 1-0.4 1-0.3 1-0.4 1,0.1 1,0 1-0.1 1,0.3 1,0.3 1-0.1 1,0.3 1,0 1-0.2 1-0.1 1-0.2 1,0.1 1,0.2 1-0.3 1-0.3 1-0.1 1,0.4 1,0.1 1-0.7 1-0.2 1,0.3 1,0.6 1,0.3 1,0.9 1-0.1 1-0.4 1-0.2 1-1 1-0.5 1,0 1,0.5 1,0 1,0.1 1,0.3 1,0.6 1-0.2 1,0.1 1-0.6 1-0.2 1,0 1,0.5 1-0.1 1,0.3 1-0.1 1,0.2 1,0 1,0.1 1-0.7 1-0.4 1,0.1 1,0.5 1,0.2 1-0.1 1-0.2 1-0.1 1,0.4 1-0.8 1-0.2 1,0.2 1,0.8 1-0.1 1,0.2 1-0.5 1-0.2 1,0.1 1,0.2 1,0.1 1-0.1 1,0 1,0.1 1-0.9 1-0.3 1,0.2 1,0.7 1,0.1 1,0.3 1,0.5 1,0 1,0.5 1-0.1 1-0.1 1-0.4 1-0.4 1-0.4 1,0.1 1,0.5 1,0.5 1-0.2 1-0.2 1,0.3 1,0.1 1-0.9 1-0.6 1-0.3 1,0.1 1,0.5 1,0 1,0.3 1,0.7 1,0 1-0.6 1-0.5 1-0.1 1,0.3 1,0.7 1,0.2 1-0.5 1-0.4 1,0 1,0.5 1,0.6 1-0.5 1,0 1,0.4 1,0.1 1-0.3 1-0.4 1-0.4 1,0 1,0.2 1,0.9 1-0.4 1,0 1-0.2 1,0.3 1-0.3 1-0.2 1-0.1 1,0.3 1-0.6 1-0.3 1,0.1 1,0.5 1-0.7 1-0.1 1,0.3 1-0.7 1-0.4 1,0 1,0.5 1,1.2 1,0.9 1-0.1 1-0.8 1-0.5 1-0.1 1,0.3 1,0.2 1,0.7 1,0.3 1-0.3 1,0 1,0 1-0.2 1-0.2 1-0.1 1,0.3 1,0.3 1,0.2 1,0.1 1,0.3 1,0.3 1-0.4 1,0.1 1,0.2 1-2 1-0.8 1-0.3 1,0.2 1,0.7 1,0.8 1,1.4 1-0.3 1-0.6 1-0.1 1-0.3 1-0.4 1,0 1,0.5 1-0.2 1-0.1 1,0.3 1,0.6 1,0 1,0.1 1-1 1-0.5 1-0.1 1,0.4 1,1.3 1,0.1 1-1.2 1-0.5 1,0 1,0.4 1,0.3 1,0.1 1-0.6 1-0.1 1,0.4 1,0.4 1-1 1-0.5 1,0 1,0.5 1-0.6 1-1.1 1-0.4 1,0.1 1,0.6 1,2.4 1-0.1 1-0.3 1-0.3 1-0.5 1,0 1,0.5 1,0 1,0 1,0.4 1-0.9 1-0.8 1-0.2 1,0.2 1,0.8 1,1.5 1-0.1 1,0.1 1,0.2 1-0.3 1-0.1 1-0.2 1-0.1 1-0.2 1,0.1 1,0 1-0.2 1,0.1 1,0.3 1,0.6 1-0.1 1-0.7 1-0.5 1-0.1 1,0.3 1,0.9 1,0 1,0 1-0.3 1,0.2 1,0.6 1-0.4 1,0 1-0.2 1,0.1 1,0.5 1-0.2 1,0.1 1,0.5 1-0.3 1-0.1 1,0 1,0.3 1,0.3 1-1.7 1-0.5 1,0 1,0.5 1,1 1-0.3 1,0 1,0.4 1,0.1 1-0.3 1-1.3 1-0.5 1-0.1 1,0.3 1,1.2 1-0.5 1-0.2 1,0.3 1-0.5 1-0.3 1,0.2 1,0.6 1,0.2 1-0.4 1,0.1 1,0.4 1,0.2 1-0.2 1,0 1,0.4 1-0.2 1,0.1 1,0.1 1,0.5 1,0.5 1-0.3 1-0.2 1-0.6 1-0.1 1,0.3 1-0.3 1-0.5 1-0.5 1-0.9 1-0.3 1,0.2 1,0.7 1,1.4 1,0.1 1-0.1 1,0.2 1-0.2 1,0.2 1-0.1 1,0 1,0 1-0.6 1-0.1 1,0.4 1,1.1 1-0.5 1,0 1,0.1 1-0.6 1-0.6 1-0.8 1-0.2 1,0.2 1,0.8 1,0.6 1-0.4 1-0.1 1-1 1-0.3 1,0.1 1,0.6 1,1.5 1-0.3 1-0.3 1-0.1 1-0.4 1,0 1,0.3 1,0.3 1-0.2 1,0.2 1,0.5 1,0 1-0.1 1-0.3 1,0 1,0.4 1,0 1-0.1 1-0.7 1-0.3 1,0.2 1,0.1 1,0.2 1,0.1 1-0.3 1,0.1 1,0.4 1-0.1 1-0.4 1-0.1 1,0.3 1-0.1 1-0.2 1-0.1 1-0.4 1,0 1,0 1,0 1,0.5 1,0.7 1-0.1 1-0.2 1-0.2 1-0.9 1-0.5 1-0.1 1,0.4 1,1.4 1,0.7 1-0.8 1-0.2 1-0.1 1-0.3 1,0 1,0.4 1,0.1 1-0.3 1-0.3 1,0.2 1,0.2 1,0.1 1-1.5 1-0.5 1-0.3 1,0.2 1,0.6 1,0.8 1-0.1 1,0.3 1,0.1 1,0.1 1-0.1 1-0.1 1,0 1-0.4 1-0.4 1,0 1,0.4 1,0.3 1,0.2 1-0.3 1-0.6 1-0.2 1,0.3 1,0.5 1,0 1-0.4 1-0.4 1,0 1,0.4 1-0.3 1,0.1 1,0 1,0.4 1,0.9 1,0.4 1-0.6 1-0.6 1,0 1,0.2 1-0.5 1-0.1 1-0.1 1-0.5 1-0.6 1,0 1,0.4 1,1.2 1,0.1 1,0.5 1-0.4 1-0.3 1,0.1 1,0.4 1-0.2 1-0.3 1,0.2 1,0.6 1-0.1 1-0.4 1,0.1 1-0.1 1-0.4 1-0.4 1,0 1,0.4 1-0.1 1,0.4 1,0.7 1,0.1 1,0 1-0.1 1-0.5 1-0.1 1-0.3 1,0.1 1,0.3 1-0.3 1-0.3 1,0.1 1,0.6 1,0.1 1-0.2 1,0.1 1-0.3 1-0.8 1-0.2 1,0.2 1,0.7 1,0.1 1,0 1-0.3 1,0.1 1,0.1 1,0 1-0.7 1-0.2 1,0 1-0.5 1,0 1,0.1 1-0.4 1,0.1 1,0.6 1,1 1-0.9 1-0.3 1-0.1 1-1.3 1-0.4 1,0 1,0.5 1,2.9 1,0.1 1,0.1 1,0.1 1-1 1-0.9 1-0.3 1,0.2 1,0.7 1,1.2 1-0.6 1-0.9 1-0.2 1,0.1 1,0.7 1,0.4 1-0.1 1-0.6 1-0.4 1,0 1,0.5 1,0.4 1,0.1 1,0.3 1,0.4 1-0.5 1-0.8 1-0.3 1,0.2 1,0.7 1-0.1 1-0.1 1,0.2 1,0 1-0.5 1,0 1,0.4 1-0.3 1-0.5 1,0 1,0.5 1,0.9 1-0.1 1,0.1 1-0.4 1,0 1-0.1 1,0 1-0.2 1-0.2 1,0.2 1,0 1,0.2 1-0.1 1,0 1,0.2 1,0.7 1-0.1 1,0.1 1,0.3 1,0.1 1-0.7 1-0.2 1,0.3 1-0.1 1,0 1,0.2 1-0.5 1,0 1,0.4 1,0 1,0.2 1-0.2 1-0.5 1-0.1 1-0.5 1-0.3 1,0.1 1,0.5 1,0.4 1,0 1-0.8 1-0.4 1,0.1 1,0.6 1,0.2 1,0.4 1,0.2 1-0.5 1-0.1 1-0.2 1,0 1,0.3 1-0.1 1-0.2 1,0 1,0.3 1-0.2 1,0.2 1-0.1 1,0.2 1-0.5 1,0 1,0.5 1,0.9 1,0 1-0.5 1-0.5 1,0 1,0.3 1-0.5 1-0.5 1-0.1 1,0.2 1-0.1 1,0.3 1,0.1 1,0.3 1-0.1 1-0.1 1-0.1 1,0.3 1,0.3 1-0.4 1,0 1-1 1-0.8 1-0.2 1,0.2 1,0.8 1,0.8 1,0 1-1.9 1-0.5 1,0 1,0.4 1,1.3 1,0.1 1,0.3 1-0.4 1-0.1 1,0.2 1,0.1 1,0.2 1,0.8 1,0.1 1-1.6 1-0.8 1-0.2 1,0.2 1,0.8 1,0.8 1-0.1 1,0 1-0.4 1-0.5 1,0 1,0.5 1,0.3 1-0.4 1,0.1 1,0.5 1,0 1,0.1 1,0.1 1-0.2 1,0.3 1,0 1,0.4 1,0.1 1,0.2 1,0 1-0.2 1-0.9 1-0.2 1-0.3 1-0.9 1-0.3 1,0.2 1,0.7 1,1 1,0 1,0.1 1-0.1 1-1.9 1-0.5 1,0 1,0.5 1,1.5 1,0 1-0.7 1-0.2 1,0.2 1,0.9 1-1.4 1-0.5 1-0.1 1,0.3 1,0.9 1-0.2 1,0 1,0.4 1,0.4 1-0.5 1,0 1-0.1 1,0.1 1,0.2 1,0 1,0.4 1,0.3 1,0.4 1-0.4 1-0.5 1-0.1 1,0.3 1,0.6 1,0.2 1,0.2 1-0.4 1,0 1-0.4 1-0.3 1,0.2 1,0.3 1-0.2 1,0.1 1,0.4 1-0.6 1-0.1 1,0.3 1-0.2 1-0.2 1,0.2 1,0.4 1-0.4 1-0.5 1,0 1,0.4 1,0.6 1-0.1 1-0.2 1,0 1,0.4 1-0.3 1-0.6 1-0.2 1,0.3 1,0.2 1,0.6 1,0 1-0.4 1,0 1-0.5 1-0.2 1,0.3 1,0.5 1,0 1,0.4 1-1.7 1-0.9 1-0.3 1,0.2 1,0.7 1,2.3 1-3.1 1-0.4 1,0 1,0.4 1,2.7 1-0.4 1,0.1 1,0.3 1-0.1 1,0.2 1,0.2 1-0.1 1,0.2 1,0 1-0.1 1-0.2 1-0.3 1,0.1 1-0.5 1-0.1 1,0.3 1,0.4 1-0.4 1-0.6 1-0.1 1,0 1,0.2 1,0.9 0,6.3 -1,0.6 -1,0.1 -1-0.1 -1,0.2 -1,0.4 -1,0.2 -1-0.2 -1-0.8 -1,0.4 -1,0.1 -1,0 -1,0.1 -1-0.4 -1,0.4 -1,0.7 -1,0.6 -1,0.1 -1-0.3 -1-1 -1-1.5 -1,0.3 -1,1.2 -1,0.6 -1,0.1 -1-0.2 -1-0.1 -1,0 -1-0.4 -1-0.7 -1-0.2 -1,0.4 -1,0.2 -1,0.5 -1,0.5 -1,0 -1-0.3 -1-0.1 -1,0.1 -1-0.1 -1,0.3 -1-0.1 -1-0.1 -1,0.3 -1-0.1 -1-0.6 -1-0.1 -1-0.2 -1,2.6 -1,0.5 -1,0 -1-0.5 -1-1.5 -1-0.2 -1-0.6 -1,0.1 -1,0.8 -1,0.2 -1-0.2 -1-0.8 -1-1.2 -1,0.6 -1,0.2 -1,0.1 -1-0.2 -1,0.4 -1,0 -1-0.5 -1-0.2 -1-0.4 -1,0 -1,0.8 -1,0.2 -1-0.1 -1-0.2 -1-0.9 -1,0.6 -1,0.1 -1-0.3 -1,0.3 -1,0.6 -1,0.3 -1-0.1 -1,0.4 -1,0.4 -1-0.1 -1-0.6 -1-0.9 -1,0.5 -1,0.4 -1,0 -1-0.5 -1,0 -1,0.7 -1,0.2 -1-0.3 -1-0.9 -1-0.6 -1,0.1 -1,0.3 -1,0.4 -1,0 -1,2.2 -1,0.5 -1,0 -1-0.5 -1-2.6 -1,0.1 -1-0.3 -1,0.4 -1,0.1 -1,0.3 -1,0.4 -1,0.4 -1,0.2 -1-0.2 -1-0.8 -1-0.1 -1,0 -1-0.1 -1,0.1 -1-0.1 -1,0 -1-0.3 -1,0.2 -1,0 -1,0.2 -1-0.2 -1,0.8 -1,0.2 -1-0.2 -1-0.8 -1-0.5 -1,0.2 -1,0 -1,0.2 -1-0.1 -1-0.3 -1-0.5 -1,0.1 -1,0.8 -1,0.2 -1-0.1 -1-0.2 -1-0.5 -1,0.4 -1,0 -1,0.1 -1,0.1 -1,0.1 -1-0.2 -1,0.1 -1,0.3 -1,0.2 -1-0.2 -1,0.6 -1,0.1 -1-0.4 -1-0.6 -1-0.2 -1-0.2 -1,0.6 -1,0.1 -1-0.3 -1-0.4 -1,0.2 -1,0.3 -1,0.1 -1,0.3 -1,0.3 -1-0.1 -1-0.5 -1,1 -1,0.8 -1,0.2 -1-0.2 -1-0.8 -1-1.1 -1,0.2 -1,0.1 -1-0.3 -1-0.6 -1,0.4 -1,0 -1,0.2 -1,0.4 -1-0.1 -1-0.4 -1,0.6 -1,0.1 -1-0.4 -1-0.4 -1,0.1 -1-0.2 -1,1.4 -1,0.5 -1,0 -1-0.4 -1-1.3 -1-0.1 -1-0.5 -1,0.3 -1,0.1 -1-0.2 -1,0 -1,0.2 -1,0 -1,0.2 -1,0.6 -1,0.1 -1-0.3 -1-0.3 -1,0.3 -1-0.1 -1,0.2 -1-0.2 -1,0.8 -1,0.7 -1,0.1 -1-0.3 -1-1 -1-0.8 -1,0.9 -1,0.5 -1,0 -1-0.4 -1,0.3 -1,0.1 -1,0.2 -1-0.2 -1-0.2 -1-0.6 -1,0.6 -1,0.2 -1-0.1 -1-0.7 -1,0 -1,0.1 -1-0.4 -1-0.9 -1,0.5 -1,1.2 -1,0.4 -1-0.1 -1-0.5 -1,0 -1-0.2 -1-0.5 -1-0.2 -1,0.7 -1,0.6 -1,0.2 -1-0.1 -1-0.4 -1-0.3 -1,0.2 -1,0.3 -1,0.1 -1,0.1 -1,0.1 -1-0.2 -1-0.2 -1-0.2 -1-0.7 -1,0.2 -1-0.2 -1,0.5 -1,0.3 -1-0.3 -1,0.2 -1-0.1 -1,0.1 -1,0 -1,0 -1,0.4 -1,0.1 -1-0.3 -1,0 -1,0.1 -1-0.3 -1,0.8 -1,0.3 -1-0.2 -1-0.2 -1-0.8 -1-0.1 -1,0.5 -1,0 -1-0.5 -1,0.2 -1,0 -1-0.4 -1-0.7 -1,0.5 -1,0.1 -1-0.3 -1,0.3 -1-0.2 -1,0.2 -1,0 -1,0.3 -1,0 -1,0 -1,0 -1-0.1 -1-0.6 -1-0.1 -1,0.6 -1,0.8 -1,0.5 -1,0.1 -1-0.4 -1-1.3 -1-0.2 -1,0.2 -1-0.2 -1,0 -1,0 -1,0.3 -1,0.3 -1,0 -1-0.3 -1,0.1 -1,0.1 -1-0.1 -1,0.3 -1-0.1 -1-0.6 -1,0.4 -1,0.2 -1,0 -1,0.3 -1-0.1 -1-0.3 -1,0.3 -1,0.2 -1-0.3 -1,0.3 -1,0.6 -1,0.1 -1-0.4 -1-0.5 -1,0.3 -1-0.1 -1-0.4 -1,0.2 -1-0.2 -1-0.2 -1,0.4 -1,0.1 -1-0.2 -1,0.2 -1,0.3 -1-0.1 -1-0.7 -1,0.8 -1,0.2 -1-0.1 -1-0.5 -1-0.2 -1-0.9 -1,0 -1,1 -1,0.7 -1,0.2 -1-0.3 -1-0.1 -1-0.3 -1-0.6 -1,0.7 -1,0.2 -1,0.1 -1-0.1 -1,0.2 -1,0 -1-0.4 -1-0.9 -1,0.1 -1,0.3 -1,0.1 -1-0.2 -1-0.1 -1,0.1 -1,0.3 -1,0.2 -1,0.3 -1-0.2 -1-0.1 -1,0.2 -1-0.2 -1,0.3 -1-0.1 -1,0.6 -1,0.5 -1,0.1 -1-0.4 -1-0.9 -1-0.8 -1-0.2 -1,0.5 -1,0.5 -1,0.3 -1-0.2 -1-0.2 -1,0 -1,0.1 -1,0.3 -1,0.7 -1,0.3 -1-0.1 -1-0.5 -1-0.4 -1,0.5 -1,0.6 -1,0.1 -1-0.4 -1-1 -1,0.1 -1,0.3 -1,0.6 -1,0.1 -1-0.4 -1-1.1 -1,1.7 -1,0.4 -1,0 -1-0.4 -1-0.9 -1,0.1 -1-0.3 -1-0.7 -1,0.3 -1,0.4 -1-0.1 -1-0.1 -1,0.7 -1,0.1 -1-0.2 -1,0.3 -1,0.2 -1-0.3 -1-0.8 -1-0.5 -1,0.2 -1,0.3 -1,0.6 -1,0.2 -1-0.1 -1-0.1 -1-0.3 -1,0.3 -1,0.2 -1,0 -1-0.5 -1,2.1 -1,0.5 -1,0.1 -1-0.3 -1-1.2 -1-1.1 -1,0 -1,0.4 -1,0.2 -1,0.9 -1,0.7 -1,0.3 -1-0.3 -1-0.7 -1-0.9 -1,0.2 -1,0.1 -1-0.2 -1-0.3 -1-0.2 -1,0 -1,0.7 -1,0.1 -1-0.3 -1-0.3 -1,0.3 -1-0.2 -1-0.7 -1,0 -1,0.1 -1,1.6 -1,1.1 -1,0.4 -1-0.1 -1-0.6 -1-0.8 -1,0.2 -1-0.3 -1-0.4 -1,0.1 -1-0.4 -1-0.6 -1,0.1 -1-0.3 -1-0.2 -1,0.3 -1,0.4 -1,0.6 -1,0.5 -1,0 -1-0.5 -1,0.1 -1-0.4 -1-0.3 -1,0.3 -1-0.1 -1-0.6 -1-0.1 -1,0.3 -1,0.5 -1,0.1 -1,0.4 -1,0.9 -1,0.4 -1,0 -1-0.4 -1-1.5 -1-0.4 -1-0.1 -1-0.2 -1-0.1 -1,0.2 -1,0.2 -1,0.1 -1,1 -1,0.3 -1,0 -1-0.4 -1-0.9 -1,0 -1-0.1 -1-0.4 -1,0 -1,0.7 -1,0.6 -1,0.5 -1,0.1 -1-0.3 -1-0.9 -1-0.9 -1,0.1 -1,0.5 -1,0.2 -1,0 -1-0.2 -1-0.3 -1-0.1 -1,0.6 -1,0.1 -1,0.5 -1,0.4 -1,0 -1-0.5 -1-1.2 -1,0.2 -1-0.1 -1,0 -1-0.1 -1,0.2 -1,0 -1,0.2 -1,0 -1,0.3 -1-0.2 -1-0.7 -1,0.3 -1,0.4 -1-0.1 -1-0.1 -1,0.1 -1-0.4 -1,0.9 -1,1 -1,0.3 -1-0.2 -1-0.6 -1-1.3 -1,0.3 -1-0.2 -1,0.6 -1,0.2 -1-0.1 -1-0.2 -1,0.1 -1-0.3 -1-0.3 -1,0.1 -1-0.2 -1-0.6 -1,0.5 -1,0.2 -1,0.5 -1,0.2 -1-0.1 -1-0.7 -1-0.6 -1,0.2 -1,0.1 -1,0.1 -1,0 -1,0.1 -1,0 -1,0.5 -1,0.3 -1-0.1 -1-0.4 -1-0.2 -1,0.2 -1,0.3 -1-0.1 -1,0.7 -1,0.2 -1-0.2 -1,0.1 -1-0.3 -1,0.1 -1,0 -1-0.3 -1-0.5 -1,0 -1,0.3 -1,0.2 -1-0.2 -1-0.2 -1,0.1 -1,0.8 -1,0.2 -1-0.2 -1,0 -1-0.2 -1,0.2 -1-0.3 -1-0.4 -1-0.1 -1,0.6 -1,0.3 -1,1.3 -1,0.4 -1,0 -1-0.5 -1-2.3 -1,0.8 -1,0.6 -1,0.2 -1-0.3 -1-1.1 -1,0 -1-0.2 -1,0.4 -1,0 -1-0.4 -1-0.1 -1-0.2 -1-0.3 -1-0.5 -1-0.5 -1,1.1 -1,0.8 -1,0.9 -1,0.3 -1-0.1 -1-0.5 -1-0.6 -1-0.3 -1,0.5 -1,0.2 -1-0.2 -1-0.8 -1-0.2 -1-0.2 -1,0.2 -1,0.8 -1,0.6 -1,0.2 -1-0.3 -1-0.3 -1,0.2 -1-0.2 -1,0.4 -1,0.4 -1-0.1 -1-0.5 -1-0.5 -1,0.7 -1,0.2 -1-0.1 -1-0.3 -1-0.2 -1,0.2 -1-0.2 -1-0.5 -1,0.2 -1,0 -1-0.5 -1,0 -1-0.1 -1-0.2 -1-0.6 -1,0.2 -1-0.1 -1,0.5 -1,0.2 -1-0.2 -1,0.2 -1,1.3 -1,0.4 -1,0 -1-0.2 -1,0.4 -1,0 -1-0.4 -1-0.3 -1-0.6 -1-0.8 -1-0.2 -1,1.3 -1,1 -1,0.9 -1,0.3 -1-0.2 -1-0.7 -1-1 -1,0.1 -1-0.3 -1-1.1 -1,0.1 -1-0.4 -1,0.1 -1,0.2 -1-0.1 -1,0 -1,0 -1,0.2 -1,0.2 -1,1 -1,0.4 -1,0 -1-0.4 -1-1.3 -1-0.3 -1-0.3 -1-0.3 -1,0.4 -1,0.4 -1,0.6 -1,0.1 -1-0.3 -1-0.6 -1,0 -1,0.3 -1,0 -1-0.6 -1-0.3 -1,0.3 -1,0 -1,0.1 -1,0.4 -1,0.5 -1,0.2 -1-0.2 -1-0.3 -1-0.3 -1-0.1 -1,0.3 -1,0.5 -1,0.1 -1-0.4 -1-0.7 -1,0.1 -1,0 -1,0 -1,0.2 -1-0.1 -1,0.4 -1,0.7 -1,0.4 -1-0.1 -1-0.3 -1,0 -1-0.4 -1-0.3 -1,0.8 -1,0.2 -1-0.2 -1-0.8 -1-0.4 -1,0.4 -1,0.2 -1-0.1 -1-0.4 -1-0.3 -1,0.1 -1,0.4 -1,0.2 -1,0.4 -1,0.4 -1,0 -1,0.4 -1,0.6 -1,0.1 -1-0.3 -1-0.5 -1-0.8 -1-0.6 -1,0.4 -1,0.4 -1,0 -1,0.4 -1,0.6 -1,0 -1-0.3 -1-0.5 -1-0.4 -1-0.8 -1-0.2 -1,0.1 -1,0.9 -1,0.6 -1,0 -1-0.3 -1-0.3 -1,0.5 -1,0 -1-0.4 -1,0.8 -1,0.3 -1-0.1 -1-0.7 -1-1 -1-0.2 -1,0.1 -1-0.4 -1,0.4 -1,0.1 -1-0.3 -1,0.2 -1,0.2 -1,0.5 -1,0.1 -1-0.3 -1-0.2 -1,0.4 -1-0.1 -1-0.5 -1,0.1 -1,0.1 -1-0.4 -1,0.1 -1-0.3 -1-0.1 -1,0 -1,0.4 -1,0.6 -1,0.2 -1-0.3 -1-1 -1,0.6 -1,0 -1,0.4 -1,0.3 -1-0.2 -1-0.7 -1,0 -1-0.3 -1-1 -1,0 -1,0.2 -1,0.1 -1-0.2 -1-0.5 -1,0.7 -1,0.3 -1,0.2 -1-0.2 -1-0.8 -1-0.8 -1-0.9 -1-0.1 -1,0.1 -1-0.2 -1-0.3 -1,0.5 -1,0 -1-0.4 -1,0.5 -1,0.2 -1-0.3 -1-0.8 -1-1.3 -1,0.3 -1-0.2 -1-0.7 -1-0.1 -1,0.8 -1,0.9 -1,0.2 -1,0.1 -1,0.2 -1-0.3 -1-0.9z"/>
<path fill="#4E8F32" d="M114,313l1-1.4 1-0.4 1,0 1,0.5 1,1 1-0.5 1-0.3 1,0.1 1,0.7 1-0.2 1-0.2 1,0.1 1,0.7 1,0.4 1-0.5 1,0 1,0.4 1,0.3 1-0.2 1-0.1 1-0.1 1,0.1 1-0.2 1,0.2 1,0.4 1,0.4 1-0.2 1,0.2 1,0.2 1-0.1 1,0 1,0.2 1-0.7 1-0.1 1,0 1-0.7 1-0.2 1,0.2 1,0.7 1-0.2 1-0.8 1-0.2 1,0.2 1,0.3 1,0.1 1-0.9 1-0.2 1,0.2 1,0.7 1-0.1 1-0.1 1,0.4 1,1.1 1,0 1,0 1-0.8 1-0.2 1,0.2 1-0.1 1,0.1 1,0.5 1-0.1 1,0 1,0.5 1-0.5 1-0.4 1-0.5 1-0.8 1-0.4 1,0.1 1,0.6 1,1.5 1-0.5 1-0.1 1,0.3 1,0.8 1-0.4 1-0.3 1-0.3 1-0.2 1,0.1 1-0.7 1-0.2 1,0.2 1,0.7 1-1 1-0.5 1-0.1 1,0.4 1,0.6 1-0.5 1,0 1,0.5 1,0.4 1,0 1,0.2 1,0.2 1,0 1-0.6 1-0.9 1-0.3 1,0.2 1,0.7 1,1.7 1,0 1-0.7 1-0.6 1-0.1 1,0.4 1,0.6 1-0.1 1-0.4 1,0 1,0.4 1,0.2 1-0.1 1-0.3 1,0.1 1,0.4 1,0.2 1-0.8 1-0.6 1-0.5 1,0 1,0.4 1,0.8 1-1.4 1-0.4 1,0 1,0.5 1,0.7 1,0 1-0.4 1-1.1 1-0.4 1,0.1 1,0.6 1,2.3 1-0.6 1-0.2 1-0.5 1,0 1,0.4 1,1.2 1,0 1,0 1-0.2 1,0 1,0.2 1-0.3 1-0.6 1-0.2 1,0.3 1,0.4 1-0.1 1-0.1 1,0.3 1-0.2 1,0 1,0.2 1,0.2 1-0.8 1-0.3 1,0.1 1-0.1 1-0.3 1,0.1 1,0.6 1,0.2 1,0.8 1-0.3 1-0.5 1,0 1,0.2 1,0 1-0.3 1,0.1 1,0.5 1,0 1,0 1-0.5 1,0 1,0.4 1-0.4 1-1.2 1-0.4 1,0.1 1,0.6 1,1.1 1,0.5 1-0.3 1-0.1 1-0.2 1-0.1 1-0.1 1,0 1-0.3 1-0.2 1-0.3 1,0.1 1,0.2 1-1.4 1-0.4 1,0.1 1,0.5 1,0.2 1-0.2 1,0 1,0.3 1,0.4 1,0.1 1,0.4 1-0.2 1,0.2 1,0.7 1-0.3 1-0.1 1,0.4 1,0 1-0.1 1,0.4 1-0.4 1-0.3 1,0.1 1,0 1,0 1,0 1,0 1,0.2 1-0.5 1-0.5 1-0.3 1,0.2 1,0.6 1-0.5 1-0.4 1,0 1,0.5 1-0.1 1-0.6 1-0.3 1,0.1 1,0.7 1,1.3 1-2.4 1-0.5 1,0 1-0.3 1-0.1 1,0.3 1,1.2 1,0.1 1,0.1 1,0 1-0.3 1,0.1 1-0.6 1-0.3 1,0 1,0.6 1,1.7 1-0.8 1-1.1 1-0.4 1,0 1,0.4 1,1.4 1-0.2 1-0.6 1-0.1 1,0.4 1,1 1,0 1,0.3 1,0.3 1-0.3 1-0.6 1-0.2 1,0.3 1,0.5 1,0.1 1-0.4 1,0.1 1-0.2 1,0 1-1.7 1-0.8 1-0.2 1,0.2 1,0.8 1,1.1 1-0.3 1-0.2 1,0.1 1-1 1-0.4 1,0.1 1,0.5 1,3.1 1,0.2 1-1.4 1-0.3 1,0 1,0.5 1,0.2 1-1.8 1-0.7 1-0.1 1,0.3 1,1 1,1.2 1-1.7 1-0.5 1,0 1,0.5 1,0.2 1,0.3 1-0.9 1-0.6 1-0.2 1,0.3 1,1 1,0.7 1,0.3 1,0.4 1,0 1,0.4 1,0.1 1,0.1 1,0 1-0.2 1,0.1 1-0.5 1-0.3 1,0.1 1,0.6 1-1.3 1-0.8 1-0.2 1,0.2 1,0.8 1,0.7 1,0.2 1,0 1,0.5 1,0.1 1-0.3 1,0 1,0.4 1-0.9 1-0.5 1-0.1 1,0.3 1,0.1 1-0.2 1-0.1 1,0.2 1-0.1 1-0.5 1-0.1 1,0.3 1,1.2 1-0.3 1,0 1-1.1 1-0.7 1-0.2 1,0.3 1,0.5 1,0.5 1-0.1 1,0 1-0.4 1-0.2 1,0.1 1,0.7 1,0 1-0.1 1,0 1-0.4 1,0 1,0.3 1,0.3 1-0.8 1-0.7 1-0.1 1,0.3 1,1 1,0.9 1,0.1 1,0.1 1,0.1 1-0.5 1-0.2 1,0 1,0.4 1-0.4 1-0.3 1,0.2 1,0.3 1-0.1 1-0.4 1-0.5 1,0 1,0.5 1,0.5 1-0.1 1-0.7 1-0.6 1-1.1 1-0.4 1,0.1 1,0.6 1,0.6 1,1 1,0 1,0.1 1-0.5 1-1.1 1-0.4 1,0.1 1,0.6 1,0.1 1-0.9 1-0.2 1,0.1 1,0.8 1,2.5 1-0.6 1-0.3 1,0.2 1,0.1 1-0.9 1-0.2 1,0.2 1,0.3 1-0.8 1-0.2 1,0.2 1,0.8 1-0.1 1,0.1 1-0.5 1-0.2 1,0.2 1,0.5 1,0 1,0.5 1,0.3 1,0.2 1,0 1-0.4 1-0.1 1,0.3 1-0.5 1,0 1,0.1 1,0 1,0.2 1,0.4 1-0.4 1-0.7 1-0.2 1,0.3 1,0.5 1,0.2 1-0.3 1,0 1,0.4 1,0 1,0 1-0.4 1-0.1 1,0.3 1,0.6 1-0.2 1,0 1-0.2 1,0 1,0.3 1-0.4 1-0.3 1,0 1-0.3 1-0.8 1-0.2 1,0.2 1,0.8 1,1 1,0.1 1,0.3 1-0.2 1,0.2 1-0.2 1-0.5 1,0 1,0 1,0.2 1,0.1 1-0.4 1-0.1 1-1.2 1-0.4 1,0 1,0.5 1-0.1 1-0.3 1-0.1 1-0.8 1-0.2 1,0.2 1,0.8 1,1.5 1,0.1 1,0 1-0.3 1-0.6 1-0.1 1-0.1 1,0 1,0.4 1,1.1 1,0.1 1-0.4 1-0.4 1-0.2 1,0.2 1,0.1 1-0.4 1,0 1,0.2 1-0.7 1-0.1 1,0.3 1-0.2 1-0.2 1,0.1 1,0.2 1-0.9 1-0.5 1,0 1,0.4 1,1.4 1,0.1 1-0.6 1-0.1 1,0.4 1-0.9 1-0.7 1-0.2 1,0.3 1,0.9 1,0.6 1,0.7 1,1 1-0.1 1,0.2 1,0.4 1,0 1-0.8 1-0.9 1-0.3 1,0.1 1,0.7 1,0.4 1-1.5 1-0.5 1,0 1,0.4 1,0.9 1,0.1 1,0 1,0.3 1-0.2 1,0 1,0 1,0.3 1,0.2 1-0.1 1-0.2 1-0.6 1-0.1 1,0.4 1,0.3 1-0.5 1,0 1,0.2 1-0.3 1,0.1 1,0.1 1-0.5 1-0.1 1-0.2 1,0.1 1,0 1,0.2 1,0.4 1-0.5 1-0.3 1,0.2 1,0.6 1,0.3 1,0.3 1-0.4 1-0.4 1,0 1,0.4 1,0.2 1-1.9 1-0.9 1-0.3 1,0.2 1,0.7 1,2.1 1-0.3 1-0.6 1-0.1 1-0.3 1-0.1 1,0.2 1,0.2 1-0.2 1,0.3 1-1 1-0.7 1-0.1 1,0.3 1,1 1,2.2 1-0.3 1-0.1 1-0.1 1-0.9 1-0.3 1,0.1 1,0.6 1,0 1,0 1,0 1-0.3 1-0.2 1,0 1,0.4 1,0.1 1-1.4 1-0.6 1-0.2 1,0.3 1,1 1,0.7 1-0.6 1-0.6 1-0.1 1,0.2 1,0.3 1,0.3 1,0.9 1-0.4 1-0.4 1,0.1 1,0.2 1-0.6 1-0.1 1,0.4 1,1.1 1-0.2 1,0.2 1-0.1 1-0.3 1-0.4 1,0 1,0.4 1,0.1 1-0.7 1-0.2 1,0.2 1,0.4 1-0.5 1-0.9 1-0.2 1,0.2 1,0.7 1-0.3 1-0.2 1,0 1-0.1 1,0.3 1,0.5 1-0.1 1,0.3 1,0.1 1,0.6 1-0.3 1-0.1 1,0.2 1-0.2 1-0.2 1,0.1 1,0.2 1-0.6 1-0.2 1,0.1 1,0.7 1-0.5 1-0.7 1-0.1 1,0.2 1,0.9 1,0.1 1-0.9 1-0.4 1,0.1 1,0 1-1 1-0.3 1,0.1 1,0.6 1,1.9 1-1.8 1-0.5 1,0 1,0.4 1,0.8 1,0.4 1,0.5 1-0.2 1-0.6 1-0.4 1,0 1-0.7 1-0.4 1,0 1,0.5 1,0.9 1-0.2 1-0.2 1,0.2 1,0.6 1,0.7 1-0.2 1-0.2 1-0.3 1,0 1-0.1 1,0 1,0.4 1,0.2 1-0.8 1-0.3 1,0.2 1,0.7 1-0.2 1-0.2 1,0.2 1,0.8 1-0.3 1,0.1 1,0.1 1,0.1 1-1.9 1-0.5 1-0.1 1,0.3 1,1 1,0.2 1-0.8 1-0.6 1-0.1 1,0.4 1,0.9 1,0.5 1-0.1 1-0.1 1-0.2 1,0.2 1-1.6 1-1 1-0.3 1,0.2 1,0.6 1,1.6 1-0.3 1-0.5 1-0.1 1,0.3 1-0.7 1-0.2 1,0.3 1,0.9 1,0.6 1-0.5 1-0.1 1,0.1 1,0.4 1,0.6 1,0.2 1-1 1-0.3 1,0.1 1,0.5 1,0.5 1-0.3 1-0.8 1-0.5 1-0.1 1,0.4 1,1.1 1-0.2 1,0.3 1-0.2 1-0.6 1-0.1 1-0.2 1,0.2 1,0 1-0.1 1-0.1 1-0.1 1,0.3 1,1 1-1.3 1-0.7 1-0.1 1,0.2 1,0.9 1,1 1,0.1 1-0.6 1-0.3 1,0.1 1-0.4 1-0.3 1,0.1 1,0.7 1,0.8 1-0.3 1-0.7 1-0.5 1,0 1,0.3 1,0.3 1-0.6 1-0.6 1,0 1,0.4 1,1.4 1,0.6 1-0.5 1-0.3 1,0 1-0.5 1-0.1 1-0.1 1,0.2 1-0.3 1-0.4 1,0 1,0.4 1,0.7 1,0.4 1,0.3 1-0.7 1-0.3 1,0 1-0.7 1-0.1 1,0.3 1,0.2 1,0.4 1,0 1,0.4 1-0.6 1-0.2 1-0.1 1,0.1 1,0.6 1,0.1 1-0.9 1-0.7 1-0.1 1,0.2 1,0.5 1-0.3 1-0.1 1,0.3 1,0 1,0 1-0.5 1-0.1 1,0.4 1,0.7 1,0 1-0.1 1-1 1-0.3 1,0.1 1-0.9 1-0.3 1,0.2 1,0.6 1,2 1,0.8 1,0.4 0,5.2 -1,0.6 -1,2.2 -1,0.5 -1,0.1 -1-0.4 -1-1.4 -1-0.5 -1-0.5 -1,2.7 -1,0.5 -1,0 -1-0.5 -1-1.4 -1,0 -1-0.5 -1-1.4 -1-0.2 -1,1.1 -1,0.9 -1,0.3 -1-0.2 -1-0.3 -1-0.2 -1-0.2 -1,0.1 -1,0.6 -1,0.1 -1-0.4 -1-0.6 -1,0.7 -1,0.4 -1,0 -1,1.8 -1,0.4 -1,0 -1-0.4 -1-1.9 -1,0.5 -1,0.1 -1-0.3 -1-0.5 -1-0.1 -1,0 -1-0.2 -1-0.6 -1-0.4 -1,1.2 -1,0.7 -1,0.2 -1-0.3 -1-0.9 -1-0.6 -1-0.1 -1,0.3 -1,0.5 -1,0.3 -1-0.2 -1-0.3 -1-0.5 -1,0.4 -1,2 -1,0.6 -1,0 -1-0.3 -1-1.2 -1-1.2 -1,0.1 -1,0.6 -1,0 -1-0.3 -1-0.8 -1,0 -1,0.1 -1,1.8 -1,0.5 -1,0 -1-0.3 -1-0.5 -1-0.2 -1,0.9 -1,0.3 -1,0 -1-0.4 -1-0.9 -1,0.4 -1,0 -1,1.3 -1,0.4 -1,0 -1-0.4 -1-1.4 -1-0.3 -1-0.9 -1-0.3 -1,0.4 -1,0.1 -1-0.3 -1,0 -1,0.9 -1,0.8 -1,0.3 -1-0.2 -1-0.7 -1-0.3 -1,0.4 -1,0 -1,0.5 -1,0.1 -1-0.3 -1-1.2 -1-0.5 -1,0.4 -1,0.3 -1,0.1 -1-0.3 -1-0.3 -1,1 -1,0.3 -1-0.1 -1,0.3 -1,1.3 -1,0.4 -1,0 -1-0.5 -1-0.3 -1,0.7 -1,0.2 -1-0.3 -1-0.9 -1-1.3 -1,0.2 -1,0 -1-0.1 -1-0.4 -1,0.2 -1,0.6 -1,0.1 -1,0.4 -1,0.3 -1-0.1 -1-0.2 -1,0 -1-0.4 -1-0.1 -1,0.3 -1-0.1 -1-0.1 -1,0.3 -1-0.1 -1-0.4 -1-0.4 -1,0.1 -1,0 -1,0.7 -1,0.3 -1-0.2 -1-0.3 -1,0.2 -1-0.3 -1,0.5 -1,0.2 -1-0.2 -1-0.1 -1-0.4 -1-0.1 -1-0.6 -1,0.3 -1-0.1 -1-0.5 -1,0 -1,0.1 -1-0.2 -1,0.2 -1,0.3 -1,0.3 -1-0.2 -1-0.5 -1,0.1 -1-0.4 -1,0.3 -1,0.2 -1-0.3 -1-0.5 -1,0 -1-0.3 -1,0.8 -1,0.3 -1,0.1 -1,0.5 -1,0 -1-0.4 -1,0.9 -1,0.9 -1,0.3 -1-0.2 -1-0.7 -1-0.6 -1,0.1 -1,1.4 -1,0.4 -1-0.1 -1-0.1 -1-0.4 -1-1.4 -1,0.1 -1,0.8 -1,0.2 -1-0.2 -1-0.8 -1-0.6 -1,0.4 -1,0 -1-0.4 -1-0.8 -1,0.3 -1,1.5 -1,0.6 -1,0.1 -1-0.3 -1-1 -1-0.6 -1-0.1 -1,0.2 -1,0.2 -1-0.1 -1-0.5 -1,0.5 -1,0.7 -1,0.1 -1-0.2 -1-0.5 -1,0.6 -1,0.4 -1,0.2 -1-0.2 -1-0.8 -1,1.1 -1,0.4 -1,0 -1-0.4 -1-1.7 -1,1.1 -1,0.3 -1-0.1 -1,0 -1,0.4 -1,0.1 -1,0.5 -1,0.5 -1,0.1 -1-0.4 -1-1.4 -1,0 -1,0.4 -1,0.1 -1-0.4 -1-0.8 -1,0.4 -1-0.1 -1-0.2 -1-0.1 -1,1.5 -1,1.2 -1,0.3 -1,0 -1-0.6 -1-1 -1-0.2 -1-0.7 -1-0.1 -1-0.1 -1,0.7 -1,0.3 -1,0.1 -1,0.3 -1-0.2 -1-0.6 -1-0.2 -1,0.2 -1,0 -1-0.2 -1-0.3 -1-0.1 -1,0.2 -1,0.2 -1,0.2 -1,0.2 -1-0.3 -1-0.7 -1,1 -1,0.4 -1-0.1 -1-0.6 -1,0 -1-0.2 -1,0.3 -1,0.2 -1-0.2 -1-0.8 -1,1.1 -1,0.6 -1,0.2 -1-0.3 -1-1 -1-0.4 -1,0.1 -1-0.3 -1-0.4 -1,0.3 -1,0.1 -1,0.3 -1-0.2 -1,0.2 -1-0.2 -1-0.4 -1,0.8 -1,0.8 -1,0.2 -1-0.2 -1-0.3 -1,0 -1-0.5 -1-0.9 -1,0.4 -1,0.9 -1,0.3 -1-0.2 -1-0.7 -1-0.9 -1,0.9 -1,0.9 -1,0.3 -1-0.2 -1-0.1 -1,1.2 -1,0.3 -1-0.1 -1-0.5 -1-1.7 -1,0.3 -1-0.1 -1,0.1 -1,0.4 -1,0 -1,0.4 -1,1.4 -1,0.4 -1-0.1 -1-0.5 -1-0.5 -1-0.9 -1-1.5 -1-0.1 -1,0 -1,0.3 -1,0.2 -1,0.2 -1,0.2 -1,0 -1,1 -1,0.3 -1-0.1 -1-0.6 -1,0.3 -1,0.5 -1,0.1 -1-0.3 -1-0.9 -1,0.4 -1-0.1 -1-0.6 -1,0 -1-0.3 -1,0.5 -1,0.7 -1,0.2 -1,0.6 -1,0.5 -1,0.1 -1-0.4 -1-1.2 -1-0.5 -1-0.4 -1,0.1 -1-0.4 -1,0.1 -1,0.1 -1,0.2 -1,0.1 -1-0.3 -1-0.2 -1-0.4 -1-0.3 -1,0.4 -1,0.1 -1-0.1 -1,0.1 -1,0.1 -1,0.1 -1,0.4 -1,0 -1-0.3 -1,0.9 -1,0.2 -1-0.1 -1-0.1 -1,0.6 -1,0.1 -1-0.4 -1-0.5 -1,0.1 -1,0.3 -1,0.4 -1,0 -1-0.5 -1-0.7 -1,0.3 -1,0.6 -1,0.5 -1,0.7 -1,0.6 -1,0.1 -1-0.3 -1-1 -1-1.7 -1,0.3 -1-0.1 -1-0.1 -1,0.5 -1,0.3 -1,0.3 -1-0.2 -1,0.8 -1,0.7 -1,0.3 -1-0.3 -1-0.7 -1-2.2 -1-0.3 -1,0 -1,0.3 -1,0.2 -1,0 -1-0.2 -1-0.7 -1,0.1 -1,0.6 -1,0.4 -1,0 -1,0.3 -1,0 -1-0.3 -1,0.1 -1,0.1 -1-0.4 -1,0.1 -1-0.2 -1-0.7 -1,0.6 -1,0.3 -1,0 -1-0.3 -1-0.5 -1,0.3 -1,0.7 -1,0.7 -1,0.6 -1,0.2 -1,0.5 -1,0 -1-0.5 -1-2 -1,0.2 -1,0.3 -1,0.5 -1,0 -1-0.3 -1,0.2 -1,1.1 -1,1 -1,0.3 -1-0.1 -1-0.6 -1-3.5 -1,0 -1,1 -1,0.5 -1,0 -1,0.3 -1,0 -1-0.6 -1,0 -1,0.2 -1,0.2 -1,0.3 -1,0 -1-0.4 -1,0.5 -1,0 -1,0 -1,0 -1-0.1 -1,0.1 -1-0.3 -1,0.6 -1,0.4 -1,0 -1-0.5 -1,0.1 -1,0 -1-0.3 -1-0.5 -1,0.1 -1-0.1 -1,0.6 -1,0.1 -1-0.4 -1-0.3 -1-0.1 -1-0.2 -1-0.6 -1,0.6 -1,1.3 -1,0.4 -1,0 -1-0.5 -1-0.4 -1-0.1 -1,0.7 -1,0.1 -1-0.3 -1-0.5 -1,0.1 -1-0.3 -1-0.6 -1,0 -1,0.8 -1,0.4 -1,0 -1-0.4 -1-1.1 -1-0.1 -1,1.6 -1,1.4 -1,0.4 -1-0.1 -1-0.5 -1-1.5 -1-0.4 -1-0.7 -1-0.3 -1-0.1 -1,1.4 -1,0.4 -1-0.1 -1-0.4 -1,0.4 -1,0.3 -1-0.1 -1,0 -1,0.3 -1-0.3 -1-0.7 -1,0.7 -1,0.3 -1,0.2 -1-0.1 -1-0.3 -1,0.4 -1,0.4 -1,0.4 -1,0 -1-0.4 -1-2.2 -1,0.8 -1,0.2 -1-0.2 -1-0.1 -1-0.2 -1,1.1 -1,0.6 -1,0 -1-0.3 -1-1 -1-0.3 -1,0 -1,1.7 -1,0.7 -1,0.2 -1-0.3 -1-0.9 -1-0.7 -1-0.8 -1-0.7 -1,0.7 -1,0.8 -1,0.2 -1-0.2 -1-0.6 -1-0.2 -1,0.5 -1,0.3 -1,0.3 -1-0.1 -1-0.3 -1,0.4 -1-0.1 -1-0.6 -1-0.3 -1-0.2 -1,0.4 -1,0.3 -1,0.5 -1,0.1 -1-0.3 -1-0.1 -1,0.1 -1-0.3 -1-0.4 -1,0.1 -1-0.3 -1-0.7 -1,0.4 -1,1.2 -1,0.9 -1,0.2 -1-0.2 -1-0.7 -1,0 -1-0.3 -1-0.8 -1-0.8 -1-0.4 -1,1.4 -1,0.4 -1,0 -1-0.5 -1,0.8 -1,0.3 -1,0 -1-0.6 -1-0.8 -1,0 -1,0.1 -1,0 -1-0.5 -1,2.4 -1,0.5 -1,0 -1-0.4 -1-1.4 -1,0.3 -1,0.7 -1,0.5 -1,0.1 -1-0.4 -1-0.5 -1-0.6 -1,0 -1-0.4 -1-0.1 -1,0.2 -1-0.2 -1-0.3 -1,0.1 -1-0.3 -1,0.2 -1,0 -1,0.1 -1,0.2 -1-0.2 -1,0.2 -1-0.1 -1-0.2 -1,0.5 -1,0.6 -1,0.2 -1-0.3 -1-0.5 -1,0.6 -1,0.2 -1-0.2 -1-0.8 -1-0.7 -1,0.2 -1-0.1 -1-0.6 -1-0.1 -1,1.1 -1,0.5 -1,0 -1-0.4 -1-0.3 -1,0.6 -1,0.2 -1-0.3 -1,0.9 -1,0.3 -1-0.2 -1-0.7 -1-0.7 -1,0.2 -1,0.4 -1,0 -1,0 -1-0.5 -1-0.1 -1-0.2 -1,0.1 -1,0.3 -1,0.3 -1,0.7 -1,0.1 -1-0.3 -1-1 -1,1.2 -1,0.7 -1,0.2 -1-0.3 -1-0.9 -1,0.4 -1,0.1 -1-0.3 -1-0.9 -1,0.3 -1,0.1 -1-0.1 -1,0.6 -1,0.1 -1,0.1 -1,0.2 -1,0.4 -1-0.1 -1-0.6 -1-1.4 -1-0.4 -1,0 -1-0.1 -1,0.4 -1,0.4 -1,0.2 -1-0.2 -1-0.3 -1,0.4 -1,0.3 -1-0.2 -1-0.1 -1-0.2 -1,0.2 -1,0.2 -1,0.2 -1-0.3 -1-0.3 -1-0.2 -1,0.8 -1,0.2 -1-0.2 -1,0.6 -1,0.2 -1-0.2 -1-0.4 -1,0.1 -1-0.4 -1-0.8 -1,0.4 -1,0.5 -1,0 -1,0.2 -1-0.1 -1,0.1 -1,0.1 -1-0.2 -1,0.4 -1,0 -1-0.3 -1,0 -1-0.2 -1-0.6 -1,0.2 -1-0.1 -1,0.3 -1,0.1 -1,0.6 -1,0.3 -1-0.1 -1-0.3 -1,0 -1-0.4 -1-0.7 -1-0.2 -1,1.5 -1,0.5 -1,0 -1-0.4 -1-0.4 -1-0.5 -1-0.9 -1,0.5 -1,0.4 -1,0 -1-0.1 -1,0.5 -1,0 -1-0.2 -1-0.1 -1-0.5 -1-0.8 -1,2.2 -1,1.1 -1,0.4 -1-0.1 -1-0.6 -1-2.3 -1-0.5 -1,0 -1-0.1 -1,1.9 -1,0.6 -1,0.1 -1-0.4 -1-1.1 -1-1.5 -1-0.1 -1,0.8 -1,0.7 -1,0.4 -1,0 -1-0.4 -1-0.6 -1-0.5 -1,0.4 -1,0.3 -1,0 -1-0.2 -1-0.1 -1,1.8 -1,0.5 -1,0.1 -1-0.4 -1-1.4 -1-0.3 -1,0 -1,0 -1,2.5 -1,0.6 -1,0 -1-0.3 -1-1.2 -1-0.8 -1-0.2 -1,1 -1,0.5 -1,0 -1-0.4 -1-1.3 -1-0.3 -1,0 -1-0.2 -1-0.1 -1-0.1 -1-0.2 -1,0.7 -1,0.1 -1,0 -1,0.3 -1,0 -1,0 -1,1.2 -1,1.1 -1,0.4 -1-0.1 -1-0.6 -1-0.5 -1-0.3 -1-1.2 -1-0.2 -1,0.2 -1,0.4 -1-0.1 -1-0.5 -1-0.4 -1,0 -1,1.8 -1,0.5 -1,0.1 -1-0.3 -1,0.1 -1,0.1 -1-0.3 -1-1.2 -1-1.1 -1-0.1 -1,0.1 -1,0.4 -1,0.2 -1-0.3 -1-0.3 -1-0.3 -1-0.1 -1-0.3 -1-1.1 -1-0.4 -1-0.5z"/>
<path fill="#2B4A94" d="M114,307.8l1-0.4 1,0 1,0.2 1,0 1,0.1 1,0.4 1,0.6 1,0.6 1,0.7 1-0.3 1-0.2 1,0.2 1,0.7 1,0.5 1,0.4 1-0.1 1-0.1 1-0.2 1,0.2 1,0.2 1,0.3 1-0.3 1-0.4 1,0.1 1,0.5 1,1.7 1-0.1 1,0 1,0.2 1-0.8 1-0.7 1-0.1 1,0.3 1,0.7 1,0.5 1-0.4 1-0.9 1-0.3 1,0.2 1,0.7 1,1.3 1,0.3 1,0 1-0.2 1-0.2 1-0.2 1,0.1 1-0.7 1-0.3 1-0.1 1-0.1 1-0.1 1-0.8 1-0.2 1,0.2 1,0.3 1,0.3 1,1 1,0.7 1-1.9 1-0.4 1,0 1,0.4 1,1.3 1-0.1 1,0.2 1,0.5 1-0.4 1,0 1,0.5 1-1 1-0.5 1-0.1 1,0.4 1,0.5 1,0.7 1-0.2 1-0.5 1-0.1 1,0.3 1,0.3 1,0.8 1-0.6 1-0.2 1,0.2 1,0.2 1,0.1 1,0 1,0.4 1-0.1 1-0.9 1-0.3 1,0.2 1,0.7 1,0.6 1,0 1-0.5 1-1.5 1-0.5 1,0 1,0.3 1,1.4 1,0.7 1-0.8 1-0.2 1,0.2 1,0.8 1-0.1 1-0.5 1-0.1 1-1.9 1-0.5 1,0 1,0.5 1,1.4 1,0.1 1,0.3 1,0.1 1-0.1 1-0.5 1,0 1,0.4 1,0.3 1-0.5 1,0 1,0.4 1,0.1 1-0.1 1,0.1 1,0.1 1-0.2 1,0.1 1,0.2 1,0.2 1-0.1 1-1.6 1-0.6 1-0.1 1,0.2 1,0.5 1-0.3 1-0.2 1,0.3 1,0.9 1,0.5 1,0 1-0.5 1,0 1,0.4 1,1 1-0.4 1-0.7 1-0.3 1,0.1 1,0.5 1,1.1 1-0.8 1-0.6 1-1.6 1-0.5 1,0 1,0.5 1,2.6 1,0.8 1,0.3 1-0.5 1-0.9 1-0.5 1,0 1-0.1 1-0.2 1,0.2 1,0.1 1,0 1,0.2 1-0.3 1,0.2 1,0.7 1-0.5 1-0.7 1-0.5 1,0 1,0.5 1,1.2 1-0.2 1-0.1 1,0.4 1,0.2 1-1 1-0.5 1,0 1,0.5 1,1.1 1-0.4 1-0.5 1-0.2 1,0.3 1-0.1 1,0.3 1-0.1 1-0.1 1-0.2 1,0.3 1,0.4 1-1 1-0.4 1,0.1 1-0.9 1-0.3 1,0.2 1,0.7 1,0.8 1-0.1 1,0 1,0.4 1,0.6 1-0.4 1,0 1-0.2 1-0.2 1,0.3 1,0.3 1,0.1 1,0 1,0.3 1,0 1-0.4 1-0.7 1-0.2 1,0.2 1,0.3 1-0.4 1-0.2 1,0 1,0.3 1,1.2 1,0.2 1,0 1-0.5 1-0.7 1-0.2 1-0.2 1,0.1 1,0.5 1,0.1 1-0.3 1,0.1 1,0 1,0.4 1,0.4 1-0.7 1-0.3 1,0.1 1,0.5 1,0.3 1-0.4 1-0.1 1-0.2 1-0.9 1-0.3 1,0.2 1,0.7 1,0.8 1-0.2 1,0.2 1,0.4 1-0.2 1-0.3 1,0 1,0 1,0.2 1,0.4 1-0.1 1-0.2 1-0.1 1,0.3 1,0.1 1-0.2 1,0.2 1-0.3 1-0.3 1,0.2 1,0 1-0.2 1-0.8 1-0.3 1,0.1 1,0.5 1,0.1 1-0.4 1-0.2 1,0.2 1,0.4 1-0.8 1-0.9 1-0.3 1,0.2 1,0.7 1,0.2 1,0.1 1,0.1 1,0 1,0.5 1,0.2 1-0.3 1-0.5 1-0.1 1,0.4 1,1.3 1-0.8 1-0.7 1-0.2 1-0.3 1,0 1,0.4 1,0.9 1-0.3 1-0.7 1-0.2 1,0.3 1,0.3 1-0.3 1-0.8 1-0.2 1,0.2 1,0.2 1,0.1 1,0.7 1,0.4 1-0.2 1-1.4 1-1.1 1-0.4 1,0.1 1,0.6 1,2.1 1,0.5 1,0.7 1,0.1 1-0.1 1,0.2 1-0.4 1-0.1 1,0 1-1 1-0.3 1,0.1 1,0.7 1,0.2 1,0.2 1,0.6 1,0.1 1-0.3 1-0.7 1-0.1 1-0.1 1-1 1-0.3 1,0.1 1,0.6 1,1.1 1,0.1 1-0.3 1-0.4 1,0 1-0.4 1-0.6 1-0.1 1,0.3 1,1 1,0.7 1,0.2 1-0.5 1,0 1,0 1-0.1 1-1 1-0.7 1-0.2 1,0.3 1,0.9 1,0.8 1-0.6 1-0.1 1,0.4 1-0.5 1-0.3 1-0.7 1-0.1 1,0.3 1,1 1,0.9 1,0.4 1,0 1,0.1 1-0.4 1-0.3 1,0 1-1.4 1-0.4 1,0 1,0.4 1,1.4 1,0 1-0.7 1-0.2 1,0.3 1-0.6 1-0.2 1,0.3 1-0.1 1-0.3 1,0.2 1,0.6 1,0.3 1,0.2 1-0.1 1,0.2 1,0.2 1-1.8 1-0.4 1,0 1,0.4 1,1.3 1,0.1 1-0.3 1-0.4 1-0.2 1,0.1 1,0.6 1,0.1 1,0.1 1,0 1,0 1-0.1 1,0.2 1-0.2 1-0.4 1-0.1 1-0.4 1-1.1 1-0.3 1,0.2 1,0.6 1-0.2 1-0.6 1-0.1 1,0.4 1,0.2 1-0.1 1,0.4 1,1.1 1,0.2 1-0.4 1,0 1,0.4 1,0.4 1-0.1 1-0.6 1-0.3 1,0.1 1,0.5 1-0.2 1-0.1 1,0.3 1,0.7 1-0.6 1-0.5 1,0 1,0.4 1,1.2 1,0 1-1 1-0.5 1,0 1,0.3 1,0.1 1-0.2 1-0.3 1,0.2 1,0 1-0.3 1,0.2 1,0.4 1,0.5 1-0.1 1,0 1-0.3 1-0.1 1-0.3 1,0.1 1,0.6 1-0.3 1-0.2 1,0.2 1-0.7 1-0.1 1-0.1 1-0.1 1,0.4 1-0.1 1-0.3 1,0.1 1,0.7 1-0.6 1-0.3 1,0.2 1,0.1 1-0.4 1,0 1,0.2 1,0.8 1,0.5 1-0.5 1,0 1,0.1 1,0 1-0.1 1-0.4 1,0.1 1,0.5 1,0 1,0.3 1,0.3 1-0.2 1-0.1 1-0.3 1-0.7 1-0.2 1,0.3 1,0.1 1-0.1 1-0.3 1,0.2 1,0.5 1-0.2 1,0.3 1-1.6 1-0.8 1-0.2 1,0.2 1,0.8 1,1.5 1-0.9 1-0.2 1,0.1 1,0.1 1-0.4 1,0 1,0.2 1-0.3 1,0.2 1,0.5 1,0.4 1,0 1,0.2 1,0 1-0.7 1-0.1 1,0 1,0.2 1,0.1 1-0.2 1,0.1 1,0.3 1-0.4 1,0.1 1,0.2 1-0.2 1,0.1 1,0.1 1,0.3 1,0.1 1-0.2 1-0.8 1-0.2 1,0.2 1,0.5 1-0.1 1-0.3 1-0.2 1-0.2 1-0.3 1,0.1 1,0.7 1-0.2 1,0.3 1,0.8 1-0.2 1-0.4 1-0.5 1,0 1,0.2 1,0.1 1,0.3 1,1.1 1-0.1 1-0.5 1-0.2 1-0.1 1,0.1 1,0.1 1-0.5 1-0.1 1,0.2 1,0 1,0.5 1-0.2 1-0.1 1,0.4 1-0.1 1,0.3 1-0.2 1-0.6 1,0 1,0.3 1,0.7 1-0.5 1-0.5 1,0 1-0.7 1-0.1 1,0.2 1,0.9 1-1.4 1-0.6 1,0 1,0.3 1,1.2 1,1.2 1-0.2 1-0.8 1-0.4 1,0.1 1,0.1 1,0.1 1-0.3 1,0 1,0.2 1,0.3 1,0.4 1-0.6 1-0.3 1,0.1 1,0.6 1,0.2 1,0.3 1-1.1 1-0.6 1-0.1 1,0.3 1-0.2 1,0.2 1,0.6 1-0.3 1-0.3 1,0.2 1,0.4 1-0.3 1-0.1 1,0.1 1-0.9 1-0.5 1,0 1,0.4 1,1.4 1-0.2 1,0 1-0.2 1-0.9 1-0.2 1,0.1 1,0.7 1,0.8 1,0.5 1-1.4 1-0.6 1-0.1 1,0.4 1,1.1 1,0.8 1-0.3 1-0.2 1-0.3 1-0.3 1,0.1 1-0.7 1-0.9 1-0.3 1,0.2 1,0.6 1,0 1,0.5 1,0.9 1-0.3 1,0.2 1,0.1 1,0.6 1-0.9 1-0.5 1-0.1 1-0.6 1-0.6 1-0.1 1,0.3 1,0.6 1-0.1 1,0.3 1,0.4 1,0.2 1-0.5 1-0.4 1,0 1,0.1 1,0.4 1,0.6 1,0.1 1-0.5 1-0.2 1,0.1 1,0.3 1-0.2 1-0.1 1,0.2 1-1.6 1-0.7 1-0.2 1,0.3 1,0.9 1,0.8 1-0.4 1,0 1,0.5 1-0.1 1-0.5 1,0 1,0.4 1-0.1 1,0 1,0.1 1-0.4 1,0.1 1,0.3 1,0.2 1-0.7 1-0.1 1,0.3 1,0.1 1,0.4 1,0.2 1,0.4 1-2.3 1-0.7 1-0.2 1,0.2 1,0.9 1,1.3 1,0 1,0.5 1-0.3 1,0.1 1-0.3 1,0.1 1,0.2 1,0.3 1-0.4 1-0.2 1,0.2 1,0.6 1-0.9 1-0.4 1,0.1 1,0 1,0.3 1,0.6 1,0.5 1-0.4 1-0.2 1,0 1-0.4 1,0.1 1,0.6 1-0.2 1-0.4 1-0.2 1,0.2 1,0.7 1,0.3 1-0.2 1-0.5 1,0 1,0.5 1,0.4 1,0.2 1-0.1 1,0.2 1-2 1-0.7 1-0.2 1,0.3 1,0.8 1,1 1,0.6 1-0.9 1-0.3 1,0.1 1,0.7 1,0.4 1,0.1 1-0.1 1-0.1 1,0.3 1-0.1 1-0.5 1-0.6 1,0 1,0.3 1,0.1 1,0.2 1-0.1 1,0.2 1,0.1 1-0.1 1,0 1,0.1 1-0.2 1,0.3 1,0.3 1-0.4 1-0.3 1-0.2 1-0.1 1-0.1 1-0.1 1,0.2 1,0.4 1,0.1 1,0.1 1-0.6 1-0.3 1-0.4 1-0.6 1-0.1 1,0.4 1,1.1 1,0.3 1-0.6 1-0.5 1-0.1 1,0.4 1,1.1 1-0.1 1-1.4 1-0.4 1,0 1,0.5 1,0.4 1-0.1 1-0.3 1-0.1 1,0.3 1-0.3 1,0 1,0.4 1,0.2 1,0.4 1,0.1 1-0.6 1-0.1 1,0.3 1-0.3 1-0.2 1-0.7 1-0.2 1,0.3 1,0.9 1-0.4 1-0.6 1-0.1 1,0.4 1,0.1 1,0 1-0.3 1-0.2 1,0.3 1,0.7 1-0.1 1,0.1 1-0.4 1-0.1 1,0.3 1,0.7 1,0.1 1-0.5 1-0.2 1,0.2 1,0.6 1,0 1,0.5 1,0 1,0.2 1,0.3 1,0.7 0,4.2 -1,0.4 -1,0.3 -1,0.7 -1,0.3 -1-0.1 -1,0.1 -1,0.5 -1,0 -1-0.5 -1-0.3 -1,0.2 -1,1.3 -1,0.6 -1,0.1 -1-0.3 -1-1 -1-1.6 -1,0 -1,0.3 -1,0.1 -1-0.3 -1,0.3 -1,0.2 -1-0.3 -1,0.3 -1,0.3 -1-0.2 -1-0.7 -1-0.2 -1,0.3 -1-0.1 -1-0.4 -1,1.5 -1,0.4 -1,0 -1-0.3 -1-0.2 -1-0.2 -1,0.2 -1-0.2 -1,0 -1,0.7 -1,0.6 -1,0.6 -1,0 -1-0.3 -1-1.2 -1-0.4 -1,0.5 -1,0.2 -1-0.1 -1-0.7 -1-0.5 -1,0.4 -1,0.1 -1-0.4 -1,0.2 -1,0.2 -1-0.3 -1-0.5 -1,0.3 -1,0.1 -1,0.7 -1,0.3 -1-0.1 -1-0.3 -1,0.2 -1,0 -1-0.5 -1-0.4 -1,0.8 -1,1 -1,0.3 -1-0.1 -1,0.1 -1-0.2 -1-0.5 -1,0.7 -1,0.2 -1-0.3 -1-0.9 -1-0.6 -1-0.8 -1,0.1 -1,0.6 -1,0.1 -1-0.2 -1,0.9 -1,0.2 -1-0.1 -1-0.4 -1,1.2 -1,0.5 -1,0.1 -1-0.4 -1-1.4 -1-0.9 -1-0.2 -1,2.8 -1,0.5 -1,0 -1-0.5 -1-2.3 -1,0.3 -1,0.2 -1,0.6 -1,0.1 -1-0.2 -1-0.8 -1,0.2 -1-0.3 -1,0 -1,0.3 -1,0.7 -1,0.1 -1-0.2 -1-0.6 -1,0 -1-0.2 -1,0.3 -1-0.3 -1-0.7 -1-0.3 -1,0.1 -1,0 -1,0.3 -1,0.4 -1,0.6 -1,0.5 -1,0.1 -1-0.4 -1-1.4 -1,0.4 -1,0 -1,0.3 -1-0.1 -1-0.5 -1-1 -1,0.1 -1,0.1 -1,0.5 -1,0.1 -1-0.2 -1,0.1 -1-0.3 -1,0.2 -1-0.1 -1,0.2 -1,0.1 -1,1.6 -1,0.5 -1,0 -1-0.5 -1-2 -1-0.7 -1,1.4 -1,0.7 -1,0.4 -1,0 -1-0.2 -1,0.1 -1-0.2 -1-0.2 -1-0.1 -1-0.6 -1-0.2 -1,0.2 -1,0.3 -1,0 -1,0.2 -1,0.2 -1,0.3 -1-0.2 -1-0.6 -1,0.1 -1,0.4 -1,0 -1-0.4 -1,0.1 -1,0.4 -1-0.1 -1-0.6 -1,0.3 -1-0.1 -1,0.1 -1-0.2 -1,0.1 -1-0.3 -1-0.1 -1,0.3 -1-0.1 -1,0.1 -1,0.2 -1-0.3 -1,0.4 -1,0.6 -1,0.1 -1,0.5 -1,0.9 -1,0.3 -1-0.2 -1-0.7 -1-1.8 -1,0.5 -1,0.5 -1,0 -1-0.5 -1,0.6 -1,0.2 -1,0.1 -1-0.3 -1,0 -1,0.2 -1,0.3 -1-0.1 -1-0.3 -1-0.1 -1,0.2 -1-0.1 -1-0.2 -1,0 -1,0.5 -1,0.2 -1-0.3 -1-0.9 -1-0.3 -1,0.5 -1,0.2 -1-0.1 -1-0.1 -1,0.1 -1-0.4 -1-0.1 -1,0.1 -1,0.3 -1-0.1 -1,0.2 -1,0 -1-0.2 -1-0.3 -1,0.3 -1,0.3 -1,0 -1,1 -1,0.5 -1,0.1 -1-0.3 -1-0.9 -1-0.5 -1,0 -1,0.2 -1,0 -1-0.2 -1,0.8 -1,0.2 -1-0.2 -1-0.7 -1,0.3 -1,0.9 -1,0.3 -1-0.2 -1-0.7 -1,0.6 -1,0.2 -1-0.2 -1-0.8 -1-0.7 -1,0.8 -1,0.3 -1-0.2 -1-0.7 -1,0.6 -1,0.2 -1-0.2 -1,0 -1,0 -1-0.2 -1,0 -1-0.4 -1,0.4 -1,0.4 -1,0 -1-0.5 -1,0.3 -1,0.5 -1,0.3 -1-0.2 -1,0.1 -1,0 -1-0.4 -1,0.1 -1,0.1 -1-0.2 -1,1.5 -1,0.6 -1,0.2 -1-0.3 -1-1.1 -1-1.4 -1-0.9 -1,0.1 -1,0.8 -1,0.2 -1-0.2 -1-0.4 -1,0.1 -1,0.1 -1-0.4 -1-0.2 -1,0.1 -1-0.2 -1,0.3 -1,0.1 -1-0.2 -1,0.4 -1,0.3 -1-0.1 -1,0.2 -1,0.9 -1,0.3 -1-0.2 -1-0.7 -1-0.5 -1-0.2 -1-0.4 -1,0.1 -1,0 -1,0.4 -1,0 -1-0.4 -1-0.5 -1,0.2 -1,0.5 -1,0.1 -1-0.4 -1-0.4 -1,0.7 -1,0.2 -1,1.2 -1,0.6 -1,0.2 -1-0.3 -1-1 -1-1.3 -1,0.2 -1,0.4 -1,0.2 -1,0.1 -1,0.6 -1,0.1 -1-0.3 -1-1 -1,0.2 -1,0.7 -1,0.3 -1-0.1 -1-0.7 -1-0.9 -1,2.2 -1,0.5 -1,0 -1-0.4 -1-0.4 -1,0.6 -1,0.1 -1-0.3 -1-1 -1,1.4 -1,0.5 -1,0 -1-0.4 -1-0.7 -1-0.4 -1-0.8 -1,0.3 -1,1.3 -1,1.1 -1,0.4 -1-0.1 -1-0.6 -1-1 -1,0 -1-0.3 -1-0.6 -1,0.3 -1-0.2 -1-0.6 -1-0.4 -1-0.1 -1,0.4 -1,0.3 -1,0 -1,0 -1-0.5 -1-0.6 -1,0.2 -1,1.2 -1,0.6 -1,0.1 -1-0.4 -1-1.1 -1-0.3 -1,0.4 -1,0 -1,0 -1,0 -1,0.1 -1,0.2 -1,0 -1-0.3 -1,1.5 -1,1.3 -1,0.4 -1,0 -1-0.5 -1-2.2 -1,0.2 -1-0.1 -1-0.5 -1,0.2 -1,0.1 -1,0.3 -1,0.5 -1,0.9 -1,0.8 -1,0.2 -1-0.2 -1-0.8 -1-1.9 -1,1 -1,0.6 -1,0.1 -1-0.4 -1-0.6 -1-0.7 -1,0.2 -1-0.3 -1,1.3 -1,0.5 -1,0 -1-0.5 -1-0.6 -1-0.1 -1-0.5 -1,0.4 -1,0 -1-0.1 -1-0.2 -1-0.4 -1,1.3 -1,0.7 -1,0.1 -1-0.3 -1-1 -1-0.6 -1-0.1 -1,0.2 -1,0.4 -1,0.2 -1-0.2 -1-0.7 -1,0.8 -1,0.3 -1-0.1 -1-0.7 -1,0.1 -1,0 -1-0.5 -1,0.3 -1,0.3 -1,0.5 -1,0.1 -1-0.4 -1-0.9 -1-0.4 -1,0.8 -1,0.2 -1,0.3 -1,0.8 -1,0.2 -1-0.2 -1-0.8 -1-0.4 -1,0 -1,0.2 -1-0.1 -1-0.3 -1,0.3 -1-0.1 -1-0.3 -1,1.1 -1,0.3 -1-0.1 -1-0.5 -1,0 -1,0.5 -1,0 -1-0.4 -1,0.3 -1-0.1 -1-0.5 -1,0.7 -1,0.8 -1,0.2 -1-0.2 -1,0 -1-0.1 -1-0.5 -1-0.3 -1-0.1 -1-0.1 -1-0.5 -1,0.7 -1,0.1 -1-0.2 -1,0.4 -1,0.2 -1-0.2 -1-0.1 -1-0.5 -1-0.3 -1-0.3 -1-0.2 -1,0.1 -1,0.2 -1-0.1 -1,0.1 -1-0.3 -1,0 -1,0.6 -1,1 -1,0.5 -1,0 -1-0.5 -1-0.8 -1,0 -1-0.3 -1-0.2 -1,0.2 -1,0.2 -1,0.3 -1-0.1 -1-0.6 -1,0.2 -1,0 -1,0.3 -1,0.8 -1,0.8 -1,0.2 -1-0.2 -1-0.5 -1-0.1 -1-0.5 -1-1.2 -1,0.2 -1,0.1 -1-0.4 -1,0 -1,0.8 -1,0.3 -1-0.2 -1,0 -1,0.1 -1-0.3 -1-0.5 -1,0.2 -1,0 -1,0.4 -1,0.7 -1,0.7 -1,0.1 -1-0.2 -1-0.9 -1-0.5 -1,0 -1-0.2 -1,0.5 -1,0.2 -1-0.2 -1-0.7 -1-1.2 -1,0 -1,0.3 -1,0.9 -1,0.5 -1,0.1 -1-0.4 -1-0.4 -1,0 -1,0.1 -1,0.3 -1,0 -1-0.4 -1,0.4 -1-0.1 -1,0.1 -1,1 -1,0.3 -1-0.1 -1-0.2 -1-0.1 -1-0.5 -1-0.7 -1,2 -1,0.8 -1,0.2 -1-0.2 -1-0.8 -1-1.4 -1-0.7 -1,0.6 -1,0.1 -1-0.4 -1,0.5 -1,0.2 -1-0.2 -1-0.6 -1,0.8 -1,0.3 -1-0.2 -1-0.2 -1-0.7 -1,0.5 -1,0.4 -1,0.9 -1,0.3 -1-0.2 -1-0.6 -1,0.1 -1-0.3 -1-0.5 -1,0.3 -1-0.2 -1,0 -1,0 -1-0.2 -1-0.2 -1-0.1 -1,1.5 -1,0.8 -1,0.3 -1-0.2 -1-0.7 -1-1.2 -1,0 -1,0 -1,0.5 -1,0.1 -1-0.3 -1-0.2 -1-0.1 -1,0.2 -1-0.2 -1-0.1 -1,0.5 -1,0.3 -1-0.2 -1-0.6 -1,0.2 -1,0.1 -1-0.1 -1,0.2 -1-0.3 -1,1.1 -1,0.8 -1,0.2 -1-0.2 -1-0.8 -1-0.7 -1,0.3 -1-0.1 -1-0.7 -1-0.3 -1,0.2 -1-0.3 -1,0.2 -1-0.1 -1-0.3 -1,0.4 -1,0 -1-0.2 -1,0.1 -1-0.4 -1-0.1 -1,0.3 -1,0.4 -1,0.2 -1,0 -1-0.6 -1-0.5 -1,0.2 -1,0.8 -1,0.2 -1-0.2 -1,0.3 -1,0.1 -1-0.4 -1-0.2 -1-0.5 -1-0.2 -1-0.1 -1,0 -1-0.2 -1,0.2 -1,0.5 -1,0.3 -1,0 -1,0.2 -1-0.2 -1,0.1 -1,0.7 -1,0.2 -1-0.3 -1-0.3 -1-0.4 -1,0.5 -1,0.1 -1-0.3 -1-0.9 -1-0.4 -1,0.8 -1,0.4 -1-0.1 -1,0.3 -1,1.8 -1,0.5 -1,0 -1-0.4 -1-1.4 -1-1 -1,0.4 -1,0 -1,0 -1-0.1 -1-0.1 -1,0.3 -1,0 -1,0 -1,0.2 -1-0.2 -1-0.6 -1,0.2 -1-0.3 -1,0.3 -1,0.7 -1,0.1 -1-0.3 -1-0.8 -1,0.4 -1-0.1 -1-0.5 -1-0.1 -1,1.1 -1,0.4 -1,0 -1-0.4 -1-0.5 -1-0.4 -1-0.1 -1-0.2 -1,0.7 -1,0.2 -1,0 -1,0.2 -1-0.1 -1-0.7 -1-0.5 -1,0.1 -1,0 -1,0.4 -1-0.1 -1-0.5 -1,0 -1,0.2 -1-0.1 -1-0.5 -1,0 -1,0 -1-0.4 -1,0.3 -1,1 -1,0.7 -1,0.3 -1-0.3 -1-0.4 -1-0.6 -1-0.2 -1-0.3 -1,0.6 -1,0.3 -1,0.1 -1,0.2 -1-0.2 -1-0.7 -1,0.1 -1,0.2 -1,0.2 -1-0.1 -1,0 -1,0.2 -1-0.3 -1,0.4 -1,0.2 -1-0.3 -1-0.1 -1-0.2 -1,0.2 -1,0.2 -1,0 -1-0.4 -1,0 -1,0.9 -1,0.3 -1-0.1 -1,0 -1,0.5 -1,0 -1-0.4 -1-1.3 -1-0.3 -1,0.4 -1,0.2 -1-0.2 -1-0.4 -1,0 -1-0.3 -1-0.2 -1,0 -1,0.4 -1,0 -1,0 -1,0.2 -1,0.5 -1,0.1 -1,0 -1,0 -1-0.5 -1-0.6 -1,1.3 -1,1 -1,0.3 -1-0.2 -1-0.6 -1-1.4 -1,0 -1,0.1 -1-0.3 -1,0.8 -1,0.5 -1,0 -1-0.4 -1-1 -1,0.3 -1,0.4 -1-0.1 -1,0.2 -1,0 -1-0.4 -1,0 -1,0.1 -1-0.3 -1-0.2 -1-0.2 -1,0.8 -1,0.5 -1,0 -1-0.5 -1-0.1 -1,0.3 -1-0.2 -1-0.2 -1,0.1 -1-0.3 -1-0.8 -1,0.6 -1,0.2 -1,0.5 -1,0.1 -1-0.3 -1-1 -1-0.5 -1,0.2 -1-0.2 -1-0.3 -1-0.1 -1-0.2 -1,0.6 -1,0.1 -1-0.3 -1,0.4 -1,0 -1-0.5 -1-0.8 -1-0.1 -1-0.8 -1-0.4 -1,0 -1-0.6 -1-1.2 -1,0.7 -1,0.1 -1-0.2 -1-0.9z"/>
<path fill="#B5540C" d="M114,311.4l1-1 1-1.1 1-0.4 1,0.1 1,0.6 1,0.2 1,0.3 1,0.1 1,0.6 1,0.4 1,0.1 1,0.5 1,0.5 1,0.1 1,0.1 1,0.1 1,0 1-0.2 1,0.2 1,0.3 1,0.4 1,1.3 1-0.1 1,0.2 1,0.1 1,0 1-0.2 1,0.1 1,0.3 1,0.6 1,0.1 1,0.4 1,0.3 1-0.1 1-0.6 1-0.1 1,0.4 1,0.5 1-0.3 1-0.5 1-0.3 1,0.2 1,0.7 1-1.3 1-0.7 1-0.2 1,0.3 1,0.8 1,1.9 1,0.2 1,0.4 1-0.4 1,0 1,0.2 1,0.2 1-1.2 1-0.7 1-0.1 1,0.2 1,0.9 1,1.6 1,0.1 1,0 1-0.2 1-0.2 1-0.5 1-0.1 1,0.4 1-0.3 1-0.2 1,0.3 1-0.1 1-0.6 1-0.2 1,0.3 1,1 1,0.1 1,0 1,0.5 1,0.1 1-0.1 1,0.2 1-0.1 1,0.3 1,0.6 1-0.2 1,0 1,0.6 1-0.6 1-0.2 1,0.2 1-0.3 1,0 1,0.5 1-0.1 1,0.2 1,0 1-0.1 1-0.2 1,0.1 1,0.4 1-1.6 1-0.6 1-0.1 1,0.3 1,1 1,0.8 1,0.3 1,0.3 1,0.2 1-0.1 1-0.6 1-0.2 1,0.1 1,0.7 1,0 1-0.2 1,0.2 1,0.3 1,0.4 1,0 1-0.3 1-0.2 1-0.3 1,0.1 1,0.6 1,0.2 1,0 1-0.5 1,0 1,0.4 1,0.2 1-0.3 1,0.1 1,0.7 1,0.2 1-0.9 1-0.7 1-0.2 1,0.3 1,0.3 1,0.6 1,0.4 1,0.3 1-0.1 1,0.2 1-0.2 1,0.1 1-0.7 1-0.4 1,0.1 1,0.1 1,0.7 1,0.6 1-0.2 1-0.4 1,0.1 1,0.6 1-0.4 1-0.6 1-0.1 1,0.3 1,0.1 1-0.1 1-0.5 1,0 1,0.4 1,1.3 1-1.1 1-1.2 1-0.3 1,0 1,0.6 1,1.6 1-1.1 1-0.4 1,0 1,0.5 1,1.7 1,0 1-0.1 1,0.4 1-0.2 1,0.1 1-0.1 1,0 1,0.5 1,0.1 1-0.3 1-0.5 1,0 1-0.2 1-0.3 1,0.1 1,0.6 1,0.4 1,0.5 1,0 1,0.2 1-0.1 1-0.1 1,0.3 1-0.2 1-0.2 1,0.2 1-0.2 1-0.2 1,0.2 1,0 1,0.1 1,0.5 1,0.3 1-0.3 1-0.1 1,0.1 1-0.2 1,0 1-0.2 1-1.3 1-0.7 1-0.1 1,0.3 1,1 1,2 1-0.5 1,0 1,0.2 1-0.9 1-0.3 1,0.1 1,0.7 1,1.1 1-0.2 1,0.2 1-0.5 1-0.3 1,0.2 1,0.5 1,0.3 1,0.2 1-0.2 1,0.2 1-0.2 1-0.5 1,0 1,0.5 1-0.1 1-1.5 1-0.5 1-0.1 1,0.4 1,1.1 1-0.2 1,0.3 1,0.4 1,0 1,0.4 1,0.1 1-0.4 1-0.3 1,0.2 1,0.2 1,0.2 1-0.3 1-0.4 1,0 1,0.4 1,0.3 1-0.1 1,0 1-0.3 1,0 1,0.4 1-0.2 1,0 1,0.5 1,0.6 1,0.1 1-0.3 1-0.6 1-0.8 1-0.2 1,0.2 1,0.8 1,0.1 1,0.3 1,0.3 1-0.1 1,0.3 1-0.1 1-0.5 1-2.5 1-0.6 1,0 1,0.3 1,1.2 1,1.5 1-0.3 1,0.1 1,0.5 1-0.4 1-0.5 1-0.1 1,0.3 1-0.1 1,0.1 1,0.1 1,0 1,0.4 1,0.2 1,0.1 1,0.4 1,0.7 1-0.3 1-0.5 1,0 1,0.4 1,1.3 1-0.5 1-0.1 1,0.3 1-1 1-0.4 1,0.1 1,0.1 1-0.1 1,0.1 1-0.4 1,0 1,0 1-0.1 1-0.3 1,0.1 1-0.1 1,0.3 1,0.3 1,0.3 1,0.1 1,0.1 1-0.1 1-0.1 1,0 1-0.4 1-0.4 1-0.5 1-0.1 1,0.4 1,0.7 1,0.4 1,0.3 1-0.7 1-0.1 1,0.2 1-0.1 1-0.3 1-0.1 1,0.3 1,0.1 1,0.3 1-0.1 1-0.4 1,0 1,0.1 1-0.1 1,0.1 1,0.5 1,0.1 1-0.3 1,0.1 1-0.4 1,0 1-0.3 1-0.2 1,0.3 1,0.3 1,0.2 1-0.5 1-0.3 1,0.1 1,0.5 1,0.1 1-0.1 1,0.2 1,0.6 1-0.1 1-0.1 1-0.4 1,0 1,0.3 1,0.3 1-0.2 1-0.4 1,0.1 1,0.5 1,0.2 1-0.5 1,0 1,0.4 1-0.4 1-0.5 1-0.6 1,0 1,0.3 1,1 1,0.2 1,0.2 1,0 1-1 1-0.3 1,0.2 1,0.1 1,0.2 1,0.3 1,0.1 1-0.5 1-0.4 1-0.6 1-0.3 1,0.1 1,0.7 1,0.3 1,0.2 1-0.3 1-0.5 1,0 1,0.5 1,0.8 1-0.2 1,0.1 1-0.1 1,0 1,0.3 1,0.5 1,0 1-0.3 1-0.1 1-0.1 1,0.3 1,0.2 1-0.8 1-0.2 1,0.2 1,0.8 1,0.1 1-0.2 1-0.3 1-0.3 1,0 1,0.6 1-1 1-0.3 1,0.2 1,0.6 1,0.6 1,0.2 1-0.1 1-0.6 1-0.2 1,0.3 1,0.7 1,0.3 1,0.1 1,0.2 1,0.4 1-0.1 1,0.4 1-0.8 1-0.7 1-0.1 1,0.2 1,0.5 1-0.1 1-0.1 1,0.3 1-0.5 1-0.4 1,0.1 1,0.5 1,0.2 1-0.1 1,0.4 1,0 1-0.1 1,0.3 1,0.1 1-0.2 1,0 1-0.8 1-0.2 1,0.2 1-0.9 1-0.3 1,0 1,0.6 1,0.5 1,0 1,0.3 1-0.3 1-0.5 1,0 1,0.5 1-0.2 1,0.3 1,0.4 1-0.1 1,0.2 1,0.2 1,0.1 1,0.4 1-0.4 1-0.3 1,0 1,0.5 1,0.4 1,0 1-0.4 1-0.3 1-0.3 1-0.4 1,0.1 1-0.7 1-0.4 1,0.1 1,0.6 1,1 1-0.5 1,0 1,0.5 1,0.2 1-0.3 1,0.2 1-0.1 1,0.1 1,0.7 1,0.2 1-0.1 1,0 1-0.2 1-0.4 1,0.1 1,0.1 1,0 1-0.3 1,0.1 1,0.2 1,0.1 1-0.4 1-0.1 1-0.1 1,0.1 1-0.6 1-0.1 1,0.3 1,0.4 1-0.3 1-0.2 1,0.2 1,0.3 1-0.3 1,0 1-1.1 1-0.6 1-0.2 1,0.3 1,1.1 1-0.8 1-0.3 1,0.1 1,0.5 1,1.2 1,0 1-0.4 1,0.1 1-2.3 1-0.5 1-0.1 1,0.3 1,1.2 1,0.7 1-0.1 1,0.3 1,0.5 1,0.5 1-0.2 1-0.1 1-0.3 1,0.1 1,0.6 1,0.1 1-0.5 1-0.2 1,0.2 1,0.8 1-0.3 1-0.2 1-0.2 1-0.4 1-0.4 1,0 1,0.4 1,0.9 1-0.1 1,0.1 1,0.2 1,0.1 1-0.4 1,0.1 1-0.1 1,0.3 1,0.6 1-1.2 1-0.5 1,0 1,0.4 1,1.1 1-0.5 1-0.2 1,0 1,0.1 1,0.1 1-0.2 1,0.2 1-0.1 1,0.3 1,0.1 1,0 1-0.4 1-0.2 1-0.5 1-0.1 1,0.3 1-0.3 1-0.5 1-0.1 1,0.4 1,0.2 1-0.6 1-0.1 1,0.3 1,0.2 1,0 1,0.4 1,0.4 1-0.1 1-0.3 1-0.9 1-0.8 1-0.2 1-0.2 1-0.4 1,0 1,0.5 1,2.6 1-0.2 1,0.1 1-0.2 1-0.6 1-0.1 1,0.2 1-0.2 1,0 1,0.1 1,0.1 1,0.1 1-0.2 1-0.1 1,0.2 1,0 1,0.5 1-0.3 1-0.3 1-0.1 1-0.4 1,0 1,0.4 1,0.7 1,0.1 1-0.2 1,0.1 1,0.6 1,0 1,0 1-0.4 1-0.1 1-0.2 1,0.2 1,0.7 1-0.2 1-0.5 1-0.6 1-0.9 1-0.3 1,0.2 1,0.7 1,0.6 1,0.3 1,0.1 1-0.1 1-0.1 1,0.4 1,0.7 1-0.4 1-0.3 1,0.2 1-0.1 1-0.3 1,0.2 1-0.4 1-0.3 1-0.2 1,0.1 1,0.4 1-0.3 1,0.1 1,0.4 1,0.3 1,0.4 1-0.1 1,0.2 1-0.4 1-0.5 1,0 1-0.5 1-0.3 1,0.2 1,0.6 1-0.4 1,0 1,0.3 1,0 1,0.6 1,0.8 1,0 1-0.3 1,0 1-0.5 1-0.2 1,0.1 1-0.7 1-0.4 1,0 1,0.5 1,1.8 1-0.5 1-0.7 1-0.4 1,0 1,0.5 1-0.6 1-0.1 1,0.4 1,0.1 1-0.1 1,0.3 1-0.2 1-0.3 1,0.3 1,0.6 1,0.1 1-0.2 1,0.2 1,0.1 1-0.7 1-0.1 1,0.2 1,0 1,0.4 1,0.1 1-0.8 1-0.2 1,0.1 1,0.7 1,0.6 1,0 1-0.5 1-1.9 1-0.7 1-0.2 1,0.3 1,0.7 1-0.1 1,0.2 1,0.9 1,0.2 1-0.2 1-0.2 1,0.2 1,0.1 1,0 1,0.3 1,0.4 1,0.2 1-0.2 1-0.7 1-0.3 1,0 1,0.6 1-0.2 1-0.1 1,0.2 1,0.4 1,0 1,0.2 1,0.7 1-0.4 1,0 1,0.4 1,0.1 1-0.4 1-0.3 1,0 1,0.6 1,0.5 1-0.2 1-0.3 1-0.3 1,0.1 1,0.4 1-0.1 1-0.5 1-0.1 1-0.1 1,0.3 1,0.1 1,0.3 1,0.2 1-0.2 1,0 1-0.3 1-0.4 1,0 1,0.5 1,0.4 1-0.1 1-0.4 1-0.1 1,0.3 1,0.3 1-0.2 1-0.1 1-0.2 1,0 1,0.2 1,0 1-0.7 1-0.3 1,0.1 1,0.5 1,0.4 1-1.3 1-0.4 1,0 1,0.5 1,1.8 1-0.1 1-1.6 1-0.5 1-0.1 1,0.3 1,1.2 1,0.4 1-0.7 1-0.8 1-0.2 1,0.2 1,0.8 1,0.1 1,0 1-0.2 1-0.3 1-0.2 1,0.3 1,0.3 1,0.5 1,0 1,0.4 1,0 1-0.6 1,0 1,0.3 1,0.4 1,0.3 1,0.4 1-0.3 1-0.9 1-0.3 1,0.1 1,0.6 1,1 1-0.6 1-1 1-0.3 1,0.1 1,0.4 1-0.3 1,0.1 1,0.1 1-0.4 1-0.2 1,0.2 1,0.4 1,0.6 1,0.6 0,4.6 -1,0.5 -1,0.2 -1,1.9 -1,0.4 -1,0 -1-0.4 -1-0.4 -1-0.7 -1-0.2 -1-0.7 -1,1.2 -1,1 -1,0.3 -1-0.1 -1-0.7 -1,0.2 -1-0.1 -1-0.7 -1,0.3 -1,0.7 -1,0.3 -1-0.3 -1,0 -1,0.5 -1,0.7 -1,0.8 -1,0.2 -1-0.2 -1-0.8 -1-1.9 -1-0.5 -1-0.5 -1,0 -1-0.2 -1,2.4 -1,1 -1,0.3 -1-0.1 -1-0.6 -1-3 -1,0.6 -1,0.3 -1,0.1 -1-0.3 -1,0.2 -1,0.1 -1-0.1 -1-0.1 -1,0 -1,0.4 -1,0 -1-0.3 -1-0.5 -1,0.2 -1-0.1 -1,2.1 -1,0.7 -1,0.5 -1,0 -1-0.5 -1-1.2 -1-0.6 -1-0.5 -1,0.7 -1,0.1 -1-0.3 -1-0.2 -1-0.2 -1-0.5 -1,0.1 -1,0.3 -1-0.2 -1-0.7 -1,0.2 -1,0.7 -1,0.2 -1-0.2 -1,0.7 -1,0.1 -1-0.2 -1-0.9 -1-0.9 -1,0.3 -1,0.1 -1,0 -1,0 -1,0.9 -1,1.4 -1,0.4 -1-0.1 -1-0.5 -1-1.5 -1-0.3 -1,0.2 -1-0.3 -1,0.1 -1,0.3 -1-0.1 -1,0.1 -1,0.5 -1,0 -1-0.5 -1-0.1 -1,0.2 -1,0.4 -1,0.1 -1-0.4 -1-1.2 -1,0.1 -1-0.1 -1,0.5 -1,0.1 -1-0.4 -1-0.6 -1,0.3 -1-0.2 -1,0.5 -1,0.5 -1,0 -1-0.5 -1-0.6 -1,0 -1-0.3 -1,0.9 -1,0.4 -1-0.1 -1,0.5 -1,0.3 -1-0.2 -1-0.7 -1,0.1 -1-0.3 -1-0.7 -1,0.2 -1,0.1 -1-0.3 -1,0.2 -1,0.2 -1-0.1 -1,0.3 -1,0 -1,0.2 -1,0.3 -1-0.2 -1-0.5 -1,1.2 -1,0.5 -1,0.1 -1,0.1 -1,1.1 -1,0.3 -1-0.2 -1-0.6 -1-2.3 -1,0.5 -1,0.1 -1-0.3 -1-0.7 -1,0.3 -1,0.8 -1,0.2 -1,0.2 -1-0.1 -1-0.6 -1-0.3 -1-0.4 -1,0.1 -1,0.2 -1,1.2 -1,0.4 -1,0 -1-0.5 -1-0.8 -1-0.8 -1-0.3 -1,1 -1,1 -1,0.3 -1-0.1 -1-0.7 -1-1.3 -1,0.7 -1,0.5 -1,0.1 -1,0 -1,0.2 -1,0 -1-0.4 -1-0.9 -1-0.1 -1,0 -1,0.1 -1,0.5 -1,0 -1-0.5 -1,0.2 -1,0 -1-0.2 -1,0.4 -1,0 -1-0.4 -1,0.2 -1-0.1 -1-0.5 -1,0.2 -1-0.1 -1-0.5 -1-0.2 -1,0 -1,0.2 -1,0.1 -1-0.4 -1,0.6 -1,0.9 -1,0.3 -1,0.1 -1,0.2 -1-0.2 -1-0.9 -1-0.2 -1-0.1 -1-0.3 -1,0.4 -1,0.1 -1-0.3 -1-0.2 -1-0.1 -1-0.5 -1,0.4 -1,0.3 -1-0.2 -1-0.2 -1-0.2 -1,0.2 -1,0.2 -1-0.1 -1-0.3 -1,0.2 -1-0.3 -1,0.1 -1,0.2 -1,0 -1-0.2 -1,0.3 -1-0.1 -1,0.5 -1,0 -1-0.3 -1,0 -1-0.1 -1-0.3 -1-0.2 -1,0.2 -1,0.1 -1,0.3 -1-0.1 -1,0.5 -1,0.2 -1,0.7 -1,0.6 -1,0.1 -1-0.4 -1-0.7 -1,0.5 -1,0 -1-0.4 -1-1 -1-0.2 -1,0.2 -1,0.2 -1,0.1 -1-0.2 -1,0.4 -1,0.4 -1,0 -1,0.3 -1,0.4 -1,0 -1-0.4 -1-0.9 -1,1.2 -1,0.3 -1-0.1 -1-0.5 -1-0.8 -1,1 -1,0.4 -1-0.1 -1-0.5 -1-1.2 -1,0 -1,0.3 -1,0.1 -1,1.6 -1,0.9 -1,0.3 -1-0.2 -1-0.7 -1-1.3 -1,0.5 -1,0.1 -1-0.4 -1-1.4 -1-0.3 -1,0.5 -1,0.4 -1-0.1 -1-0.3 -1,0.4 -1,0.4 -1,0 -1-0.4 -1-0.2 -1-0.2 -1,1 -1,0.9 -1,0.5 -1,0.3 -1-0.1 -1-0.5 -1-1.4 -1-0.5 -1-0.4 -1,0 -1,0.6 -1,0.6 -1,0.1 -1-0.4 -1-1.1 -1-0.4 -1,2.1 -1,1.1 -1,0.4 -1-0.1 -1-0.4 -1-1.3 -1-1.6 -1-0.1 -1,0.5 -1,0.2 -1-0.3 -1,0.1 -1,0.6 -1,0.1 -1-0.2 -1,0.7 -1,0.1 -1-0.3 -1-0.3 -1,0.2 -1-0.2 -1-0.7 -1-0.6 -1,0.3 -1,0.4 -1,0 -1,0.5 -1,0.9 -1,0.3 -1-0.2 -1-0.7 -1,0.5 -1,0.1 -1-0.4 -1-0.8 -1,0.7 -1,0.2 -1,0.2 -1,0.7 -1,0.2 -1-0.3 -1-0.8 -1,0.3 -1,0 -1,0 -1-0.2 -1-0.8 -1,0 -1,0.6 -1,0.1 -1-0.3 -1-0.6 -1,0.4 -1,0 -1,0.5 -1,0.2 -1-0.1 -1-0.2 -1,0.8 -1,0.2 -1-0.2 -1-0.8 -1-1.2 -1,0.6 -1,0.2 -1-0.3 -1-0.4 -1,0.3 -1,0.6 -1,0.6 -1,0.1 -1-0.3 -1-1 -1-0.5 -1,0.6 -1,0.9 -1,0.3 -1-0.2 -1-0.3 -1-0.1 -1-0.1 -1-0.2 -1,0.2 -1,0.3 -1,0.6 -1,0.1 -1-0.3 -1-0.2 -1,0 -1-0.3 -1,0.1 -1-0.4 -1,0.2 -1,0.7 -1,0.1 -1-0.3 -1-0.6 -1,0 -1-0.5 -1-0.6 -1,0.8 -1,0.2 -1-0.2 -1-0.8 -1,1 -1,0.3 -1-0.2 -1-0.6 -1-0.1 -1,0.4 -1,0 -1-0.4 -1-0.1 -1-0.6 -1-0.2 -1,0.2 -1,0 -1-0.3 -1,0.3 -1-0.1 -1-0.2 -1,0.3 -1-0.2 -1-0.1 -1-0.1 -1-0.5 -1-0.1 -1-0.1 -1,0.2 -1,0 -1,0.1 -1,0.3 -1,0 -1,0 -1,0 -1-0.3 -1-0.2 -1,0.7 -1,0.2 -1-0.3 -1-0.6 -1,0.3 -1,0.1 -1,0 -1-0.2 -1,0.4 -1,0 -1-0.5 -1-0.7 -1,0.1 -1,0 -1,0.2 -1,0.5 -1,0.2 -1-0.1 -1,1.7 -1,0.6 -1,0.1 -1-0.3 -1-0.4 -1,0 -1-0.5 -1-1.8 -1,0.3 -1,0.1 -1,0 -1-0.3 -1,1.9 -1,0.9 -1,0.3 -1-0.2 -1-0.7 -1-1.2 -1,0.6 -1,0.1 -1-0.2 -1-0.4 -1-0.2 -1-0.6 -1,0.1 -1-0.3 -1,0.8 -1,0.3 -1-0.1 -1-0.5 -1-0.9 -1,0.3 -1,0 -1,0 -1,0.1 -1-0.2 -1,0 -1,0.2 -1,0.2 -1-0.3 -1-0.2 -1,0 -1,0.1 -1,0.4 -1,0 -1-0.4 -1-0.6 -1,1.7 -1,0.5 -1,0.1 -1-0.4 -1-1.4 -1,1.5 -1,1.1 -1,0.4 -1-0.1 -1-0.6 -1-2.7 -1,0.3 -1,0 -1,0.1 -1,0.2 -1,0 -1-0.5 -1,0.5 -1,0.1 -1-0.1 -1-0.5 -1,0.1 -1-0.2 -1-0.4 -1,0 -1,0.1 -1-0.1 -1,0 -1,0.6 -1,0.3 -1,0.3 -1,0.7 -1,0.4 -1,0 -1-0.4 -1-1.6 -1-0.1 -1,0.5 -1,0.3 -1-0.1 -1,0.1 -1,0 -1-0.4 -1,0 -1-0.3 -1,0.2 -1,0.4 -1,0.5 -1,0.6 -1,0.1 -1,0 -1,0.1 -1,0.2 -1-0.1 -1-0.5 -1-1.3 -1,1 -1,0.8 -1,0.2 -1-0.2 -1-0.8 -1-0.4 -1,0.9 -1,1.2 -1,0.3 -1,0 -1-0.6 -1-1.6 -1,0 -1-0.3 -1-0.6 -1-0.6 -1,0.5 -1,0.1 -1,1.2 -1,0.3 -1,0 -1,0 -1,0 -1-0.4 -1-0.4 -1-0.1 -1-0.4 -1-0.2 -1-0.4 -1-0.4 -1,0 -1-0.3 -1,0.2 -1,0.6 -1,0.2 -1,1.4 -1,0.5 -1,0 -1-0.5 -1-1 -1,0.8 -1,0.2 -1-0.2 -1-0.5 -1,0.3 -1-0.1 -1-0.6 -1-0.9 -1-0.2 -1,0.5 -1,0.4 -1,0.2 -1,0 -1-0.5 -1,0.8 -1,0.6 -1,0 -1-0.3 -1-0.9 -1-0.2 -1-0.6 -1-0.4 -1,0.4 -1,0 -1-0.4 -1,0 -1,0 -1,2.7 -1,0.5 -1,0 -1,0 -1,0 -1-0.3 -1-1.2 -1-1 -1,0.6 -1,0.1 -1-0.3 -1-1 -1,0.2 -1,0.2 -1,0.3 -1-0.1 -1,0 -1-0.5 -1,0 -1,0.2 -1-0.2 -1,0.2 -1,0.2 -1-0.2 -1-0.8 -1,0.5 -1,0.6 -1,0.1 -1-0.3 -1-1 -1,0.1 -1,0 -1-0.3 -1-0.3 -1,0.2 -1-0.1 -1,0.2 -1-0.1 -1,0 -1-0.1 -1-0.3 -1,0 -1-0.4 -1-0.3 -1,0.6 -1,0.1 -1-0.3 -1-1 -1,1.1 -1,0.7 -1,0.2 -1-0.3 -1-0.9 -1-0.3 -1,0.5 -1,0.1 -1-0.3 -1,0 -1,0 -1-0.1 -1-0.4 -1-0.2 -1-0.4 -1,0.4 -1,0 -1-0.2 -1,0.3 -1,0.2 -1-0.2 -1-0.4 -1-0.3 -1-0.4 -1,1.2 -1,0.3 -1-0.1 -1-0.5 -1,0.5 -1,0.2 -1-0.3 -1-0.9 -1,0.1 -1-0.2 -1-0.9 -1,0 -1,0.4 -1,1 -1,0.6 -1,0.1 -1-0.3 -1-1 -1,0.2 -1,0.7 -1,0.2 -1-0.3 -1-0.9 -1-0.8 -1,0 -1,0.1 -1-0.1 -1-0.1 -1-0.1 -1-0.1 -1,0.4 -1-0.1 -1,0.2 -1,0 -1-0.2 -1-0.1 -1-0.4 -1-0.1 -1,0.5 -1,0 -1-0.5 -1-0.8 -1-0.2 -1,1 -1,1 -1,0.6 -1,0.1 -1-0.4 -1-1.1 -1-0.5 -1-0.1 -1-0.2 -1-0.3 -1-0.3 -1,0.2 -1-0.1 -1,0.1 -1,0.3 -1-0.2 -1,0.1 -1,0.2 -1-0.1 -1-0.4 -1,2.4 -1,0.5 -1,0.1 -1-0.4 -1-1.4 -1-0.4 -1,0.1 -1,0.1 -1-0.3 -1-1.1 -1,0.2 -1,0.2 -1,0.1 -1-0.3 -1,0 -1,0.8 -1,0.2 -1-0.2 -1-0.6 -1,0.3 -1-0.1 -1-0.5 -1-0.9 -1,0.1 -1,0.2 -1-0.3 -1-0.3 -1,0.4 -1,0.2 -1-0.2 -1,0.3 -1,0 -1,0.3 -1-0.1 -1-0.5 -1,0.3 -1-0.2 -1-0.6 -1-0.5 -1,0.1 -1,0.1 -1-0.1 -1-0.1 -1,0.2 -1-0.2 -1-0.2 -1,0 -1,0 -1-0.3 -1,0.1 -1-0.2 -1,0.5 -1,0 -1-0.3 -1-0.7 -1,1.3 -1,0.5 -1,0 -1-0.5 -1-0.5 -1,0.3 -1,0 -1-0.5 -1-0.9 -1,0.2 -1-0.2 -1-0.5 -1-0.3 -1,0.5 -1,1.1 -1,0.5 -1,0 -1-0.4 -1-1.3 -1-0.1 -1,0.1 -1,0.3 -1,0.3 -1-0.2 -1-0.6 -1-0.6 -1-0.1 -1-0.3 -1,0.1 -1,0.4 -1,0 -1-0.5 -1-0.6 -1-0.6 -1,0 -1-0.1 -1-0.3 -1-0.4 -1-0.6 -1-0.1 -1,0.5 -1,0.3 -1-0.2 -1-0.7 -1,0.2 -1-0.2 -1-0.5 -1-1.1 -1,0.2 -1-0.2 -1-0.3 -1-0.4 -1,0.1 -1-0.2 -1-0.6 -1,0.2 -1-0.1 -1-0.6z"/>
<path fill="#8C6B00" d="M114,311l1-1.2 1-0.4 1,0 1,0 1-0.1 1-0.3 1,0.1 1,0.4 1-0.2 1-0.7 1-0.1 1,0.2 1-0.3 1,0.1 1,0.6 1,0.5 1,1.2 1,0.3 1-0.2 1,0 1,0 1,0 1,0.3 1,0.5 1,0 1-0.2 1,0.3 1,0.3 1,0.2 1,0.1 1-0.2 1-0.1 1-0.5 1,0 1,0.4 1,0.1 1-0.2 1-0.2 1,0.3 1,0.4 1,0.1 1,0.7 1-0.2 1-0.4 1-0.4 1-0.1 1,0.2 1,0.8 1,0.2 1-0.7 1-0.5 1-0.1 1,0.4 1,0.3 1-0.3 1,0.1 1,0.1 1,0.5 1,0.7 1,0.2 1,0.1 1,0 1,0.4 1,0.4 1-0.4 1-0.6 1-0.6 1-0.1 1,0.3 1,0.2 1-0.6 1,0 1,0.3 1-0.3 1-0.3 1,0.1 1,0.5 1,0 1-0.2 1,0.3 1,0.9 1,0.2 1-0.2 1,0 1-0.2 1,0 1-0.1 1-0.4 1-0.2 1,0.3 1,0.2 1,0.2 1,0 1,0.3 1,0.2 1-0.1 1,0.3 1,0.2 1,0.3 1-0.1 1-0.2 1-0.5 1-0.9 1-0.2 1,0.1 1,0.7 1,0.4 1,0.1 1-0.4 1-0.4 1,0 1,0.3 1,0.6 1,0.5 1-0.8 1-0.4 1,0 1,0.1 1,0.4 1,0.8 1-0.2 1,0.2 1-0.4 1-0.2 1-0.4 1-0.1 1,0.3 1,0.4 1,0.1 1-0.3 1,0.1 1,0.7 1,0 1,0 1,0.4 1,0.5 1,0.5 1,0.2 1-0.1 1,0.1 1,0 1,0.2 1,0.3 1,0.2 1-0.2 1-0.2 1,0.2 1,0.1 1,0.3 1,0.3 1,0.2 1-0.3 1,0.1 1,0.5 1,0.5 1-0.3 1-0.4 1,0 1-0.1 1,0 1,0.4 1-0.4 1,0 1,0.4 1,0.1 1-0.3 1,0.2 1,0.6 1,1.4 1-0.4 1-0.5 1,0 1,0.4 1,1.2 1-0.5 1-0.1 1,0.3 1,0.3 1-0.4 1,0.1 1,0.1 1,0.2 1-0.1 1-0.3 1,0.1 1-0.1 1,0.1 1-0.8 1-0.2 1,0.2 1,0.8 1,1 1-0.3 1-0.1 1-0.3 1-0.1 1,0.4 1-0.2 1,0.1 1,0.6 1,0.8 1-0.1 1,0.1 1-0.1 1,0.1 1-0.1 1,0.1 1-0.1 1-0.1 1-0.2 1,0.2 1,0.1 1,0.2 1-0.3 1,0.1 1,0.6 1-0.5 1-0.4 1-0.8 1-0.6 1-0.1 1,0.2 1,0.5 1,1.4 1-0.9 1-0.4 1,0 1,0.4 1,0.4 1,0.5 1-0.5 1,0 1,0.4 1,0.6 1,0.3 1-0.9 1-0.3 1,0.1 1,0.1 1,0.5 1,0.8 1,0 1-0.5 1-0.2 1-0.2 1-0.2 1,0.2 1,0.4 1,0.1 1,0.3 1,0.5 1-0.1 1,0.1 1,0 1-0.8 1-0.3 1,0.1 1,0.5 1,0.1 1,0.5 1-0.5 1-0.4 1-0.1 1-0.1 1-0.4 1,0 1,0.4 1,0.7 1-0.6 1-0.5 1-0.9 1-0.3 1,0.2 1,0.7 1,0.9 1-0.6 1,0 1,0.4 1,1.3 1-0.3 1,0.1 1,0.1 1,0.2 1,0.3 1-0.4 1,0.1 1,0.6 1,0.4 1-0.4 1-0.8 1-0.8 1-0.1 1,0.2 1,0.9 1,0.9 1-0.2 1-2.4 1-0.9 1-0.2 1,0.2 1,0.7 1,2.8 1-1 1-0.4 1,0 1,0.4 1-0.4 1-1 1-0.3 1,0.1 1,0.5 1,1.7 1-0.4 1-0.4 1,0.1 1,0.5 1,0 1-0.6 1-0.1 1-0.2 1,0 1,0.3 1,0 1,0.3 1-0.7 1-0.1 1-0.4 1-0.2 1,0.2 1-0.4 1-0.5 1,0 1,0.5 1,1.7 1-0.8 1-0.2 1,0 1,0.4 1,0.9 1-0.3 1,0.1 1-0.8 1-0.3 1,0.1 1,0.6 1-0.1 1-0.1 1,0 1-0.5 1-0.6 1-0.1 1,0.4 1,0.8 1-0.5 1,0 1,0.4 1,1.3 1-0.6 1-0.2 1,0.1 1,0.5 1-0.5 1-0.5 1-0.1 1,0.4 1,0.7 1-0.3 1-0.1 1-0.3 1,0.3 1-0.1 1-0.4 1-0.1 1,0.1 1,0.6 1,0.7 1,0.1 1,0.2 1,0.3 1-0.2 1-0.3 1-0.2 1,0.3 1,0.4 1,0.5 1,0 1-0.1 1-0.5 1-0.3 1-0.2 1-0.3 1,0.1 1-0.1 1-0.1 1,0.2 1,0.4 1-0.1 1,0.4 1,0.8 1,0 1,0.3 1-0.1 1-0.4 1,0 1-0.3 1-0.6 1-0.1 1,0.3 1,0.6 1,0.2 1,0.2 1-1.5 1-0.6 1,0 1-0.2 1-0.3 1,0.2 1,0.7 1,1.5 1-0.4 1-0.3 1-0.4 1-1 1-0.3 1,0.1 1,0.6 1,1.4 1,0 1,0.1 1-0.3 1-1 1-0.7 1-0.2 1,0.3 1,0.9 1,0.3 1,0 1,0.5 1,0.3 1-0.9 1-0.3 1-0.2 1-0.3 1,0.2 1,0.7 1,0.3 1,0.2 1,0.7 1,0.2 1,0 1,0 1,0 1,0.2 1-0.2 1-0.5 1-0.5 1-0.2 1,0 1,0.5 1,0.5 1-0.3 1,0 1,0.3 1,0.4 1,0.1 1-0.1 1-0.1 1-0.2 1-0.1 1-0.5 1-0.3 1,0.1 1-0.8 1-0.4 1,0.1 1,0.6 1,0.8 1-0.2 1,0.3 1,0.1 1,0.1 1,0.5 1-0.5 1-0.6 1-0.2 1,0.3 1,1 1,0.7 1-0.3 1-0.2 1-0.3 1,0 1-0.6 1-0.1 1-0.1 1-0.6 1-0.2 1,0.1 1,0.3 1-0.3 1,0.2 1,0.7 1,0.4 1-0.5 1-0.5 1,0 1,0.5 1,0.9 1-0.5 1-0.1 1,0.1 1,0.2 1-0.1 1-1.1 1-0.5 1-0.1 1,0.3 1,1.2 1,0.4 1,0.4 1-0.1 1-0.3 1-0.1 1,0.2 1,0.4 1,0 1,0 1,0.2 1,0.1 1-0.4 1,0 1,0.5 1,0 1,0.1 1-0.4 1,0 1-0.1 1-0.2 1-1.3 1-0.5 1-0.1 1,0.4 1,1.4 1-0.5 1-0.8 1-0.2 1,0.2 1,0.8 1,1.2 1,0 1,0 1,0.1 1-0.6 1-0.1 1-0.1 1,0.2 1,0 1,0.2 1,0 1-0.4 1-2.4 1-0.4 1,0 1,0.4 1,2.9 1-0.6 1-0.1 1,0.4 1,0.1 1-0.1 1-0.3 1,0.1 1,0.4 1,0.2 1,0.2 1-0.1 1-0.9 1-0.2 1,0.1 1,0.7 1-0.1 1-0.1 1-0.6 1-0.4 1,0.1 1,0.5 1,0.7 1,0.1 1,0.2 1,0.1 1-0.3 1,0 1,0.2 1,0.1 1,0.1 1-0.6 1-0.3 1,0.1 1,0.3 1-0.7 1-0.2 1,0.3 1,0.9 1,1.2 1-0.4 1-0.7 1-0.2 1-0.1 1,0 1-0.2 1,0.3 1-0.2 1,0.2 1-0.1 1,0.3 1,0.2 1-0.4 1-1.4 1-0.8 1-0.3 1,0.2 1,0.7 1,1.7 1,0 1-0.2 1-0.3 1,0 1-0.1 1,0.2 1-0.2 1-0.3 1,0.1 1,0.4 1-0.5 1-0.2 1-0.3 1,0.1 1,0.5 1,0 1-0.2 1,0.3 1,0.3 1-0.4 1-0.1 1,0.3 1,0.3 1,0.4 1,0 1-0.4 1-0.5 1-0.1 1,0.3 1,0.9 1,0 1,0.1 1,0 1,0.2 1,0.1 1-0.3 1,0.1 1,0 1-0.1 1,0.3 1,0.2 1-0.8 1-0.5 1,0 1,0 1,0.3 1,0.2 1,0 1-0.2 1-0.9 1-0.2 1,0.1 1,0.7 1-0.3 1,0 1,0.5 1,0.8 1-1 1-0.3 1,0.1 1,0.7 1-0.1 1,0.2 1,0.1 1,0.2 1-0.4 1-0.2 1,0.2 1-0.3 1,0.2 1,0.3 1-0.2 1,0.3 1,0.5 1-0.2 1,0 1,0 1,0 1,0.2 1-0.1 1,0 1,0.4 1-0.2 1-0.4 1-0.1 1,0.3 1,0.4 1-0.6 1-0.7 1-0.1 1,0.3 1,0.4 1,0.4 1-0.5 1-0.3 1,0.1 1,0.7 1,0.2 1-0.3 1,0.1 1-1.3 1-0.4 1,0 1,0.5 1,0.1 1,0.6 1-0.8 1-0.2 1,0.1 1,0.7 1,0.5 1,0 1-0.7 1-0.4 1-0.4 1,0 1,0.3 1,1.3 1-0.2 1,0 1,0.1 1,0 1,0.4 1-0.4 1-0.6 1-0.2 1-0.1 1,0.3 1,0.6 1,0.1 1-0.5 1-0.5 1-0.1 1,0.3 1,0.4 1-0.1 1,0.4 1,0.2 1-0.1 1-0.7 1-0.8 1-0.2 1,0.2 1,0.8 1,0.5 1-0.4 1-0.5 1-0.1 1,0.4 1,0.1 1-0.1 1-0.2 1,0.3 1,0.9 1-0.1 1-0.2 1-0.5 1,0 1,0.3 1-0.2 1-0.4 1,0 1,0.4 1-0.1 1,0.3 1,0.1 1,0.5 1-0.2 1-1 1-0.3 1,0.2 1,0.6 1,0.3 1,0.1 1,0.4 1,0 1-0.1 1,0.2 1-0.6 1-0.2 1,0.3 1,0.3 1,0.2 1,0 1-0.1 1,0.2 1,0.2 1,0.3 1-0.4 1-0.2 1,0.1 1-0.5 1-0.1 1,0.3 1,0.5 1-0.4 1,0.1 1,0.4 1,0.1 1-0.1 1-0.4 1,0.1 1,0.5 1,0 1-0.1 1-0.1 1,0.1 1,0.1 1-2.1 1-0.6 1,0 1,0.3 1,1.2 1,1.2 1-0.6 1-0.2 1-0.1 1,0 1,0.4 1,0.4 1-0.2 1,0.2 1-0.5 1-0.3 1,0.2 1,0.4 1-0.9 1-0.3 1,0.2 1,0.7 1,0.8 1-0.1 1,0.1 1-0.3 1,0 1,0.3 1-1.2 1-0.3 1,0 1,0.6 1,0.7 1-0.4 1-0.4 1,0.1 1,0.4 1-0.2 1,0 1,0 1-0.1 1,0.3 1,0.4 1,0.1 1,0.1 1,0.1 1-0.2 1-0.1 1,0 1,0.3 1,0 1-0.4 1,0 1,0.4 1-0.5 1-0.2 1-0.5 1-0.1 1,0.2 1-0.3 1-0.9 1-0.3 1,0.2 1,0.7 1-1 1-1 1-0.3 1,0.1 1,0.7 1,2.1 1,0.6 1,1.2 0,4.4 -1,0.9 -1,0.3 -1,0.7 -1,0.3 -1-0.1 -1-0.7 -1-0.1 -1,0.3 -1-0.2 -1-0.1 -1,0 -1,0 -1-0.1 -1,0.1 -1,0 -1,0.9 -1,0.6 -1,0.1 -1-0.4 -1-0.9 -1,0.3 -1,0.2 -1-0.3 -1-0.6 -1-0.4 -1,0.3 -1,0.2 -1,0.2 -1,0.2 -1-0.3 -1-0.2 -1-0.2 -1-0.2 -1-0.1 -1-0.1 -1,1 -1,0.3 -1-0.1 -1-0.7 -1-0.4 -1,0.1 -1,0.5 -1,0.7 -1,0.1 -1-0.3 -1-0.3 -1-0.2 -1-0.7 -1,0.1 -1-0.4 -1,0.5 -1,0.1 -1,0 -1-0.2 -1-0.1 -1,0.2 -1,0.2 -1,0.2 -1,0.6 -1,0 -1-0.3 -1-0.2 -1-0.4 -1,0.3 -1,0.5 -1,0.1 -1-0.3 -1,0 -1,0.2 -1-0.2 -1-0.8 -1,0.2 -1-0.1 -1-0.1 -1,0.1 -1-0.3 -1,0.6 -1,0.1 -1-0.4 -1,0.3 -1,0.5 -1,0.1 -1-0.4 -1-0.6 -1-0.2 -1,0.4 -1,0.1 -1-0.2 -1-0.2 -1,1.1 -1,0.7 -1,0.1 -1-0.3 -1-1 -1-0.8 -1-0.1 -1,0.1 -1,0.2 -1,0.7 -1,0.2 -1,0.6 -1,0.2 -1-0.2 -1-0.8 -1-1.1 -1-0.2 -1-0.2 -1,0.1 -1,0 -1,1.1 -1,0.4 -1,0 -1-0.4 -1-0.8 -1-0.7 -1,0.3 -1,0.4 -1,0.5 -1,1.2 -1,0.3 -1,0 -1-0.6 -1-2.1 -1,0.9 -1,0.4 -1-0.1 -1,0.1 -1,0.1 -1,0 -1-0.5 -1-0.2 -1,0 -1-0.5 -1,0.2 -1,0.4 -1,0.2 -1-0.1 -1-0.4 -1,0.3 -1-0.1 -1-0.7 -1,0 -1,0.2 -1-0.1 -1,0.6 -1,0.1 -1-0.3 -1-0.2 -1-0.2 -1,0.2 -1,0.5 -1,0.4 -1-0.1 -1-0.4 -1,0.1 -1,0.3 -1,0.2 -1-0.3 -1-0.4 -1-0.2 -1,0.2 -1,0 -1,0.4 -1,0.6 -1,0.1 -1-0.4 -1-0.3 -1-0.4 -1,0.1 -1,0.1 -1-0.3 -1,0.1 -1,0.7 -1,0.3 -1-0.1 -1-0.5 -1-0.4 -1,0.2 -1-0.3 -1,0.3 -1,0.3 -1,1.5 -1,0.6 -1,0 -1-0.4 -1-1.4 -1-0.4 -1-0.4 -1-0.3 -1,0.5 -1,0.2 -1-0.2 -1-0.2 -1-0.1 -1,0.5 -1,0.5 -1,0 -1-0.2 -1-0.2 -1-0.6 -1,0 -1-0.1 -1,0 -1,0 -1-0.1 -1-0.3 -1,1.3 -1,0.9 -1,0.2 -1-0.2 -1-0.7 -1-1.5 -1,0.3 -1,0.3 -1-0.1 -1-0.6 -1,0.1 -1,0.8 -1,0.2 -1,0.8 -1,0.6 -1,0.1 -1-0.4 -1-1.1 -1-1.2 -1-0.6 -1,0.4 -1,0.4 -1,0.1 -1,0.3 -1,0.5 -1,0.1 -1-0.4 -1-0.8 -1,0 -1,2.3 -1,0.7 -1,0.2 -1-0.3 -1-0.9 -1-1 -1-0.1 -1-0.1 -1,0.2 -1,0 -1-0.5 -1-0.1 -1,0.8 -1,0.2 -1-0.2 -1-0.8 -1-0.9 -1,0.3 -1,0.1 -1,0.1 -1,0.8 -1,0.4 -1,0 -1-0.5 -1-0.6 -1-0.3 -1,1.2 -1,0.4 -1,0 -1-0.5 -1-1.7 -1,0.2 -1,0.3 -1,0.3 -1,0.2 -1,0.2 -1-0.3 -1,0.4 -1,0 -1-0.4 -1-0.4 -1-0.1 -1,0.5 -1,0.1 -1-0.2 -1,0.4 -1-0.1 -1-0.1 -1-0.2 -1,0.1 -1,1.3 -1,0.6 -1,0.1 -1-0.4 -1-1.1 -1-0.1 -1-0.1 -1,0.4 -1,0 -1,0.2 -1-0.2 -1,0.7 -1,0.9 -1,0.4 -1,0 -1-0.5 -1-1.7 -1,0.2 -1,0.4 -1,0 -1-0.5 -1-0.5 -1,0 -1-0.4 -1,0 -1-0.3 -1-0.4 -1,0.2 -1,0.3 -1,0 -1,0.2 -1,0.4 -1,0.4 -1-0.1 -1-0.6 -1-0.1 -1,0.2 -1,0.7 -1,0.4 -1-0.1 -1-0.5 -1,0.5 -1,0 -1-0.4 -1-1.2 -1,0.1 -1,0.5 -1,0.1 -1,0.3 -1-0.1 -1-0.7 -1-0.1 -1,0 -1,0.8 -1,0.7 -1,0.1 -1-0.3 -1-1 -1,0.1 -1,0.1 -1-0.2 -1-0.5 -1,0.1 -1-0.4 -1,0.2 -1,0 -1,0.2 -1-0.1 -1,0.5 -1,0 -1-0.3 -1-0.1 -1,0.4 -1,0.8 -1,0.5 -1,0.5 -1,0 -1-0.5 -1-0.7 -1-0.3 -1,0.1 -1-0.2 -1-0.1 -1-0.1 -1-0.1 -1-0.1 -1-0.5 -1,0.3 -1,0.8 -1,0.2 -1,0 -1,0.1 -1-0.3 -1-0.4 -1,0.4 -1-0.1 -1-0.5 -1-0.2 -1,0.5 -1,0 -1-0.3 -1-0.3 -1-0.2 -1,0.4 -1,0.5 -1,0.1 -1-0.4 -1-1 -1-0.1 -1,0.1 -1-0.1 -1-0.3 -1,0.8 -1,0.4 -1,0 -1-0.1 -1-0.3 -1,0 -1,0.6 -1,0.1 -1-0.1 -1,0.5 -1,0.1 -1-0.3 -1-0.9 -1,0.1 -1-0.2 -1,0.6 -1,0.2 -1,0.1 -1,0.5 -1,0.1 -1-0.3 -1-0.5 -1,0.3 -1,0.1 -1-0.3 -1-0.2 -1-0.3 -1-0.2 -1,0.5 -1,0.2 -1-0.3 -1-0.7 -1,0 -1,0.5 -1,0.4 -1,0.1 -1-0.4 -1,0 -1,0.1 -1-0.2 -1,0 -1,0.8 -1,0.2 -1-0.1 -1-0.8 -1-0.3 -1,0.3 -1-0.1 -1-0.2 -1,0.4 -1,0.3 -1-0.2 -1,0 -1,0.3 -1-0.1 -1-0.6 -1-0.3 -1,0 -1,0.1 -1-0.2 -1,0.3 -1,0.4 -1-0.1 -1-0.6 -1-1 -1,0 -1-0.3 -1,0.3 -1,0.9 -1,0.7 -1,0.2 -1-0.2 -1-0.5 -1-0.9 -1,0.2 -1,0.2 -1-0.1 -1,0.3 -1,0.8 -1,0.2 -1-0.2 -1-0.8 -1-0.2 -1,0.3 -1,0 -1-0.5 -1,0 -1,0.8 -1,0.2 -1-0.2 -1-0.8 -1,0.1 -1,1.1 -1,0.4 -1,0 -1-0.5 -1-0.8 -1-0.2 -1-0.2 -1,0 -1,0.5 -1,0.3 -1-0.1 -1-0.6 -1,0 -1,0.6 -1,0 -1-0.3 -1-0.8 -1,0.1 -1,0.3 -1-0.1 -1-0.4 -1-0.4 -1,0.9 -1,0.5 -1,0 -1-0.4 -1-0.3 -1,0.3 -1,0.2 -1-0.1 -1-0.5 -1,0.4 -1,0.4 -1-0.1 -1-0.6 -1-0.1 -1,0.1 -1-0.3 -1-0.2 -1-0.1 -1,0.1 -1,0.5 -1,0.5 -1,0 -1,0.5 -1,0.3 -1-0.2 -1-0.6 -1-0.9 -1-0.1 -1,0.1 -1,0.9 -1,0.2 -1-0.1 -1-0.7 -1,0.1 -1,0.7 -1,0.2 -1-0.3 -1-0.9 -1-0.3 -1-0.1 -1-0.6 -1,2.1 -1,0.6 -1,0.1 -1-0.4 -1-0.9 -1,0.1 -1-0.3 -1-0.6 -1-0.1 -1,0.2 -1-0.3 -1-0.3 -1,0.9 -1,0.2 -1-0.1 -1-0.7 -1-0.4 -1-0.2 -1,0.8 -1,0.6 -1,0.1 -1-0.4 -1-0.4 -1,0 -1,0.1 -1-0.3 -1,0.1 -1,0.4 -1,0.3 -1-0.2 -1-0.7 -1-0.5 -1-0.3 -1,0.6 -1,0.6 -1,0.2 -1,0 -1,0.4 -1,0 -1-0.5 -1-1.1 -1,0.5 -1,0 -1-0.2 -1,0.5 -1,0.3 -1-0.1 -1-0.3 -1,0.6 -1,0.1 -1-0.3 -1,0 -1-0.1 -1,0 -1,0.5 -1,0 -1,0.1 -1,0.6 -1,0.1 -1-0.3 -1-0.8 -1-0.1 -1,0.2 -1-0.2 -1-0.8 -1,0.2 -1,0.5 -1,0.3 -1-0.2 -1,0 -1,0.1 -1,1 -1,0.3 -1-0.1 -1-0.6 -1-0.7 -1,0.1 -1-0.3 -1-0.8 -1-0.1 -1-0.5 -1,0.5 -1,0 -1-0.2 -1-0.3 -1,0.5 -1,0.5 -1,0 -1-0.4 -1,0.7 -1,0.2 -1-0.3 -1-0.9 -1,2.1 -1,0.6 -1,0.1 -1-0.4 -1-1.1 -1-0.7 -1-0.5 -1,0.5 -1,0.7 -1,0.2 -1-0.3 -1-0.8 -1-0.7 -1-0.3 -1,0.2 -1,0.2 -1-0.3 -1,0 -1-0.1 -1-0.5 -1,1.9 -1,0.9 -1,0.2 -1-0.1 -1-0.7 -1-0.9 -1,0.1 -1-0.3 -1-0.8 -1,0.3 -1-0.1 -1-0.6 -1-0.6 -1,0.1 -1,0.5 -1,0.1 -1-0.3 -1-0.3 -1,0.2 -1,0.3 -1,0.6 -1,0.1 -1-0.3 -1,0 -1-0.5 -1-0.2 -1,0 -1-0.4 -1,0.4 -1,0 -1-0.4 -1,0.4 -1,0 -1-0.4 -1-0.4 -1-0.1 -1,0.2 -1-0.2 -1,0.2 -1,0.3 -1,0 -1-0.6 -1-1 -1,0.1 -1,0.1 -1,0.2 -1-0.2 -1,0.5 -1,0.3 -1,0.1 -1,0.2 -1-0.1 -1-0.7 -1-1 -1,0.1 -1,0.5 -1,0 -1-0.5 -1-0.1 -1,0.2 -1,0 -1,0.1 -1,0.4 -1,0.2 -1-0.2 -1-0.3 -1,0 -1,0.1 -1-0.1 -1-0.4 -1,0.3 -1-0.1 -1-0.7 -1-1 -1,0 -1,0.3 -1-0.1 -1,0 -1,0.4 -1-0.1 -1-0.6 -1,1.3 -1,0.6 -1,0.1 -1-0.3 -1-1 -1-1.1 -1-0.3 -1-0.7 -1-0.2 -1,1.1 -1,0.4 -1,0 -1-0.4 -1-1.9 -1,0.4 -1,0.4 -1,0.2 -1-0.1 -1-0.1 -1,0 -1-0.4 -1-1.1 -1-0.5 -1-0.3 -1-0.7 -1,0.3 -1,0.6 -1,0 -1-0.3 -1-1.1 -1,0.9 -1,0.5 -1,0 -1-0.5 -1-0.4 -1-0.4 -1,0.1 -1-0.2 -1,0.1 -1-0.3 -1,0.3 -1,0.2 -1,0.1 -1,0.2 -1,0 -1-0.2 -1,0.4 -1,0 -1-0.1 -1-0.1 -1-0.2 -1,0 -1,0.3 -1,0 -1-0.2 -1-0.5 -1-0.2 -1-0.1 -1,0.3 -1-0.1 -1-0.5 -1,0.3 -1,0.3 -1,0.3 -1,0.4 -1,0 -1-0.3 -1,0.1 -1-0.1 -1,0.2 -1-0.1 -1-0.5 -1-0.2 -1-0.1 -1,0.1 -1,0.1 -1-0.4 -1-0.5 -1,0.1 -1,0.3 -1,0.2 -1,0.4 -1-0.1 -1-0.6 -1-0.2 -1-0.2 -1-0.3 -1,0.3 -1,0.6 -1,0.2 -1,0.4 -1-0.1 -1-0.3 -1-0.1 -1-0.6 -1,0.5 -1,0.1 -1,0 -1-0.4 -1-0.7 -1,0.3 -1-0.1 -1-0.5 -1,0 -1,0.4 -1,0.3 -1-0.1 -1,0.3 -1,0.1 -1-0.4 -1-0.6 -1-0.2 -1,0.9 -1,0.2 -1-0.2 -1-0.5 -1,0 -1,0.1 -1-0.4 -1-0.2 -1-0.3 -1,0.3 -1,0.1 -1-0.3 -1,0.6 -1,0.5 -1,0.1 -1-0.3 -1-0.3 -1-0.7 -1-1.2 -1,0.6 -1,0.2 -1-0.2 -1-0.2 -1-0.3 -1-0.5 -1,0 -1,2.1 -1,0.7 -1,0.1 -1-0.3 -1-1 -1-2.4 -1,0.2 -1-0.2 -1-0.1 -1,0.1 -1,0 -1,0.2 -1,0 -1-0.4 -1-0.5 -1-0.1 -1,0 -1-0.1 -1-0.6z"/>
<path fill="#1B7F7A" d="M114,313.8l1-0.9 1-1.2 1-0.3 1,0.1 1-0.3 1,0.2 1,0.7 1,0.2 1,0.7 1,0.8 1,0.4 1,0.2 1,0.3 1,0.5 1-0.2 1-0.1 1,0 1,0.1 1,0.7 1-0.1 1,0.3 1,0.2 1-0.5 1-0.1 1,0.4 1,0.2 1-0.1 1,0.2 1,0.3 1,0.1 1-0.2 1-0.1 1-0.3 1-0.1 1,0.4 1,0 1-0.3 1-0.2 1,0.2 1-0.3 1-0.4 1,0 1,0.2 1,0.1 1,0.2 1-1.1 1-0.4 1,0 1,0.5 1,1 1-0.1 1,0.2 1,0.3 1-0.5 1-0.1 1,0.4 1-0.6 1-0.3 1,0.1 1,0.6 1-0.9 1-0.3 1,0 1,0.5 1,0.8 1,0.3 1-0.5 1-0.2 1-0.9 1-1.3 1-0.4 1,0 1,0.5 1,0.5 1,0.6 1,1.8 1-0.2 1,0.2 1,0.1 1-0.1 1-0.6 1,0 1,0.1 1,0.1 1,0.3 1,0 1,0.4 1,0.2 1-0.1 1,0.3 1-1.1 1-0.4 1,0 1,0.5 1,0.4 1,0.2 1-0.4 1-0.2 1,0.3 1,0.3 1,0 1,0.2 1-0.1 1-0.1 1,0.1 1-0.7 1-1.6 1-0.7 1-0.2 1,0.3 1,0.9 1,2.5 1-0.2 1-0.5 1-0.1 1,0.3 1-0.6 1-0.9 1-0.3 1,0.2 1,0.7 1,0.4 1,0 1,0 1,0.1 1,0.1 1,0.1 1,0.5 1-0.2 1-0.4 1-0.4 1,0.1 1,0.3 1-0.8 1-0.3 1,0.1 1,0.5 1,0.5 1-0.5 1-0.3 1-0.5 1-0.1 1,0.4 1-0.1 1-0.3 1,0.1 1,0.6 1,1 1,0 1,0.3 1,0.1 1-0.3 1,0 1,0.1 1,0.2 1-1.4 1-0.6 1-0.1 1,0.2 1,1.1 1,0.2 1,0.2 1,0.4 1,0.1 1-0.4 1,0 1,0.3 1-0.4 1-0.5 1,0 1-0.1 1,0.2 1-0.6 1-0.1 1,0.4 1,0.3 1,0.3 1-0.3 1,0 1,0.5 1-1.8 1-0.6 1,0 1,0.3 1,1.2 1,0.2 1,0.5 1,0.3 1-1 1-0.3 1,0.2 1,0.6 1,0.1 1,0.2 1,0.6 1,0.4 1-1.6 1-1 1-0.3 1,0.1 1,0.7 1,0.9 1,0 1,0.4 1-0.5 1-0.2 1,0.2 1,0.7 1,0.5 1-0.8 1-0.3 1,0.1 1,0.6 1-1.2 1-0.4 1,0.1 1,0.5 1,1.6 1-0.4 1-0.4 1,0 1-0.2 1-0.1 1,0 1-0.4 1,0 1,0.4 1,0.7 1,0.1 1,0.2 1-0.5 1-0.2 1,0.3 1-0.2 1,0.2 1,0.7 1-0.8 1-0.3 1,0.1 1,0.1 1-0.3 1,0.1 1-0.3 1-0.3 1,0.1 1,0.5 1,0.3 1,0.4 1-1.5 1-0.6 1-0.1 1,0.3 1,0.6 1,0.1 1-0.5 1,0 1,0.4 1,0.1 1,0.5 1,0.2 1-0.3 1-0.1 1,0.4 1-0.1 1-0.3 1,0 1-1 1-0.3 1,0.1 1,0.6 1,0.8 1,0.3 1-0.2 1-0.3 1,0 1,0 1-0.2 1,0.2 1-0.1 1-0.2 1,0.3 1,0.1 1,0.2 1-0.5 1-0.5 1,0 1,0.4 1,1 1-0.1 1-0.2 1,0 1-0.2 1,0.2 1,0.1 1,0.2 1,0.3 1-0.2 1,0.2 1-0.2 1,0.1 1-0.5 1-0.1 1-0.3 1-0.3 1,0.1 1,0.7 1,0 1,0.1 1,0 1-0.8 1-0.2 1,0.1 1,0.8 1-0.4 1,0 1,0 1-0.3 1,0.2 1,0.7 1-0.6 1-0.7 1-0.2 1,0.2 1,0.9 1,0 1-0.5 1-0.3 1,0.1 1,0.5 1,0.2 1-0.4 1,0 1,0.3 1,0.1 1-0.7 1-0.2 1,0.2 1,0.8 1,0.3 1-0.3 1,0.1 1-0.3 1-0.1 1,0.4 1-0.3 1-0.7 1-0.1 1,0.3 1,1 1,0.2 1-0.7 1-0.9 1-0.2 1,0.1 1-0.4 1-0.1 1,0.3 1,0.9 1-0.1 1-0.4 1-0.2 1,0.3 1,0.9 1,0 1,0 1-0.2 1-0.8 1-0.3 1,0.2 1,0.7 1-0.1 1,0.2 1,0.1 1,0.3 1,0 1-0.6 1-0.3 1,0 1,0.3 1,1.2 1-0.1 1,0 1,0.3 1-0.3 1-0.1 1-0.1 1,0 1-0.9 1-0.3 1,0.2 1-0.3 1-0.1 1,0.3 1,0.4 1-0.1 1-0.2 1,0 1,0.3 1,0.2 1,0.2 1-0.1 1-0.2 1-0.2 1-0.4 1,0.1 1,0.2 1,0.1 1-0.1 1,0.1 1,0 1-1.4 1-1.3 1-0.4 1,0 1,0.5 1,1.7 1-0.2 1,0.2 1,0.8 1,0.4 1-0.4 1,0 1,0.4 1-0.2 1-0.5 1-0.1 1-0.3 1-0.2 1-0.4 1-0.3 1,0.2 1,0.6 1,0.1 1-1.6 1-1 1-0.3 1,0.1 1,0.6 1,0.8 1,0.3 1-0.7 1-0.2 1,0.3 1,0.8 1,1.2 1,0.2 1-0.7 1-0.3 1,0.1 1,0.3 1,0 1,0.1 1,0 1,0.1 1-0.1 1,0 1,0.2 1,0 1,0.2 1-0.3 1-0.1 1,0.3 1-0.1 1-0.1 1,0.3 1-0.3 1-0.8 1-0.2 1,0 1-1.2 1-0.3 1,0.1 1,0.5 1,2.1 1,0.2 1-0.5 1-0.3 1,0.3 1-0.1 1,0.1 1,0.5 1-0.5 1-0.1 1,0 1,0.3 1,0.4 1-0.2 1,0.3 1,0.2 1,0.1 1-0.1 1,0.3 1-0.3 1,0.2 1-0.3 1-0.4 1,0 1,0.1 1-0.2 1,0.1 1,0.1 1-0.3 1,0 1,0 1-0.3 1,0.1 1,0.6 1,0.3 1-2.1 1-0.5 1,0 1,0.4 1,0.5 1-0.3 1,0.1 1,0.7 1,0.4 1,0 1,0.1 1,0 1-0.5 1-0.5 1,0 1,0.4 1,0.1 1,0 1,0.3 1,0.1 1,0.2 1,0 1,0.3 1,0.3 1-0.4 1-0.1 1-0.5 1,0 1,0.3 1-0.7 1-0.2 1-0.2 1-0.2 1,0 1,0.3 1,0.3 1-0.6 1,0 1,0.3 1,0.5 1-0.5 1,0 1,0.4 1,0.7 1-0.1 1-0.4 1-0.1 1,0.3 1,0.2 1-0.5 1-0.5 1,0 1,0.5 1,0.5 1,0.1 1-0.4 1-0.5 1,0 1,0.5 1-0.4 1-0.6 1-0.1 1,0 1-0.8 1-0.2 1,0.2 1,0.6 1,0.3 1,0.8 1,0.3 1-0.1 1,0.1 1-0.8 1-0.4 1,0.1 1,0.6 1,0.1 1,0.1 1-0.4 1,0 1,0.5 1-0.1 1,0 1-0.4 1,0 1,0.4 1,0.4 1,0.1 1-0.1 1-0.4 1-0.4 1,0 1-0.3 1-0.2 1,0.3 1,0.3 1,0.6 1,0.4 1,0.6 1-0.3 1-0.8 1-0.5 1,0 1-0.8 1-0.3 1,0.1 1,0.6 1,0.3 1,0.8 1,1 1-0.7 1-0.4 1,0 1,0.5 1,0.6 1-0.4 1-0.8 1-0.4 1,0 1,0.5 1,0.1 1-0.1 1,0.2 1-0.5 1-0.1 1,0.4 1,0 1-0.2 1,0.2 1-0.2 1,0.2 1-0.6 1-0.7 1-0.4 1,0.1 1,0.6 1,0.5 1,0.1 1,0.2 1,0.1 1-0.1 1-0.4 1-0.1 1,0.4 1-0.7 1-0.7 1-0.2 1,0.3 1,0.5 1,0.1 1-0.2 1,0.1 1,0.7 1,0.1 1-0.1 1,0.4 1-0.1 1,0.2 1-1 1-0.8 1-0.2 1,0.2 1,0.8 1,1 1-2.8 1-0.5 1-0.1 1,0.3 1,1.2 1,0.9 1,0.1 1,0.2 1,0.4 1,0.1 1,0 1-0.7 1-0.2 1,0.2 1,0.6 1-0.9 1-0.2 1,0.1 1,0.7 1,0.6 1-0.5 1-0.1 1,0.4 1-0.3 1-0.6 1-0.1 1,0.3 1,0.9 1-0.8 1-0.2 1,0.2 1,0 1-0.3 1,0.1 1,0.5 1,0.1 1-0.3 1,0.1 1,0.2 1-2.2 1-0.5 1-0.1 1,0.3 1,1.2 1,1.7 1-0.1 1-0.1 1-0.8 1-0.3 1,0.2 1,0.6 1,0.2 1,0 1,0.2 1,0.7 1,0.1 1-0.6 1-2.1 1-0.6 1-0.1 1,0.4 1,1.1 1,0.3 1,0.5 1,0.8 1-0.3 1-0.6 1-0.3 1,0.2 1,0.7 1-0.5 1-0.1 1,0 1,0.2 1,0.4 1,0.2 1-0.2 1-0.3 1-0.6 1-0.1 1,0.3 1,0.5 1,0.3 1,0.1 1-0.4 1-0.2 1-0.3 1,0.1 1-0.1 1-0.1 1,0.4 1-0.1 1,0.3 1,0 1-0.1 1,0.3 1-0.2 1-0.6 1-0.1 1,0.4 1,0.1 1-0.7 1-0.2 1,0.3 1,0.9 1-0.1 1-0.4 1-0.5 1-0.1 1,0.1 1-0.1 1,0.4 1,0.6 1,0 1,0.3 1,0 1-0.3 1-0.1 1,0.2 1,0 1-0.1 1,0.1 1,0.4 1-1.4 1-0.4 1,0.1 1,0.5 1,1.1 1,0.1 1-0.1 1,0.1 1,0.3 1,0 1-0.4 1-0.2 1,0.2 1,0.1 1-0.1 1-0.4 1-0.4 1-0.1 1-0.3 1,0.2 1,0.6 1,0.9 1-0.2 1-0.7 1-0.2 1-0.1 1-0.5 1,0 1,0.3 1,0.2 1-0.1 1,0.2 1-0.3 1-0.6 1-0.2 1,0.1 1-0.3 1,0 1,0.5 1,0.2 1,0.2 1,0 1-0.3 1,0 1,0.4 1,0.6 1-0.4 1,0 1,0.4 1-0.3 1-0.7 1-0.2 1,0.3 1,0.9 1,0.1 1-0.4 1,0 1-0.3 1,0 1,0.5 1,0.7 1,0.2 1,0 1-0.4 1-0.1 1-0.9 1-0.7 1-0.1 1,0.3 1,1 1,1.1 1-0.2 1-0.3 1,0.2 1,0.2 1,0.1 1-0.9 1-0.5 1,0 1,0.2 1-0.1 1,0.1 1-0.2 1,0 1,0.5 1,0.1 1,0 1-0.2 1-0.5 1-1.3 1-0.5 1,0 1,0.5 1,0.8 1,0 1,0.3 1,0.3 1-0.1 1,0.3 1,0.4 1,0.1 1-0.6 1-0.9 1-0.3 1,0.2 1,0.7 1,0.9 1,0.5 0,4.7 -1,0.7 -1,0.6 -1,0 -1-0.3 -1,0 -1,0.5 -1,0 -1-0.4 -1,0.1 -1-0.4 -1,0.7 -1,0.2 -1-0.2 -1,0.1 -1-0.1 -1,0.2 -1,0.1 -1-0.1 -1,0.1 -1-0.2 -1,0.2 -1,0.3 -1-0.2 -1-0.2 -1-0.2 -1-0.1 -1-0.1 -1,0.4 -1,1.1 -1,0.3 -1-0.1 -1-0.5 -1-0.5 -1,0.6 -1,0.6 -1,0.1 -1-0.4 -1-0.7 -1,0.1 -1-0.2 -1-0.1 -1-0.1 -1,1.2 -1,0.4 -1-0.1 -1-0.5 -1-0.9 -1,0.2 -1-0.2 -1-0.7 -1,1 -1,0.3 -1,0.6 -1,0.2 -1-0.2 -1-0.8 -1-1.2 -1,0.7 -1,0.8 -1,0.2 -1,0.3 -1,0.6 -1,0.1 -1-0.4 -1-1.1 -1-1.1 -1-0.2 -1,0.3 -1,0.1 -1,0.3 -1-0.2 -1-0.6 -1-0.3 -1,0.2 -1,0.5 -1,0.1 -1,1.2 -1,0.5 -1,0 -1-0.4 -1-0.7 -1-0.4 -1-0.2 -1,0.4 -1-0.1 -1,0 -1-0.1 -1-0.4 -1-0.1 -1,0.8 -1,0.6 -1,0.2 -1-0.3 -1-0.6 -1,0.3 -1-0.2 -1-0.5 -1,0.2 -1,0.4 -1,0.3 -1-0.1 -1-0.4 -1-0.2 -1,0.6 -1,0.1 -1-0.3 -1,0.3 -1,0.2 -1-0.2 -1-0.8 -1,0.5 -1,0.6 -1,0.1 -1-0.3 -1-1 -1-0.2 -1,0.6 -1,0.3 -1-0.1 -1-0.7 -1,0 -1,0.2 -1,1 -1,0.3 -1-0.1 -1-0.6 -1-0.7 -1,0.8 -1,0.2 -1-0.2 -1-0.4 -1,0.9 -1,0.5 -1,0 -1-0.5 -1-1.3 -1,0 -1-0.1 -1,0.1 -1,0.5 -1,0.1 -1-0.3 -1,0.2 -1-0.1 -1,1.4 -1,0.8 -1,0.2 -1-0.2 -1-0.8 -1-2.2 -1,0.7 -1,0.8 -1,1 -1,0.3 -1-0.2 -1-0.6 -1-0.7 -1-0.1 -1-0.6 -1,0.6 -1,1.2 -1,0.3 -1,0 -1-0.6 -1-0.5 -1,0.7 -1,0.1 -1-0.3 -1-1 -1-0.7 -1,0.5 -1,0.9 -1,0.3 -1-0.2 -1-0.5 -1,0.1 -1-0.3 -1,0 -1,0.8 -1,0.2 -1-0.2 -1-0.8 -1-0.4 -1,0.6 -1,0.1 -1-0.3 -1-0.3 -1-0.3 -1-0.3 -1-0.2 -1,0.3 -1,0.7 -1,0.3 -1-0.2 -1-0.6 -1,0 -1,0 -1-0.5 -1-0.5 -1,0.1 -1,0.1 -1,0.9 -1,0.2 -1-0.2 -1-0.7 -1,0 -1-0.2 -1,0.3 -1,1.1 -1,1 -1,0.3 -1-0.1 -1-0.7 -1-1.4 -1,0.2 -1,0.2 -1-0.2 -1,0.4 -1,0.3 -1-0.1 -1-0.5 -1,0 -1-0.1 -1,0.1 -1,0.2 -1-0.2 -1-0.5 -1,0.2 -1,0.6 -1,0.2 -1-0.3 -1-0.9 -1,0.1 -1,0.1 -1,0.3 -1,0.2 -1,0.2 -1-0.2 -1,0.3 -1,0.5 -1,0.1 -1-0.3 -1,0.1 -1,0.4 -1,0 -1-0.4 -1-0.4 -1,0.9 -1,0.5 -1,0.1 -1-0.4 -1-1.3 -1,0 -1,0.4 -1-0.1 -1-0.5 -1-1 -1,0.3 -1,0.2 -1,0.9 -1,0.3 -1-0.1 -1-0.5 -1,0.2 -1-0.1 -1-0.4 -1,0.1 -1-0.2 -1,0 -1,1.6 -1,1.4 -1,0.4 -1-0.1 -1-0.5 -1-1.7 -1,0 -1-0.3 -1,0.2 -1,0.4 -1-0.1 -1-0.2 -1-0.7 -1,0 -1,0.2 -1,0.3 -1,0 -1-0.4 -1,0.3 -1-0.1 -1-0.3 -1-0.2 -1,0.3 -1-0.1 -1-0.1 -1,0.6 -1,0.1 -1-0.3 -1-0.3 -1,0 -1,0.2 -1-0.1 -1,0 -1,0.6 -1,0.3 -1,1.4 -1,0.5 -1,0.1 -1-0.4 -1-1.1 -1-1.7 -1-0.3 -1,0.4 -1,0.9 -1,0.2 -1-0.2 -1-0.7 -1-0.3 -1-0.1 -1-0.1 -1-0.5 -1,0.5 -1,0.6 -1,0.3 -1-0.1 -1-0.5 -1-0.7 -1,0 -1-0.2 -1,0 -1,0 -1,0.1 -1,0.5 -1,0.1 -1,0.2 -1-0.1 -1-0.3 -1-0.3 -1,0.4 -1,0.3 -1,0.2 -1,0.4 -1,0 -1-0.3 -1-0.1 -1-0.7 -1,0.7 -1,0.6 -1,0.1 -1-0.4 -1-1.1 -1,0.2 -1,0.4 -1,0.1 -1-0.2 -1-0.4 -1,0.5 -1,0.3 -1,0.4 -1,0.4 -1,0 -1-0.5 -1-0.8 -1,0.1 -1-0.4 -1,0.4 -1,0 -1,0.7 -1,0.4 -1-0.1 -1-0.5 -1,0.7 -1,0.2 -1-0.2 -1-0.8 -1,0.1 -1,0 -1,0.7 -1,1 -1,0.3 -1-0.1 -1-0.7 -1-1.7 -1-0.1 -1,0.1 -1-0.2 -1,0.2 -1,0.3 -1,2 -1,0.8 -1,0.2 -1-0.2 -1-0.8 -1-0.4 -1,0.7 -1,0.1 -1-0.3 -1-1 -1-1.5 -1,0.1 -1,0.3 -1,0.3 -1,0 -1,0.3 -1,0.1 -1,0.2 -1,0.1 -1-0.4 -1-0.2 -1,4.7 -1,0.8 -1,0.2 -1-0.2 -1-0.8 -1-4.3 -1-0.5 -1-0.7 -1,0.2 -1-0.1 -1,0.3 -1,0.5 -1,0 -1-0.4 -1-0.3 -1,0.5 -1,0 -1-0.5 -1,0.1 -1,0.8 -1,0.2 -1-0.2 -1-0.7 -1-0.3 -1,0.3 -1,0.6 -1,0.1 -1,0 -1-0.4 -1-0.4 -1-0.2 -1,0.3 -1,0.1 -1,0.2 -1,0.1 -1-0.3 -1-0.7 -1,0 -1,0 -1,0 -1-0.3 -1,0.1 -1,0.3 -1,0.2 -1,0.5 -1,0.1 -1,0.3 -1,0.7 -1,0.2 -1-0.3 -1,0 -1-0.3 -1-1.2 -1,2.5 -1,0.6 -1,0.1 -1-0.3 -1-1 -1-1.8 -1,0.2 -1,0.6 -1,0.1 -1,0.6 -1,0.5 -1,0 -1-0.5 -1-1 -1,0.2 -1,0 -1,0.3 -1-0.2 -1-0.4 -1,0.1 -1,0.2 -1,0.3 -1,0 -1,0.1 -1,0.7 -1,0.2 -1-0.3 -1-0.6 -1-1 -1,1.5 -1,0.7 -1,0.2 -1-0.1 -1-0.2 -1-0.7 -1-1 -1,1.2 -1,0.4 -1,0 -1-0.4 -1-0.6 -1-0.2 -1-0.3 -1,0.1 -1,0.9 -1,0.3 -1-0.1 -1-0.3 -1,0.1 -1,0.2 -1,0 -1-0.5 -1-0.6 -1,0.4 -1,0.5 -1,0.9 -1,0.4 -1-0.1 -1,0.4 -1,0 -1-0.4 -1-1.3 -1,0.4 -1,0.2 -1,0.7 -1,0.4 -1,0 -1-0.5 -1-0.9 -1-0.3 -1-0.1 -1-0.6 -1-0.2 -1-0.3 -1,0.4 -1,0.1 -1-0.3 -1,0 -1,0.2 -1,0 -1,0.4 -1-0.1 -1,0 -1,0.6 -1,0.1 -1-0.4 -1-0.2 -1-0.2 -1,0.7 -1,0.4 -1,0 -1-0.6 -1-0.7 -1,0 -1,0.3 -1,0.7 -1,0.3 -1,0.4 -1,1.1 -1,0.4 -1-0.1 -1-0.6 -1-2.2 -1,0.2 -1-0.3 -1,0 -1-0.1 -1,0.1 -1-0.1 -1,0.2 -1,0.3 -1,0.2 -1,0.1 -1,0 -1-0.1 -1,1.3 -1,0.4 -1,0 -1-0.5 -1-1.8 -1-0.1 -1,0.3 -1-0.1 -1,0.2 -1,0.3 -1-0.1 -1-0.4 -1-0.6 -1,0 -1,0 -1,0.4 -1,0.6 -1,0.1 -1-0.2 -1,0.4 -1,0.1 -1-0.2 -1-0.3 -1-0.1 -1-0.5 -1-0.1 -1,0.2 -1,0.5 -1,0 -1,0 -1,0 -1-0.3 -1-0.4 -1,0.2 -1,0.4 -1,0.3 -1-0.1 -1-0.4 -1-0.1 -1-0.4 -1-0.1 -1-0.1 -1,0.1 -1,0.5 -1,0.5 -1,0 -1-0.4 -1-0.8 -1,1.9 -1,1.1 -1,0.4 -1-0.1 -1-0.6 -1-0.7 -1-0.5 -1-0.9 -1,0.8 -1,0.1 -1,0.3 -1,0.3 -1,0 -1-0.6 -1-0.1 -1-0.3 -1-0.8 -1,0.1 -1,0.2 -1,0.8 -1,0.2 -1-0.2 -1-0.8 -1-0.2 -1,0.7 -1,0.2 -1,0.1 -1-0.1 -1-0.3 -1,0 -1,0.5 -1,0.8 -1,0.2 -1-0.2 -1-0.8 -1,0.1 -1,0.4 -1,0 -1-0.4 -1-0.4 -1,0.7 -1,0.3 -1,0 -1,0.2 -1-0.1 -1-0.5 -1-0.8 -1-0.6 -1,1.8 -1,0.8 -1,0.2 -1-0.2 -1-0.5 -1-0.6 -1,0.1 -1-0.4 -1-0.4 -1-0.1 -1-0.5 -1,1 -1,0.3 -1-0.1 -1-0.5 -1,0.4 -1,0.1 -1-0.3 -1-0.4 -1,0.5 -1,0.3 -1-0.1 -1-0.5 -1,0.8 -1,0.3 -1-0.1 -1-0.7 -1-0.5 -1-0.1 -1-0.1 -1-0.2 -1-0.3 -1,0.5 -1,0.7 -1,0.6 -1,0.1 -1-0.4 -1-0.2 -1,0.3 -1,0 -1,0.6 -1,0.1 -1-0.4 -1-1.1 -1,0.7 -1,0.5 -1,0 -1-0.5 -1-0.5 -1-0.1 -1-0.6 -1,0 -1,1.3 -1,0.5 -1,0.1 -1-0.4 -1-1.4 -1-0.1 -1,0.4 -1-0.1 -1-0.5 -1-0.3 -1-0.1 -1,0.2 -1-0.1 -1,0 -1-0.3 -1,0.5 -1,0.2 -1-0.2 -1,0.1 -1-0.2 -1-0.3 -1,0 -1,0.3 -1,0.2 -1,0.6 -1,0 -1,0.3 -1,0.2 -1-0.1 -1-0.2 -1,0.6 -1,0.1 -1-0.4 -1-0.2 -1-0.2 -1-0.7 -1-0.3 -1-0.3 -1-0.5 -1,1.3 -1,0.7 -1,0.1 -1-0.2 -1-0.9 -1-0.3 -1,1.7 -1,0.7 -1,0.2 -1-0.3 -1-0.9 -1-0.6 -1-0.2 -1,0.5 -1,0.3 -1-0.1 -1-0.3 -1-0.7 -1-0.3 -1,0.1 -1,0.2 -1-0.1 -1-0.4 -1,0.2 -1,0.9 -1,0.5 -1,0 -1-0.4 -1-0.9 -1-0.2 -1-0.2 -1,0.3 -1,0.4 -1,0 -1-0.2 -1,0 -1-0.2 -1,0.3 -1,0.3 -1-0.2 -1,2 -1,0.7 -1,0.1 -1-0.3 -1-1 -1,0.1 -1-0.2 -1-0.7 -1-0.2 -1,0.1 -1-0.4 -1-0.7 -1,1 -1,0.3 -1-0.1 -1-0.7 -1,0.5 -1,0 -1-0.5 -1,0 -1,0.1 -1,0.2 -1,0.6 -1,0.2 -1,0.5 -1,0.2 -1-0.2 -1-0.7 -1-1.6 -1-0.7 -1,0 -1,0.3 -1,0.2 -1-0.1 -1-0.2 -1-0.3 -1,0.4 -1,0.2 -1,0.7 -1,0.3 -1-0.1 -1-0.5 -1-0.9 -1-0.1 -1,0 -1,1 -1,0.3 -1-0.1 -1,0 -1,0.8 -1,0.2 -1-0.2 -1-0.6 -1-0.1 -1-0.5 -1,0.2 -1,0.7 -1,0.3 -1-0.1 -1-0.5 -1,0.5 -1,0.3 -1-0.2 -1-0.6 -1-0.1 -1-0.2 -1-0.1 -1,0.5 -1,0.4 -1,0.7 -1,0.4 -1,0 -1-0.4 -1-1.8 -1,0 -1,0 -1-0.3 -1-0.2 -1,1.2 -1,0.5 -1,0 -1-0.5 -1-2 -1,0.1 -1,0.4 -1-0.1 -1-0.5 -1,0 -1,0.2 -1-0.1 -1-0.6 -1-0.1 -1-0.1 -1-0.6 -1-1.7 -1,0.1 -1,0.2 -1,0.3 -1,0 -1-0.5z"/>
<path fill="#A31828" d="M114,308.3l1-0.4 1,0 1,0.4 1,0.2 1-0.4 1-0.1 1-0.3 1-0.4 1,0.1 1,0.5 1,1.2 1,0.8 1,0.1 1-0.4 1,0.1 1,0.5 1,1.1 1,0.4 1-0.2 1,0.1 1,0.1 1,0.2 1-1.8 1-0.7 1-0.2 1,0.3 1,0.9 1,2.7 1-0.1 1-0.1 1-0.5 1,0 1,0.5 1,0 1-0.1 1,0 1,0.1 1-0.3 1,0.2 1,0.4 1-1.2 1-0.3 1,0.1 1-0.2 1,0 1,0.2 1,0.2 1,0 1,0.3 1,1.2 1,0.1 1-0.4 1-0.3 1,0.2 1,0.7 1,0 1,0.3 1,0.1 1-0.2 1-0.5 1,0 1,0 1,0.2 1-0.1 1-0.2 1,0 1,0.2 1,0.4 1-0.7 1-0.7 1-0.1 1,0.1 1,0.1 1,0.6 1,0 1,0.3 1,0.1 1,0 1-0.3 1-0.1 1,0.3 1,0 1,0 1,0.4 1,0.1 1,0 1,0.1 1,0.4 1-0.2 1-0.5 1-0.3 1-0.2 1,0 1,0.5 1-0.7 1-0.2 1,0.2 1,0.3 1-0.1 1-0.1 1,0.4 1-0.1 1-0.2 1-0.4 1,0.1 1,0 1,0.1 1,0.4 1-0.3 1,0.1 1,0.7 1-0.1 1-0.5 1-0.2 1,0.2 1,0.8 1-0.2 1,0.1 1-0.8 1-0.6 1-0.3 1,0.2 1,0.6 1,0.2 1,0.2 1-0.4 1-0.1 1,0.3 1-0.3 1,0.1 1,0.6 1-0.1 1,0.3 1-0.2 1-0.1 1,0.3 1-0.4 1-0.2 1,0.2 1,0.8 1,0.1 1-0.7 1-0.3 1,0.2 1,0.2 1-0.4 1-0.2 1,0 1,0.1 1,0.1 1,0.3 1-0.1 1-0.1 1,0.4 1,0.1 1,0.3 1,0 1-2.8 1-0.5 1,0 1,0.4 1,1.3 1,0.3 1-0.2 1,0.3 1,0.1 1,0 1,0.4 1-0.4 1-0.1 1,0.3 1,0.6 1,0.1 1-2.3 1-0.9 1-0.3 1,0.2 1,0.7 1,2.7 1-0.5 1-0.2 1-0.2 1,0.1 1,0.1 1,0.3 1-0.3 1-0.4 1-0.2 1,0 1,0 1-1.2 1-0.3 1,0 1,0.6 1,0.2 1,0.1 1,0.6 1,1.6 1-0.5 1-0.1 1,0.1 1-0.9 1-0.2 1,0.1 1,0.1 1,0 1,0.4 1,0.4 1,0 1-0.4 1,0.1 1,0.6 1,0.4 1,0.3 1-0.4 1-0.5 1-0.1 1,0 1,0.4 1-0.1 1,0 1,0.5 1-0.1 1-0.4 1,0 1-0.5 1,0 1,0.3 1-0.4 1-0.6 1-0.1 1,0.4 1,0.9 1-0.3 1,0.1 1,0.5 1,0.2 1-0.7 1-0.8 1-0.2 1,0.2 1,0.8 1,0.1 1,0 1,0.1 1,0.6 1-0.2 1-0.3 1-0.1 1,0.4 1-0.5 1-0.2 1-0.4 1,0 1,0.4 1-0.2 1,0.3 1,0.4 1-0.3 1,0.1 1-1.4 1-0.6 1-0.1 1,0.3 1,1 1,0.5 1-0.5 1,0 1-0.4 1-0.1 1,0.4 1,0.8 1,0.3 1,0.4 1,0.3 1-0.1 1,0.4 1-0.5 1-0.4 1-0.7 1-0.1 1,0.2 1-0.6 1-0.1 1,0.1 1,0 1-0.3 1,0 1,0.2 1,0 1,0.4 1-0.2 1-0.2 1-0.2 1,0.2 1,0.6 1-2.7 1-0.5 1,0 1,0.5 1,2.1 1-0.2 1,0.3 1,1 1,0.1 1-0.3 1-0.3 1-0.2 1-0.4 1,0.1 1,0 1,0.3 1-0.3 1,0 1,0.4 1-1.4 1-0.6 1-0.1 1,0.4 1,1.1 1-0.2 1-0.1 1,0.4 1,0.4 1,0 1,0.2 1-0.2 1-0.3 1-0.3 1,0.2 1,0.3 1-0.4 1,0 1,0.1 1-0.7 1-0.2 1,0.2 1,0.8 1,0.9 1-0.7 1-0.2 1-0.2 1,0.2 1,0.8 1-0.1 1,0.2 1,0.1 1,0 1-0.5 1,0 1-0.2 1-0.3 1,0.1 1,0.6 1-0.5 1-0.1 1,0.3 1,0.8 1-0.2 1-2.4 1-0.6 1-0.1 1,0.3 1,1 1,1.3 1,0.1 1,0 1-0.1 1,0 1,0.1 1,0 1,0.2 1,0.2 1,0.2 1-1.3 1-0.4 1,0 1,0.3 1,1 1,0.4 1,0.1 1-0.1 1,0.3 1-0.5 1-0.7 1-0.6 1-0.2 1,0.2 1,0.8 1,0.1 1,0 1-1.3 1-0.7 1-0.2 1,0.2 1,0.9 1,0.4 1-0.2 1,0.1 1,0.1 1,0.3 1-0.5 1-0.3 1,0 1-0.5 1-0.1 1,0.4 1,0.4 1-0.9 1-0.2 1,0.1 1,0.7 1,1.4 1-0.9 1-0.5 1,0 1,0 1,0.1 1,0.6 1,0 1-0.3 1,0.1 1,0.2 1-0.9 1-0.2 1,0.2 1,0.4 1,0 1,0.3 1,0.3 1,0.1 1-0.3 1-0.5 1-0.7 1-0.4 1,0.1 1,0.6 1,1.3 1,0.2 1,0 1-0.7 1-0.1 1,0.2 1,0.6 1-0.2 1-0.6 1-0.4 1,0.1 1,0.6 1,0 1,0.1 1,0.5 1,0.7 1-0.3 1-0.4 1-0.2 1,0 1,0.6 1,0.6 1-0.1 1-0.5 1-0.3 1,0.1 1-1.2 1-0.7 1-0.2 1,0.3 1,0.8 1,1.1 1,0 1-0.1 1,0.4 1-1.7 1-0.5 1-0.1 1,0.4 1,0.3 1-0.2 1,0.1 1,0.6 1-0.7 1-0.4 1,0 1,0.5 1,0.8 1-0.3 1,0 1,0 1,0.1 1-0.6 1-0.1 1,0.3 1,0.9 1,0.3 1-0.3 1,0.1 1-0.3 1-0.1 1,0 1,0 1-0.2 1,0.2 1-0.3 1,0 1,0.5 1,0.4 1,0.2 1,0.2 1-1.7 1-0.5 1-0.1 1,0.4 1,0.6 1-0.3 1,0.1 1,0.4 1,0.2 1,0.1 1,0 1,0.1 1-0.5 1-0.1 1,0.1 1,0.2 1-0.5 1-0.1 1,0.1 1,0.4 1,0.4 1-0.1 1,0 1,0.5 1-1.1 1-1 1-0.3 1,0.1 1,0.6 1,0.5 1,0.4 1,0.3 1,0.1 1-0.2 1-0.5 1-0.5 1,0 1,0.5 1,0.2 1-0.1 1-0.4 1-0.2 1,0.3 1,0.5 1-0.3 1,0.1 1-0.1 1-0.2 1,0.3 1,0.5 1,0.1 1,0.2 1,0.4 1-0.3 1,0.1 1-0.8 1-0.5 1,0 1,0.5 1,0.1 1,0.1 1,0.6 1,0.2 1-0.7 1-0.3 1,0.1 1-0.3 1,0.2 1,0.1 1,0 1-0.2 1,0.1 1-1.1 1-0.3 1,0 1,0.6 1,1.1 1-0.5 1,0 1,0.3 1,0 1-0.3 1,0.2 1,0.4 1-0.3 1-0.3 1-0.2 1,0.2 1-0.1 1-1.2 1-0.6 1-0.1 1,0.4 1,1.1 1,0.6 1-0.1 1,0.1 1-0.1 1-0.1 1,0.2 1,0 1-0.1 1,0.1 1-0.4 1-0.2 1,0 1-0.1 1,0.4 1,0.2 1,0.4 1-0.2 1-0.1 1,0 1-0.1 1,0.4 1-0.2 1-0.3 1,0.1 1,0 1-0.4 1,0 1,0.4 1-1 1-0.5 1-0.1 1,0.3 1,1.2 1,0.9 1-0.3 1-0.5 1-1.5 1-0.9 1-0.2 1,0.1 1,0.8 1,1.1 1-0.3 1,0 1,0.4 1-0.1 1-0.1 1,0.2 1,0.8 1-0.3 1,0.1 1,0.2 1-0.3 1,0 1-1.2 1-0.4 1-0.1 1-1 1-0.3 1,0.1 1,0.7 1,2 1-0.3 1,0.2 1,0.1 1-0.1 1-0.2 1-0.2 1,0.3 1,0 1,0.1 1,0 1,0 1,0.3 1,0 1,0.4 1-0.1 1-0.5 1-0.3 1-0.4 1,0 1-0.1 1-0.2 1,0.3 1,0.5 1,0.2 1-0.1 1-0.7 1-0.2 1,0.1 1-0.5 1,0 1,0.4 1,1.4 1,0.2 1,0.2 1-0.2 1-0.1 1-0.3 1-0.4 1-0.1 1,0 1,0.2 1,0.1 1,0.4 1,0 1,0.3 1-0.6 1-0.5 1-0.1 1,0.4 1,0.6 1-0.3 1,0.1 1-0.5 1-0.9 1-0.3 1,0.2 1,0.7 1,1 1-1 1-1.4 1-0.5 1-0.1 1,0.3 1,1.2 1-0.6 1-0.3 1,0.1 1,0.7 1,0.7 1-0.2 1,0.2 1,0.7 1,0.6 1-0.3 1-0.4 1-0.1 1,0.3 1,0 1-0.4 1,0.1 1,0.5 1-0.9 1-1 1-0.3 1,0.2 1,0.6 1,0.8 1-0.2 1,0 1,0.5 1,0.3 1,0.1 1-0.9 1-0.4 1-0.2 1,0.2 1,0.5 1-0.5 1-0.1 1,0.4 1,0.1 1,0.5 1,0.1 1-0.1 1-0.5 1-0.3 1,0 1-0.5 1,0 1,0.5 1,0.9 1-0.4 1-0.8 1-0.4 1,0 1,0.4 1,0.4 1,0.4 1,0.3 1-0.2 1-0.2 1,0.2 1-0.1 1-0.4 1-1 1-0.3 1-0.1 1-0.2 1,0.2 1,0.8 1,1.3 1-0.7 1-1.1 1-0.4 1,0.1 1,0.3 1,0.1 1,0.3 1,0 1,0.5 1-0.7 1-0.2 1,0.1 1,0.8 1,0.6 1-0.1 1,0.2 1-0.3 1-0.2 1,0.1 1-0.2 1-0.5 1-0.1 1,0.4 1,0.9 1,0.1 1,0 1-0.5 1-0.9 1-0.3 1,0.2 1-0.1 1,0.2 1,0.1 1,0.7 1-0.1 1-0.1 1,0.4 1,0.4 1-0.4 1,0 1,0.3 1-0.3 1,0 1-1.2 1-0.6 1-0.4 1,0 1,0.4 1,1.4 1,0.4 1,0.1 1,0 1-0.2 1,0 1-0.4 1,0 1-0.5 1,0 1,0.4 1-0.4 1-0.4 1,0 1,0.3 1-0.3 1-0.1 1-0.2 1,0.2 1,0.8 1-0.4 1-0.1 1,0.4 1,1.3 1-0.3 1-0.5 1-0.1 1,0.3 1-0.9 1-0.7 1-0.2 1,0.3 1,0.8 1,0.5 1-0.6 1-0.1 1,0.4 1,0.2 1-0.6 1-0.2 1,0.1 1-0.2 1,0.2 1,0.6 1-0.2 1-1.1 1-1.2 1-0.3 1,0.1 1,0.5 1-0.4 1-0.1 1,0.4 1,1.4 1,1.2 1-0.2 1-0.1 1,0.1 1,0.1 1,0.7 0,8.3 -1,0.4 -1,0 -1-0.4 -1-1.5 -1,0.1 -1-0.2 -1-0.1 -1,0.5 -1,0 -1,0.2 -1-0.1 -1,0.2 -1,0.2 -1-0.3 -1-0.8 -1,0.7 -1,0.2 -1,0.1 -1,0 -1-0.6 -1-0.5 -1,0.2 -1,0.3 -1-0.2 -1,0.2 -1,0 -1-0.5 -1-0.5 -1-0.2 -1-0.4 -1,2.3 -1,0.5 -1,0.1 -1-0.3 -1-1.1 -1,0.1 -1,0.1 -1-0.4 -1-0.2 -1,0.5 -1,0 -1,0.2 -1,0.9 -1,0.3 -1-0.2 -1-0.3 -1-0.4 -1-0.6 -1,0.3 -1-0.1 -1-0.5 -1,0.2 -1,0.5 -1,0.1 -1-0.3 -1-0.2 -1,0.1 -1,0.3 -1-0.1 -1-0.2 -1-0.3 -1-0.4 -1,0.3 -1,0.5 -1,0.4 -1,0.5 -1,0 -1-0.4 -1-1 -1-0.2 -1,0.4 -1,0 -1,0 -1,0.3 -1,0.1 -1-0.3 -1,0.3 -1,0.8 -1,0.9 -1,0.2 -1-0.1 -1-0.1 -1,0.2 -1-0.3 -1-1 -1-0.9 -1,0.2 -1-0.1 -1,0.4 -1,0.7 -1,0.2 -1-0.3 -1-0.9 -1-0.7 -1,0.5 -1,0.5 -1,0.4 -1,0.2 -1-0.1 -1,0 -1,0.5 -1,0.1 -1-0.3 -1-1.2 -1-0.8 -1,0.9 -1,0.6 -1,0 -1,0.2 -1,0 -1,0.1 -1-0.4 -1,0.2 -1-0.2 -1-0.7 -1,0.3 -1,0.6 -1,0.3 -1-0.2 -1-0.6 -1,0.9 -1,0.8 -1,0.2 -1-0.2 -1-0.8 -1-1.7 -1-0.1 -1,0.8 -1,0.5 -1,1 -1,0.4 -1-0.1 -1-0.5 -1-2.1 -1,0.1 -1-0.2 -1,0.3 -1,0.7 -1,0.7 -1,0.2 -1-0.1 -1-0.7 -1-0.5 -1-0.6 -1,0.9 -1,0.2 -1-0.1 -1,0.3 -1,0 -1-0.4 -1-0.6 -1,0.1 -1,0.2 -1-0.2 -1,0.1 -1,0.8 -1,0.1 -1-0.2 -1-0.3 -1,0.2 -1-0.3 -1,1.2 -1,0.6 -1,0.1 -1,0.3 -1,0.7 -1,0.1 -1-0.3 -1-1 -1-0.2 -1-0.3 -1-1 -1-0.6 -1,0.1 -1-0.3 -1,0.9 -1,0.5 -1,0.1 -1-0.4 -1-0.1 -1,0.2 -1-0.3 -1-0.9 -1,2.1 -1,1.1 -1,0.4 -1-0.1 -1-0.6 -1-2 -1-0.2 -1,0.3 -1,0.9 -1,0.3 -1-0.1 -1-0.6 -1-1 -1,0.1 -1-0.3 -1,2.1 -1,0.8 -1,0.2 -1-0.2 -1-0.8 -1-1.4 -1,0.1 -1,0.6 -1,0.1 -1-0.4 -1-0.2 -1,0.2 -1,0.1 -1-0.2 -1-0.4 -1,0.5 -1,0.2 -1-0.1 -1-0.7 -1-0.2 -1,0.4 -1-0.1 -1,0.1 -1,0.1 -1-0.4 -1-0.4 -1,0.1 -1-0.3 -1,0.1 -1-0.1 -1,0.4 -1,0 -1-0.1 -1,0 -1,0.6 -1,1 -1,0.3 -1-0.2 -1-0.6 -1,0 -1-0.1 -1-0.5 -1,0.4 -1,0 -1,0 -1,0.3 -1-0.1 -1-0.6 -1,0.6 -1,0.5 -1,0.1 -1-0.3 -1,0.3 -1,0.1 -1-0.3 -1-0.2 -1,0.7 -1,0.2 -1-0.3 -1-0.8 -1-0.6 -1,0 -1,0.3 -1,0.6 -1,0.1 -1-0.3 -1-0.6 -1-0.2 -1,0.8 -1,0.5 -1,0 -1-0.5 -1-0.7 -1,0.3 -1,0.2 -1-0.2 -1-0.1 -1,0.3 -1,0.9 -1,0.2 -1,1 -1,0.3 -1-0.1 -1-0.6 -1-2.3 -1,0.4 -1-0.1 -1,0.2 -1,0.8 -1,0.2 -1-0.2 -1-0.8 -1,0 -1-0.2 -1-0.8 -1,1.2 -1,0.5 -1,0 -1-0.5 -1-0.5 -1-0.1 -1,1 -1,0.3 -1-0.1 -1-0.4 -1-0.7 -1-0.2 -1,0.4 -1,0 -1-0.4 -1,0.3 -1,0.1 -1,0.3 -1-0.2 -1-0.2 -1,0 -1,0 -1,0.2 -1,0 -1,0.5 -1,0 -1-0.2 -1-0.3 -1-0.1 -1,0.7 -1,0.3 -1-0.1 -1-0.5 -1,0.3 -1,0 -1-0.1 -1,0.2 -1,0 -1-0.2 -1-0.2 -1-0.4 -1-0.4 -1-0.1 -1,0.8 -1,1.1 -1,0.4 -1-0.1 -1-0.6 -1,1.2 -1,0.6 -1,0.2 -1-0.3 -1-1 -1-2.2 -1-0.2 -1-0.5 -1,0.8 -1,0.5 -1,0 -1-0.3 -1,0.6 -1,0.4 -1,0.2 -1,0.2 -1-0.2 -1-0.8 -1-0.6 -1-0.1 -1,0.3 -1,0.5 -1,0 -1-0.4 -1-0.1 -1,0.1 -1,0.2 -1,0 -1-0.2 -1,0.4 -1,0.4 -1-0.1 -1-0.6 -1-1.3 -1,0.8 -1,0.2 -1,0.3 -1,0.9 -1,0.3 -1-0.2 -1-0.7 -1-0.8 -1,0.6 -1,1.1 -1,0.4 -1,0 -1-0.5 -1-1.2 -1,0.2 -1-0.2 -1,0.2 -1-0.3 -1,0.1 -1,0.1 -1-0.1 -1,0.4 -1,0.2 -1,0.7 -1,0.3 -1-0.1 -1-0.7 -1,1.9 -1,0.6 -1,0.1 -1-0.4 -1-1.1 -1-1.5 -1,1.1 -1,0.4 -1,0 -1-0.6 -1-0.7 -1-0.2 -1-0.1 -1,0 -1,0 -1-0.5 -1-0.1 -1-0.1 -1,0.8 -1,0.5 -1,0.1 -1-0.2 -1,0.4 -1,0.5 -1,0 -1-0.4 -1-1.1 -1-0.4 -1,1.8 -1,0.5 -1,0 -1-0.4 -1-0.7 -1-0.1 -1,0.1 -1-0.3 -1,0 -1-0.1 -1,0.1 -1-0.2 -1,0.9 -1,0.5 -1,0 -1-0.4 -1,0.2 -1,0 -1-0.6 -1-1.1 -1,0.1 -1-0.1 -1,0.2 -1,0.2 -1-0.1 -1,0 -1,0 -1-0.3 -1-0.1 -1-0.4 -1,1.2 -1,0.7 -1,0.1 -1-0.2 -1-0.9 -1-0.5 -1,1.2 -1,0.7 -1,0.2 -1-0.3 -1-0.9 -1-0.7 -1,0 -1,0.2 -1-0.1 -1,0.4 -1,0 -1-0.3 -1,0.2 -1,0 -1,0 -1,0.6 -1,0.1 -1-0.4 -1,0 -1-0.1 -1-0.3 -1,1 -1,0.5 -1,0 -1-0.4 -1-0.7 -1,0 -1-0.1 -1,0 -1,0.6 -1,0.2 -1-0.2 -1-0.2 -1-0.6 -1-0.7 -1-0.2 -1,0.3 -1,0.3 -1,0.1 -1,0 -1,1 -1,0.3 -1-0.2 -1-0.6 -1-0.3 -1,0.3 -1-0.2 -1-0.7 -1,0.1 -1,0.2 -1,0.4 -1,0 -1-0.3 -1,0.3 -1-0.1 -1,0.9 -1,0.3 -1-0.2 -1-0.6 -1,0.4 -1,0.3 -1-0.2 -1,0.4 -1,0.4 -1,0 -1-0.5 -1-1.3 -1,0.2 -1,0.5 -1,0 -1-0.5 -1,0.5 -1,0.4 -1,0 -1-0.5 -1-0.1 -1,0.5 -1,0.1 -1-0.4 -1-0.4 -1,0.7 -1,0.2 -1-0.1 -1,0 -1-0.2 -1-0.9 -1,1 -1,0.6 -1,0.1 -1-0.4 -1-1.1 -1,2 -1,0.5 -1,0 -1-0.5 -1-2.2 -1,0.6 -1,0.2 -1-0.2 -1-0.8 -1-0.4 -1,0.4 -1,0.3 -1,0.2 -1-0.2 -1-0.3 -1,0.4 -1,0.1 -1-0.4 -1-0.6 -1,0.2 -1,0.5 -1,0.1 -1,0.2 -1,0.7 -1,0.3 -1-0.3 -1-0.6 -1,0.8 -1,0.6 -1,0.1 -1-0.3 -1-1 -1-0.5 -1-0.5 -1-0.2 -1,0.1 -1,0.4 -1,0.2 -1-0.3 -1-0.4 -1,0.6 -1,0.1 -1-0.3 -1-0.3 -1-0.4 -1,0.8 -1,0.9 -1,0.2 -1-0.1 -1-0.7 -1-0.3 -1,1.3 -1,0.7 -1,0.1 -1-0.3 -1-1 -1-1 -1,0.2 -1-0.2 -1,0.5 -1,0.2 -1-0.2 -1,1.4 -1,0.5 -1,0 -1-0.4 -1-1 -1-0.1 -1,0 -1,0.1 -1,0.5 -1,0.6 -1,0.1 -1-0.4 -1-1.1 -1,0.9 -1,0.9 -1,0.3 -1-0.2 -1-0.7 -1-0.8 -1,0 -1-0.5 -1,0.2 -1,0.1 -1,0.1 -1,0.4 -1-0.1 -1-0.5 -1-0.5 -1-0.1 -1-0.3 -1,0.2 -1,0.5 -1,0.1 -1-0.4 -1,0.5 -1,0.2 -1-0.2 -1,0.4 -1,0.1 -1-0.4 -1-0.7 -1-0.2 -1-0.3 -1,1 -1,0.4 -1,0.1 -1-0.3 -1,0 -1,0 -1,0 -1-0.2 -1-0.4 -1,0.1 -1-0.1 -1,0.8 -1,1 -1,0.3 -1-0.1 -1-0.7 -1-0.2 -1,0.5 -1,0.2 -1-0.2 -1-0.8 -1-0.6 -1-0.2 -1,0.8 -1,0.4 -1-0.1 -1,0.1 -1,0 -1-0.1 -1,0.1 -1-0.3 -1-0.4 -1,0.4 -1,0.2 -1-0.2 -1-0.8 -1-0.8 -1,0.4 -1,0.3 -1,0 -1-0.3 -1,0.3 -1,0 -1,0.4 -1,0 -1-0.4 -1,0.2 -1-0.3 -1-0.3 -1,0.3 -1,0 -1,0.4 -1-0.1 -1,1 -1,0.3 -1,0.5 -1,0.4 -1-0.1 -1-0.5 -1-2.2 -1,0 -1,0.2 -1,0.1 -1,0.5 -1,0.4 -1,0 -1,1 -1,0.4 -1,0 -1-0.4 -1-2.1 -1,0.5 -1,0.3 -1,0.3 -1,0.6 -1,0 -1-0.3 -1-1.2 -1-0.3 -1,0.3 -1,0.2 -1,0.2 -1-0.2 -1,1.3 -1,0.7 -1,0.1 -1-0.2 -1-0.9 -1-0.9 -1,0.3 -1,0 -1-0.5 -1-0.7 -1,0.1 -1-0.2 -1-0.1 -1,0.4 -1,0.4 -1,0 -1,0.2 -1-0.1 -1-0.3 -1-0.2 -1,0.3 -1,0 -1,1.1 -1,0.5 -1,0 -1-0.5 -1-0.5 -1,0.1 -1-0.1 -1,0.7 -1,0.3 -1-0.2 -1-0.7 -1-0.7 -1,0 -1,2.2 -1,0.5 -1,0.1 -1-0.3 -1-1.2 -1-1.2 -1,0.1 -1-0.1 -1-0.7 -1,1.1 -1,0.5 -1,0.1 -1-0.3 -1-0.8 -1-0.1 -1-0.6 -1,0.2 -1,0.2 -1,1.3 -1,0.5 -1,0.1 -1-0.3 -1-1 -1-0.5 -1-0.3 -1,0.9 -1,0.7 -1,0.2 -1-0.3 -1-0.8 -1-1.5 -1,0.4 -1,0 -1,0.9 -1,0.5 -1,0.1 -1-0.3 -1-0.3 -1,0 -1,0 -1-0.1 -1,0.7 -1,0.2 -1-0.3 -1-0.9 -1,0.2 -1,0.8 -1,0.2 -1-0.2 -1-0.4 -1-0.4 -1,0.6 -1,0.6 -1,0 -1-0.3 -1-0.7 -1-0.2 -1-0.4 -1,0.3 -1,0.2 -1-0.2 -1-0.5 -1,0 -1-0.3 -1-0.1 -1,0.6 -1,0.2 -1-0.3 -1,0.1 -1,0.1 -1,0.2 -1,0.8 -1,0.9 -1,0.2 -1-0.2 -1-0.7 -1-0.3 -1,0.1 -1-0.4 -1-0.3 -1,0.2 -1-0.2 -1-0.6 -1,1.7 -1,0.5 -1,0 -1-0.5 -1-1.2 -1-0.6 -1,1 -1,0.3 -1-0.1 -1-0.6 -1,0.5 -1,0 -1-0.2 -1,0.3 -1-0.1 -1-0.6 -1-1 -1,0 -1-0.5 -1-0.8 -1,1.1 -1,1 -1,0.3 -1-0.2 -1-0.6 -1-0.1 -1-0.2 -1-0.6 -1-2.3 -1-0.2 -1,0.1 -1,0 -1-0.1 -1,0.2 -1-0.2 -1-0.8 -1-0.3 -1-1 -1-1.4 -1-0.9z"/>
<circle cx="117.2" cy="305.2" r="2.2" fill="#2B4A94"/>
<circle cx="126.7" cy="308.9" r="2.2" fill="#2B4A94"/>
</g>
<text class="a" x="97.8" y="87.9" text-anchor="end" textLength="34.2" lengthAdjust="spacingAndGlyphs">0.15</text>
<text class="a" x="97.8" y="136.9" text-anchor="end" textLength="34.2" lengthAdjust="spacingAndGlyphs">0.13</text>
<text class="a" x="97.8" y="185.9" text-anchor="end" textLength="34.2" lengthAdjust="spacingAndGlyphs">0.11</text>
<text class="a" x="97.8" y="234.9" text-anchor="end" textLength="34.2" lengthAdjust="spacingAndGlyphs">0.09</text>
<text class="a" x="97.8" y="283.9" text-anchor="end" textLength="34.2" lengthAdjust="spacingAndGlyphs">0.07</text>
<text class="a" x="97.8" y="332.9" text-anchor="end" textLength="34.2" lengthAdjust="spacingAndGlyphs">0.05</text>
<text class="a" x="97.8" y="381.9" text-anchor="end" textLength="34.2" lengthAdjust="spacingAndGlyphs">0.03</text>
<text class="a" x="97.8" y="430.9" text-anchor="end" textLength="34.2" lengthAdjust="spacingAndGlyphs">0.01</text>
<text class="a" x="97.8" y="479.9" text-anchor="end" textLength="40.0" lengthAdjust="spacingAndGlyphs">-0.01</text>
<text class="a" x="115.5" y="479.9" text-anchor="middle" textLength="9.8" lengthAdjust="spacingAndGlyphs">0</text>
<text class="a" x="265.8" y="479.9" text-anchor="middle" textLength="29.3" lengthAdjust="spacingAndGlyphs">500</text>
<text class="a" x="416" y="479.9" text-anchor="middle" textLength="39.1" lengthAdjust="spacingAndGlyphs">1000</text>
<text class="a" x="565.8" y="479.9" text-anchor="middle" textLength="39.1" lengthAdjust="spacingAndGlyphs">1500</text>
<text class="a" x="715.6" y="479.9" text-anchor="middle" textLength="39.1" lengthAdjust="spacingAndGlyphs">2000</text>
<text class="a" x="865.4" y="479.9" text-anchor="middle" textLength="39.1" lengthAdjust="spacingAndGlyphs">2500</text>
<text class="a" x="1015.5" y="479.9" text-anchor="middle" textLength="39.1" lengthAdjust="spacingAndGlyphs">3000</text>
<text class="b" transform="translate(46.7,278) rotate(-90)" text-anchor="middle" textLength="83" lengthAdjust="spacingAndGlyphs">Output(V)</text>
<text class="b" x="437.5" y="521.6" textLength="190" lengthAdjust="spacingAndGlyphs">Sampling Interval: 10 s</text>
<text y="46"><tspan class="t" x="232.5" textLength="176.5" lengthAdjust="spacingAndGlyphs">4PID Plus-200</tspan><tspan class="c" x="409.8" y="45.9">高温高湿</tspan><tspan class="t" x="526.5" y="46" textLength="37.5" lengthAdjust="spacingAndGlyphs">(45</tspan><tspan class="c" x="564" y="45.9">℃</tspan><tspan class="t" x="592.8" y="46">, </tspan><tspan class="t" x="609.8" y="46" textLength="44.5" lengthAdjust="spacingAndGlyphs">90%</tspan><tspan class="t" y="46"> </tspan><tspan class="t" x="664.5" y="46" textLength="44.5" lengthAdjust="spacingAndGlyphs">RH)</tspan><tspan class="c" x="709" y="45.9">基线测试</tspan></text>
</svg>
</body>
</html>
